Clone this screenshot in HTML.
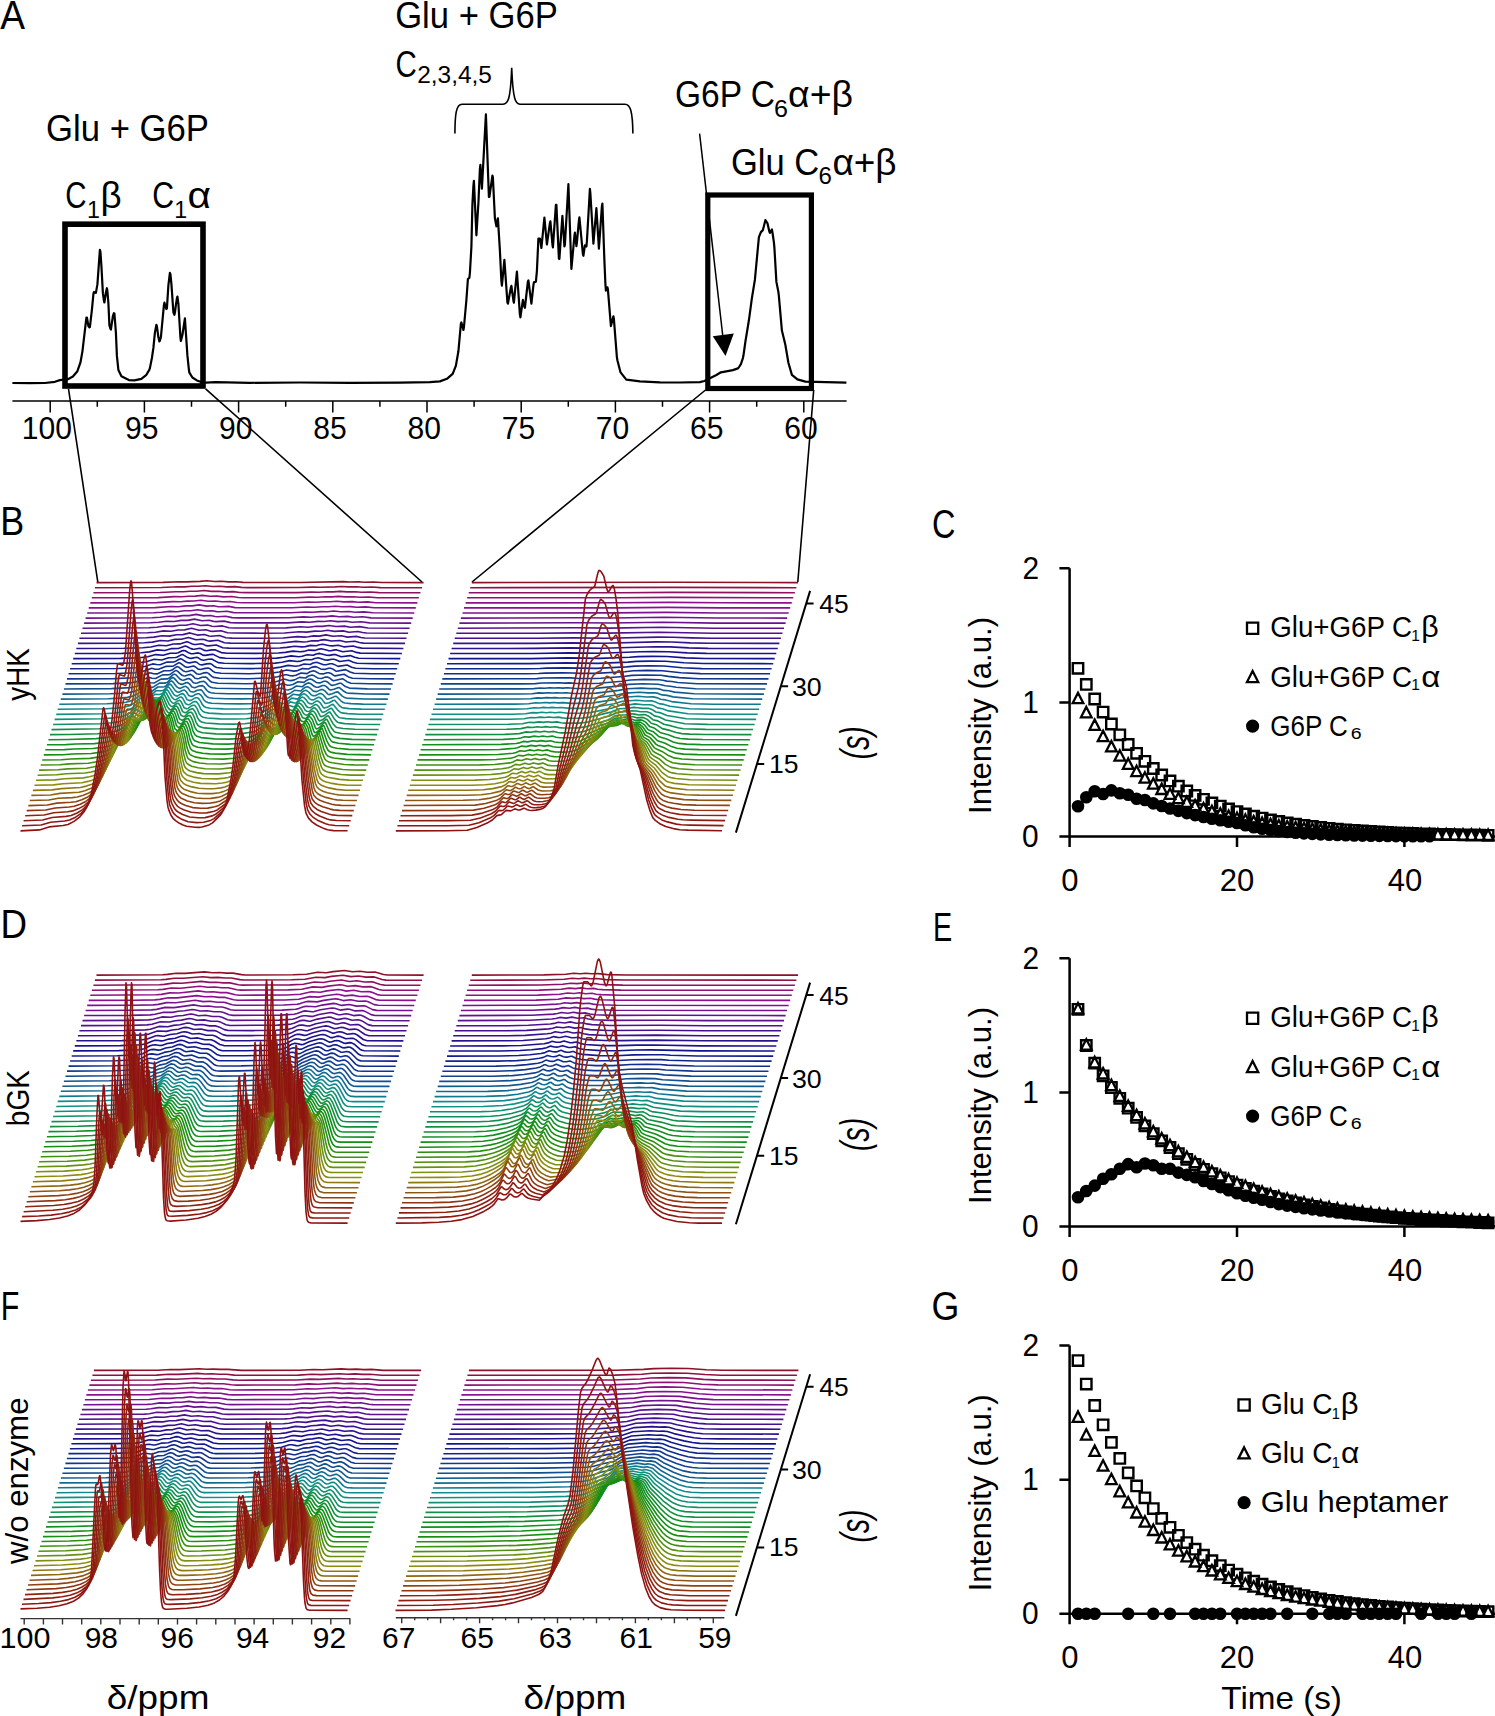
<!DOCTYPE html>
<html><head><meta charset="utf-8"><style>
html,body{margin:0;padding:0;background:#fff;overflow:hidden;}
svg{display:block;}
text{font-family:"Liberation Sans",sans-serif;fill:#000;}
</style></head><body>
<svg width="1495" height="1716" viewBox="0 0 1495 1716">
<rect width="1495" height="1716" fill="#fff"/>
<path d="M12.4 383l17.5 0.2l15-0.2l10-1.2l5-1.7l8-0.9l5-2.7l4.5-5.3l3-8.5l2-11.1l4-34l0.5-0.1l1.5 8.5l1 1.4l0.5-0.3l2-17.2l1.5-15.8l0.5-2l2 0.8l1.5-8.5l2.5-34.6l0.5 1.7l1 14.4l1.5 27.5l1 7l0.5 2.1l1.5-10l1-4.3l0.5 2.8l1 12.4l1 21.7l1 3.6l0.5 0.8l2-13.4l1-2.9l0.5 0.2l1.5 19.2l1 23.3l1.5 14.2l3 6.1l7.5 3.9l5.5 0.3l7-1.5l5-4.1l3-5.2l0.5-1.5l2-10.1l1.5-10.1l1.5-15.3l1.5-7.8l0.5 1.4l1.5 11.1l1 4.1l0.5-0.9l1-3.3l3-31.9l0.5-2.7l1 3.7l1 2.7l0.5-0.6l1.5-23.3l1.5-12.3l0.5 1.3l1 9.7l2 28.5l1 2.5l0.5-2l1-8l1-6.5l0.5-1.8l1 7.5l2 33.2l0.5 3.8l1.5-6l2.5-16.6l2.5 37l1.5 14.4l0.5 2.9l3 4.8l4.5 2.9l3 1.2l6 1l9.5-0.4l34.5 0.6l50-0.3l50 0.3l50-0.2l30-0.4l10-0.8l7-2.6l5.5-4.7l0.5-0.8l3-7.7l2.5-14.3l2.5-27.6l0.5-1.2l2 7.5l0.5-2.5l2.5-27.5l1.5-20.9l1.5-1.4l0.5-4.7l1.5-26.2l1-42.4l1-18.4l0.5-5.1l2.5 54.4l2-32.3l1.5-34.3l0.5-3.8l1.5 23.8l4-74.3l3 82.5l0.5 0l3-21.3l0.5 2l2 40.7l1.5 8l1.5-8l2 32.2l1.5 30.8l0.5 4.3l2.5-25.7l3 42.4l0.5 1.4l3-16.4l0.5-1.5l2 14.9l0.5 2l3-31.2l3 43.1l0.5 2.8l2.5-17.5l1.5 6.9l0.5 1l3-26.4l0.5-1l3 23.3l2-18.4l0.5-2.9l2-0.7l1-10.6l1.5-32.5l1.5 0l0.5 2.2l1 7.2l3-30.5l2.5 27l3-21.4l0.5-1.7l2 22.8l0.5 3.1l3-42.5l0.5 0.1l2.5 53.9l0.5 0l3-43l2 30.7l0.5-2.1l3.5-60.2l3 84.8l3-32.8l0.5-3.5l1.5 13.4l0.5-3.5l2-21.9l0.5-3.4l3.5 36.8l0.5 1.7l1.5-10.5l1.5 1.2l0.5-5.1l3-52.6l0.5 4.9l3 50l3-35.5l2.5 40.5l3-42.4l0.5-2.8l2 57.1l1 23.4l0.5 6.6l1.5-3.3l0.5 2l3 36.8l2.5-9.8l0.5 2.9l3 38.1l0.5 2.9l3 11.9l5.5 7.1l0.5 0.5l13.5 1.7l20 0.9l20 0.2l20-0.4l4.5-1.1l12-6l4.5-2.7l12-2.2l5-1.7l0.5-0.4l2.5-3.9l2-6l0.5-2.3l2-14.1l3.5-21.4l3-22.2l3-18.4l4-42.6l2-5l2-2l2.5-10l2 3l2 8.7l0.5 1.1l2-3.4l0.5 2.5l1.5 10.3l0.5 5.4l2 34.2l2 10.1l0.5 4.4l3 34.2l3.5 14.5l3 17.6l3.5 12.2l5.5 4.5l8 2.2l41 1" fill="none" stroke="#000" stroke-width="2.2" stroke-linejoin="round"/>
<path d="M12.4 401.1H846.6" stroke="#000" stroke-width="1.5" fill="none"/>
<path d="M50.2 401.1v11.3M97.3 401.1v5.7M144.4 401.1v11.3M191.5 401.1v5.7M238.6 401.1v11.3M285.7 401.1v5.7M332.8 401.1v11.3M379.9 401.1v5.7M427 401.1v11.3M474.1 401.1v5.7M521.2 401.1v11.3M568.3 401.1v5.7M615.4 401.1v11.3M662.5 401.1v5.7M709.6 401.1v11.3M756.7 401.1v5.7M803.8 401.1v11.3" stroke="#000" stroke-width="1.5" fill="none"/>
<text x="21.86" y="438.70" font-size="30.85" textLength="50.18" lengthAdjust="spacingAndGlyphs">100</text>
<text x="124.93" y="438.70" font-size="30.85" textLength="33.45" lengthAdjust="spacingAndGlyphs">95</text>
<text x="219.06" y="438.70" font-size="30.85" textLength="33.45" lengthAdjust="spacingAndGlyphs">90</text>
<text x="313.33" y="438.70" font-size="30.85" textLength="33.45" lengthAdjust="spacingAndGlyphs">85</text>
<text x="407.46" y="438.70" font-size="30.85" textLength="33.45" lengthAdjust="spacingAndGlyphs">80</text>
<text x="501.66" y="438.70" font-size="30.85" textLength="33.45" lengthAdjust="spacingAndGlyphs">75</text>
<text x="595.78" y="438.70" font-size="30.85" textLength="33.45" lengthAdjust="spacingAndGlyphs">70</text>
<text x="690.06" y="438.70" font-size="30.85" textLength="33.45" lengthAdjust="spacingAndGlyphs">65</text>
<text x="784.18" y="438.70" font-size="30.85" textLength="33.45" lengthAdjust="spacingAndGlyphs">60</text>
<rect x="65" y="224.2" width="138" height="161.8" fill="none" stroke="#000" stroke-width="5.6"/>
<rect x="707.8" y="195" width="103.6" height="193.5" fill="none" stroke="#000" stroke-width="5.2"/>
<path d="M454.9 133.4C455 115 456 104.2 462 104.2H503C508 104.2 510.5 100 511.7 67.8C513 100 515.5 104.2 520 104.2H625C630.5 104.2 632.6 112 632.9 133.4" fill="none" stroke="#000" stroke-width="1.6"/>
<path d="M699.6 133.6L722.9 337" stroke="#000" stroke-width="1.5" fill="none"/>
<path d="M712.8 336.2L733.8 333.4L725.5 356.1Z" fill="#000"/>
<path d="M68.5 388.8L97.8 582M205.6 388.8L422 582M705.5 390L472 582M813.7 390L797.8 582" stroke="#000" stroke-width="1.6" fill="none"/>
<text x="0.30" y="28.90" font-size="41.00" textLength="24.78" lengthAdjust="spacingAndGlyphs">A</text>
<text x="395.17" y="27.90" font-size="36.50" textLength="162.62" lengthAdjust="spacingAndGlyphs">Glu + G6P</text>
<text x="395.43" y="76.50" font-size="36.50" textLength="21.27" lengthAdjust="spacingAndGlyphs">C</text>
<text x="417.18" y="83.30" font-size="23.50" textLength="74.78" lengthAdjust="spacingAndGlyphs">2,3,4,5</text>
<text x="46.07" y="140.60" font-size="36.50" textLength="162.93" lengthAdjust="spacingAndGlyphs">Glu + G6P</text>
<text x="65.23" y="207.70" font-size="36.50" textLength="21.27" lengthAdjust="spacingAndGlyphs">C</text>
<text x="87.06" y="217.50" font-size="24.00" textLength="12.91" lengthAdjust="spacingAndGlyphs">1</text>
<text x="100.43" y="207.70" font-size="36.50" textLength="21.15" lengthAdjust="spacingAndGlyphs">β</text>
<text x="152.29" y="207.70" font-size="36.50" textLength="21.84" lengthAdjust="spacingAndGlyphs">C</text>
<text x="174.16" y="217.50" font-size="24.00" textLength="12.91" lengthAdjust="spacingAndGlyphs">1</text>
<text x="187.48" y="207.70" font-size="36.50" textLength="23.47" lengthAdjust="spacingAndGlyphs">α</text>
<text x="675.02" y="106.50" font-size="36.50" textLength="99.95" lengthAdjust="spacingAndGlyphs">G6P C</text>
<text x="774.14" y="116.60" font-size="24.00" textLength="13.99" lengthAdjust="spacingAndGlyphs">6</text>
<text x="788.10" y="106.50" font-size="36.50" textLength="64.98" lengthAdjust="spacingAndGlyphs">α+β</text>
<text x="730.97" y="174.80" font-size="36.50" textLength="88.28" lengthAdjust="spacingAndGlyphs">Glu C</text>
<text x="818.50" y="184.30" font-size="24.00" textLength="13.40" lengthAdjust="spacingAndGlyphs">6</text>
<text x="832.42" y="174.80" font-size="36.50" textLength="64.14" lengthAdjust="spacingAndGlyphs">α+β</text>
<g fill="none" stroke-width="1.6" stroke-linejoin="round">
<path d="M96.5 582.6l66.5-0.2l16-0.7l7.5 0.2l13.5-0.5l7-0.6l7.5 0.7l7-0.2l7 0.6l8-0.2l6.5 0.7l6 0.1l51 0l43-0.9l7 0.4l8.5-0.2l6 0.4l9-0.2l8.5 0.5l41.6 0.1" stroke="#8f1126"/>
<path d="M94.9 587.7l66.5-0.2l16-0.8l7.5 0.2l7-0.6l6.5 0l7-0.6l7.5 0.8l7-0.2l7 0.6l8-0.3l6.5 0.8l6 0.2l51-0.1l14.5-0.4l7.5 0.1l14.5-0.3l6.5-0.4l7 0.4l8.5-0.1l6 0.4l9-0.2l8.5 0.6l41.6 0.1" stroke="#8f1143"/>
<path d="M93.4 592.7l66.5-0.2l16-0.8l7.5 0.1l7-0.5l6.5-0.1l7-0.7l7.5 0.9l7-0.2l7 0.7l8-0.3l6.5 0.9l6 0.1l51 0l14.5-0.5l7.5 0.2l8.5-0.5l6 0.1l6.5-0.5l7 0.5l8.5-0.2l6 0.6l9-0.3l8.5 0.6l41.6 0.1" stroke="#8f1161"/>
<path d="M91.8 597.8l66.5-0.2l16-1l7.5 0.2l7-0.6l6.5-0.1l7-0.7l7.5 0.9l7-0.2l7 0.8l8-0.4l6.5 1l6 0.2l51 0l14.5-0.6l7.5 0.2l8.5-0.5l6 0.1l6.5-0.5l7 0.5l8.5-0.2l6 0.6l9-0.3l8.5 0.7l41.6 0.1" stroke="#8f1176"/>
<path d="M90.3 602.9l66.5-0.3l16-1l7.5 0.2l7-0.7l6.5-0.1l7-0.8l7.5 1l7-0.2l7 0.8l8-0.3l6.5 1l6 0.2l51 0l14.5-0.7l7.5 0.3l8.5-0.6l6 0.1l6.5-0.5l7 0.6l8.5-0.3l6 0.7l9-0.4l8.5 0.8l41.6 0.2" stroke="#8f118b"/>
<path d="M88.7 607.9l66.5-0.3l16-1.1l7.5 0.2l7-0.8l6.5 0l7-1l7.5 1.2l7-0.3l4.5 0.9l2.5 0.1l8-0.4l6.5 1.2l6 0.2l51-0.1l14.5-0.7l7.5 0.3l8.5-0.6l6 0.1l6.5-0.6l7 0.6l8.5-0.2l6 0.7l9-0.4l8.5 0.9l41.6 0.1" stroke="#89118f"/>
<path d="M87.2 613l66.5-0.3l8-0.4l8-0.9l7.5 0.3l7-0.9l6.5 0l7-1.1l7.5 1.3l7-0.3l4.5 0.9l2.5 0.1l8-0.4l6.5 1.3l6 0.2l51 0l14.5-0.8l7.5 0.3l8.5-0.7l6 0.1l6.5-0.7l7 0.8l8.5-0.3l6 0.8l9-0.4l8.5 0.9l41.6 0.2" stroke="#7e118f"/>
<path d="M85.6 618.1l66.5-0.4l8-0.4l8-1l7.5 0.3l7-1l6.5 0l7-1.2l7.5 1.5l7-0.4l4.5 1l2.5 0.2l8-0.5l6.5 1.4l6 0.3l51-0.1l14.5-0.9l7.5 0.4l8.5-0.8l6 0.1l6.5-0.7l7 0.8l8.5-0.3l6 0.9l9-0.5l8.5 1.1l41.6 0.2" stroke="#74118f"/>
<path d="M84.1 623.1l66.5-0.4l8-0.5l8-1l7.5 0.3l7-1.1l6.5 0l7-1.3l7.5 1.6l7-0.4l4.5 1.1l2.5 0.2l8-0.5l6.5 1.5l6 0.3l51 0l14.5-1l7.5 0.3l8.5-0.8l6 0.1l6.5-0.8l7 0.9l8.5-0.3l6 0.9l9-0.5l8.5 1.2l41.6 0.2" stroke="#68118f"/>
<path d="M82.5 628.2l66.5-0.4l8-0.6l8-1.2l7.5 0.4l7-1.2l6.5 0l7-1.5l7.5 1.8l7-0.4l4.5 1.2l2.5 0.2l8-0.6l6.5 1.8l6 0.3l51-0.1l14.5-1.1l7.5 0.4l8.5-1l6 0.2l6.5-0.9l7 1l8.5-0.4l6 1.1l9-0.6l8.5 1.4l41.6 0.2" stroke="#5c118f"/>
<path d="M81 633.3l66.5-0.5l8-0.6l8-1.3l7.5 0.4l7-1.3l6.5-0.1l7-1.6l7.5 2l7-0.5l4.5 1.4l2.5 0.2l8-0.7l6.5 2l6 0.3l27.5 0.2l23.5-0.2l14.5-1.3l7.5 0.4l8.5-1l6 0.2l6.5-1.1l7 1.2l8.5-0.5l6 1.3l9-0.7l4.5 1l4 0.5l41.6 0.3" stroke="#50118f"/>
<path d="M79.4 638.3l47.5-0.1l19-0.4l8-0.7l8-1.4l7.5 0.4l7-1.4l6.5-0.1l7-1.7l7.5 2.2l7-0.6l4.5 1.5l2.5 0.2l8-0.7l6.5 2.2l6 0.4l27.5 0.2l23.5-0.3l14.5-1.4l7.5 0.5l3.5-0.3l5-0.9l6 0.2l6.5-1.2l7 1.3l8.5-0.5l6 1.4l9-0.7l4.5 1.1l4 0.5l41.6 0.3" stroke="#43118f"/>
<path d="M77.9 643.4l47.5-0.1l19-0.5l8-0.7l8-1.6l7.5 0.5l7-1.6l6.5-0.1l7-1.9l7.5 2.4l7-0.6l2 0.5l2.5 1.1l2.5 0.3l8-0.8l6.5 2.4l6 0.4l27.5 0.2l23.5-0.3l14.5-1.6l7.5 0.6l3.5-0.3l5-1l6 0.2l3-0.8l3.5-0.5l7 1.4l8.5-0.5l6 1.5l9-0.8l4.5 1.3l4 0.6l41.6 0.3" stroke="#37118f"/>
<path d="M76.3 648.5l47.5-0.2l19-0.5l8-0.8l8-1.8l7.5 0.6l7-1.8l6.5-0.1l7-2.1l1.5 0.3l4 1.9l2 0.5l1.5 0l5.5-0.7l2 0.5l2.5 1.3l2.5 0.3l8-0.9l6.5 2.7l6 0.4l28 0.3l23-0.4l7-0.6l7.5-1.1l7.5 0.6l3.5-0.3l5-1.2l6 0.3l3-0.9l3.5-0.6l7 1.6l2.5 0.1l6-0.7l6 1.7l9-0.9l4.5 1.4l4 0.7l41.6 0.4" stroke="#2a118f"/>
<path d="M74.8 653.5l47.5-0.1l19-0.6l8-0.9l8-2l7.5 0.6l7-1.9l6.5-0.1l7-2.4l1.5 0.4l4 2.1l2 0.5l1.5 0.1l5.5-0.9l2 0.7l2.5 1.4l2.5 0.3l4.5-0.8l3.5-0.2l6.5 2.9l6 0.6l28 0.2l23-0.4l7-0.6l7.5-1.3l7.5 0.7l3.5-0.4l5-1.3l6 0.3l3-1l3.5-0.6l7 1.8l2.5 0.1l4-0.8l2 0l6 1.9l9-1l4.5 1.6l4 0.7l41.6 0.4" stroke="#1e118f"/>
<path d="M73.2 658.6l47.5-0.2l19-0.6l8-1l8-2.2l7.5 0.7l7-2.1l6.5-0.1l1.5-0.4l4-1.9l1.5-0.4l1.5 0.4l4 2.3l2 0.6l1.5 0.1l5.5-0.9l2 0.6l2.5 1.6l2.5 0.3l4.5-0.8l3.5-0.2l6.5 3.2l6 0.6l28 0.3l23-0.4l7-0.8l7.5-1.4l7.5 0.8l3.5-0.4l5-1.5l6 0.4l3-1.2l3.5-0.6l7 1.9l2.5 0.1l4-0.8l2 0l6 2.1l9-1.1l4.5 1.7l4 0.9l41.6 0.4" stroke="#13118f"/>
<path d="M71.7 663.7l47.5-0.3l19-0.6l8-1.1l8-2.4l7.5 0.7l7-2.3l6.5-0.2l1.5-0.3l4-2.1l1.5-0.5l1.5 0.5l4 2.5l2 0.6l1.5 0.2l5.5-1.1l2 0.8l2.5 1.7l2.5 0.4l4.5-0.9l3.5-0.3l6.5 3.6l6 0.6l28 0.4l23-0.5l7-0.9l7.5-1.6l7.5 0.9l3.5-0.4l5-1.6l6 0.3l3-1.3l3.5-0.7l7 2.2l2.5 0.1l4-0.9l2 0l2 0.5l4 1.8l9-1.2l4.5 1.9l4 1l18 0.4l23.6 0.1" stroke="#111c8f"/>
<path d="M70.1 668.7l47.5-0.2l19-0.7l8-1.3l8-2.6l4 0.6l3.5 0.2l7-2.6l6.5-0.1l1.5-0.4l4-2.4l1.5-0.5l1.5 0.6l4 2.7l2 0.7l1.5 0.2l5.5-1.2l2 0.8l2.5 2l2.5 0.4l4.5-1l3.5-0.3l1.5 0.6l3 2.4l2 0.9l6 0.7l28 0.4l23-0.5l7-1l7.5-1.7l7.5 0.9l3.5-0.5l5-1.8l6 0.5l3-1.5l3.5-0.8l7 2.5l2.5 0.1l4-1l2 0l2 0.6l4 2l9-1.4l4.5 2.2l4 1l18 0.5l23.6 0" stroke="#11258f"/>
<path d="M68.6 673.8l47.5-0.3l19-0.8l8-1.4l8-2.9l1.5 0.1l2.5 0.7l3.5 0.1l7-2.9l6.5-0.1l1.5-0.4l4-2.6l1.5-0.5l1.5 0.5l4 3.1l2 0.8l1.5 0.1l5.5-1.3l2 1l2.5 2.1l2.5 0.4l4.5-1.1l3.5-0.3l1.5 0.7l3 2.6l2 1.1l6 0.8l28 0.4l23-0.7l7-1l7.5-2l7.5 1.1l3.5-0.5l5-2l6 0.4l3-1.6l3.5-0.8l1.5 0.3l4 2l1.5 0.4l2.5 0.1l4-1.1l2 0l2 0.6l3 2l1 0.3l9-1.6l4.5 2.4l4 1.2l18 0.5l23.6 0.1" stroke="#112e8f"/>
<path d="M67 678.9l47.5-0.3l19-0.9l8-1.6l8-3.2l1.5 0.1l2.5 0.7l3.5 0.2l7-3.2l6.5-0.1l1.5-0.5l4-2.9l1.5-0.6l1.5 0.7l4 3.4l2 0.8l1.5 0.2l5.5-1.4l2 1l2.5 2.4l2.5 0.5l1.5-0.2l3-1.1l3.5-0.3l1.5 0.8l3 2.8l2 1.2l6 0.9l28 0.4l23-0.7l7-1.2l7.5-2.1l1.5 0l4 1.1l2 0.1l3.5-0.6l5-2.3l6 0.6l3-1.8l3.5-1l1.5 0.4l4 2.2l1.5 0.4l2.5 0.1l4-1.2l2 0l2 0.7l3 2.2l1 0.3l9-1.7l4.5 2.7l4 1.3l18 0.6l23.6 0.1" stroke="#11378f"/>
<path d="M65.5 683.9l47.5-0.3l19-1l8-1.7l8-3.5l1.5 0l2.5 0.9l3.5 0.2l7-3.6l6.5-0.1l1.5-0.6l4-3.1l1.5-0.7l1.5 0.7l4 3.8l2 0.9l1.5 0.2l3.5-1.2l2-0.4l2 1.2l2.5 2.6l2.5 0.5l1.5-0.2l3-1.2l3.5-0.3l1.5 0.9l3 3.1l2 1.3l6 1l28 0.5l23-0.8l7-1.3l7.5-2.4l1.5 0l4 1.2l2 0.1l3.5-0.7l5-2.5l6 0.6l3-2l3.5-1.1l1.5 0.5l4 2.5l1.5 0.4l2.5 0.2l4-1.4l2 0l2 0.8l3 2.4l1 0.4l9-2l4.5 3l4 1.5l18 0.6l23.6 0.1" stroke="#11438f"/>
<path d="M63.9 689l47.5-0.4l19-1l4.5-0.9l3.5-1l8-4l1.5 0.1l2.5 0.9l3.5 0.3l1.5-0.6l5.5-3.3l6.5-0.2l1.5-0.6l4-3.5l1.5-0.7l1.5 0.7l4 4.2l2 1l1.5 0.2l3.5-1.3l2-0.4l2 1.2l2.5 3l2.5 0.5l1.5-0.2l3-1.3l3.5-0.4l1.5 1l3 3.5l2 1.4l2 0.6l4 0.5l28 0.5l11-0.2l12-0.6l7-1.5l5-2l2.5-0.7l1.5 0l4 1.4l2 0.1l3.5-0.8l5-2.7l6 0.6l3-2.2l2-1l1.5-0.2l1.5 0.5l4 2.7l1.5 0.6l2.5 0.1l4-1.6l2 0l2 1l3 2.7l1 0.4l3.5-0.7l4-1.4l1.5-0.1l4.5 3.4l4 1.5l18 0.8l23.6 0.1" stroke="#114f8f"/>
<path d="M62.4 694.1l47.5-0.4l11.5-0.5l7.5-0.7l4.5-0.9l3.5-1.2l8-4.4l1.5 0.1l2.5 1l3.5 0.3l1.5-0.7l5.5-3.6l5 0l1.5-0.2l1.5-0.7l4-3.9l1.5-0.8l1.5 0.9l4 4.6l2 1.1l1.5 0.3l3.5-1.5l2-0.4l2 1.3l2.5 3.2l2.5 0.7l1.5-0.3l3-1.4l3.5-0.4l1.5 1l3 3.9l2 1.6l2 0.6l4 0.5l13 0.6l15 0l11-0.1l12-0.8l7-1.6l5-2.3l2.5-0.7l1.5 0l4 1.5l2 0.2l3.5-0.9l5-3.1l6 0.7l3-2.5l2-1l1.5-0.3l1.5 0.5l4 3.1l1.5 0.6l2.5 0.2l4-1.8l2 0l2 1.1l3 3l1 0.4l3.5-0.7l4-1.5l1.5-0.2l4.5 3.7l2.5 1.4l1.5 0.4l18 0.9l23.6 0.1" stroke="#115a8f"/>
<path d="M60.8 699.1l47.5-0.4l11.5-0.6l7.5-0.7l4.5-1l3.5-1.3l8-4.9l1.5 0.1l2.5 1.2l3.5 0.2l1.5-0.7l5.5-4l5 0l1.5-0.3l1.5-0.7l4-4.3l1.5-0.8l1.5 0.9l4 5.1l2 1.2l1.5 0.3l3.5-1.7l2-0.4l2 1.5l2.5 3.6l2.5 0.7l1.5-0.3l3-1.6l3.5-0.5l1.5 1.2l3 4.3l2 1.7l2 0.8l4 0.5l13 0.6l15 0.1l11-0.2l12-0.9l2.5-0.4l4.5-1.4l5-2.5l2.5-0.8l1.5 0l4 1.7l2 0.2l3.5-1l5-3.4l6 0.8l3-2.8l2-1.2l1.5-0.3l1.5 0.6l2 1.4l2 2.1l1.5 0.6l2.5 0.2l4-2l2 0l2 1.2l3 3.3l1 0.5l3.5-0.8l4-1.7l1.5-0.2l4.5 4.2l2.5 1.5l1.5 0.5l18 0.9l23.6 0.1" stroke="#116a8f"/>
<path d="M59.3 704.2l47.5-0.5l11.5-0.6l7.5-0.9l4.5-1.1l3.5-1.4l8-5.3l1.5 0.1l2.5 1.2l3.5 0.3l1.5-0.8l5.5-4.5l5 0.1l1.5-0.3l1.5-0.8l4-4.7l1.5-1l1.5 1l4 5.6l2 1.4l1.5 0.3l3.5-1.8l2-0.5l2 1.7l2.5 3.9l2.5 0.8l1.5-0.3l3-1.8l2-0.5l1.5 0l1.5 1.3l1.5 1.9l1.5 2.8l2 2l2 0.8l4 0.6l13 0.6l15 0.1l11-0.2l12-0.9l2.5-0.5l4.5-1.6l5-2.8l2.5-0.9l1.5 0l4 1.9l2 0.2l3.5-1.1l5-3.8l6 0.9l3-3.1l2-1.3l1.5-0.4l1.5 0.7l2 1.6l2 2.3l1.5 0.7l2.5 0.2l4-2.2l2 0l2 1.3l3 3.7l1 0.6l3.5-0.9l4-1.9l1.5-0.2l4.5 4.6l2.5 1.7l1.5 0.5l6 0.6l12 0.5l23.6 0.1" stroke="#11798f"/>
<path d="M57.7 709.3l47.5-0.6l11.5-0.6l7.5-1l4.5-1.2l3.5-1.6l2.5-1.6l5.5-4.3l1.5 0.1l2.5 1.4l3.5 0.3l1.5-0.8l5.5-5l5 0.1l1.5-0.4l1.5-0.9l4-5.2l1.5-1.1l1.5 1.2l4 6.2l2 1.5l1.5 0.3l3.5-2l2-0.5l1 0.6l1 1.2l2.5 4.4l2.5 0.8l1.5-0.3l3-2l2-0.5l1.5 0l1.5 1.4l1.5 2.2l1.5 3l2 2.2l2 0.9l4 0.7l13 0.7l15 0.1l11-0.3l12-1l2.5-0.6l4.5-1.7l5-3.1l2.5-1.1l1.5 0.1l4 2.1l2 0.2l3.5-1.2l5-4.3l6 1l3-3.4l2-1.5l1.5-0.4l1.5 0.8l2 1.7l2 2.6l1.5 0.8l2.5 0.2l4-2.4l1-0.3l1 0.3l2 1.4l3 4.1l1 0.6l3.5-0.9l4-2.2l1.5-0.2l4.5 5.2l2.5 1.9l1.5 0.5l6 0.7l12 0.5l23.6 0.2" stroke="#11898f"/>
<path d="M56.2 714.4l47.5-0.7l11.5-0.7l7.5-1.1l4.5-1.3l3.5-1.8l2.5-1.7l5.5-4.8l1.5 0.1l2.5 1.6l3.5 0.3l1.5-0.9l5.5-5.5l5 0.1l1.5-0.4l1.5-1l4-5.8l1.5-1.2l0.5 0.1l1 1.2l4 6.8l2 1.8l1.5 0.3l3.5-2.2l2-0.6l1 0.7l1 1.3l2.5 4.8l2.5 1l1.5-0.4l3-2.1l2-0.7l1.5 0l1.5 1.6l1.5 2.4l1.5 3.4l2 2.3l2 1l4 0.8l13 0.8l15 0.1l11-0.3l12-1.2l2.5-0.5l4.5-2l2-1.1l3-2.4l2.5-1.1l1.5 0l2 1.5l2 0.9l2 0.2l3.5-1.3l5-4.8l4.5 1.1l1.5 0l3-3.8l2-1.6l1.5-0.5l1.5 0.8l2 2l2 2.8l1.5 0.9l2.5 0.3l4-2.7l1-0.3l1 0.3l2 1.6l3 4.6l1 0.7l3.5-1.1l4-2.4l1.5-0.2l4.5 5.7l2.5 2.1l1.5 0.7l6 0.7l12 0.6l23.6 0.1" stroke="#118f84"/>
<path d="M54.6 719.4l47.5-0.7l11.5-0.8l7.5-1.1l4.5-1.6l3.5-1.9l2.5-1.9l5.5-5.3l1.5 0.1l2.5 1.7l3.5 0.4l1.5-1l5.5-6.1l5 0.1l1.5-0.4l1.5-1.1l4-6.4l1.5-1.3l0.5 0.1l1 1.3l4 7.5l2 2l1.5 0.3l3.5-2.4l2-0.7l1 0.8l1 1.5l2.5 5.3l2.5 1l1.5-0.4l3-2.4l2-0.7l1.5 0l1.5 1.8l1.5 2.6l1.5 3.8l2 2.6l2 1.1l4 0.8l13 0.9l15 0.1l11-0.3l12-1.3l2.5-0.6l4.5-2.2l2-1.3l3-2.6l2.5-1.3l1.5 0.1l2 1.6l2 1l2 0.3l3.5-1.6l5-5.2l1 0l3.5 1.2l1.5 0l3-4.3l2-1.8l1.5-0.5l1.5 0.9l2 2.2l2 3.2l1.5 1l2.5 0.2l4-2.9l1-0.3l1 0.2l2 1.8l3 5.2l1 0.7l3.5-1.2l4-2.6l1.5-0.3l4.5 6.4l2.5 2.4l1.5 0.7l6 0.8l12 0.6l23.6 0.2" stroke="#118f72"/>
<path d="M53.1 724.5l47.5-0.8l11.5-0.9l7.5-1.3l4.5-1.6l3.5-2.2l2.5-2.1l5.5-5.8l1.5 0.1l2.5 1.9l3.5 0.4l1.5-1.1l4.5-5.9l1-0.9l5 0.2l1.5-0.5l1.5-1.2l4-7.1l1.5-1.5l0.5 0.2l1 1.4l4 8.4l2 2.1l1.5 0.4l3.5-2.7l2-0.8l1 0.9l1 1.6l2.5 5.9l2.5 1.2l1.5-0.5l3-2.6l2-0.8l1.5 0l1.5 2l1.5 2.9l1.5 4.1l2 2.9l2 1.2l4 1l13 0.9l15 0.2l11-0.4l12-1.5l2.5-0.7l4.5-2.4l2-1.4l3-2.9l2.5-1.4l1.5 0l2 1.8l2 1.2l2 0.2l2.5-0.9l1-0.8l5-5.8l1 0l3.5 1.3l1.5 0l3-4.7l2-2l1.5-0.6l1.5 1l2 2.5l2 3.5l1.5 1.1l2.5 0.3l4-3.3l1-0.4l1 0.3l2 2l3 5.7l1 0.9l3.5-1.3l4-3l1.5-0.3l4.5 7.2l2.5 2.6l1.5 0.7l6 1l12 0.6l23.6 0.3" stroke="#118f61"/>
<path d="M51.5 729.6l47.5-0.9l11.5-1l7.5-1.4l4.5-1.8l3.5-2.4l2.5-2.4l5.5-6.4l0.5-0.2l1 0.3l2.5 2.1l3.5 0.5l1.5-1.3l4.5-6.5l1-0.9l5 0.1l1.5-0.5l1.5-1.3l4-7.9l1.5-1.6l0.5 0.2l1 1.5l4 9.3l2 2.3l1.5 0.5l3.5-3.1l2-0.8l1 1l1 1.8l2.5 6.5l2.5 1.3l1.5-0.5l3-2.9l2-0.9l1.5 0l1.5 2.2l1.5 3.2l1.5 4.6l2 3.2l2 1.3l4 1.1l13.5 1l15 0.2l11-0.5l11.5-1.6l2.5-0.7l4.5-2.7l2-1.6l3-3.3l2.5-1.5l1.5 0l2 2.1l2 1.2l2 0.3l2.5-1.1l1-0.8l5-6.5l1 0l3.5 1.5l1.5 0l3-5.3l2-2.2l1.5-0.7l1.5 1.2l2 2.7l2 3.9l1.5 1.2l1.5 0.4l1-0.1l4-3.6l1-0.4l1 0.3l2 2.3l3 6.3l1 1l3.5-1.5l4-3.3l1.5-0.3l4.5 7.9l2.5 2.9l1.5 0.9l6 1l12 0.8l23.6 0.2" stroke="#118f4f"/>
<path d="M50 734.6l19-0.1l28.5-0.8l11.5-1.1l7.5-1.6l4.5-2l3.5-2.6l2.5-2.6l5.5-7.2l0.5-0.2l1 0.4l2.5 2.3l3.5 0.5l1.5-1.4l4.5-7.2l1-1l5 0.1l1.5-0.6l1.5-1.4l4-8.7l1.5-1.8l0.5 0.2l1 1.7l4 10.3l2 2.6l1 0.5l0.5 0l3.5-3.4l2-0.9l1 1l1 2.1l2.5 7.2l2.5 1.4l1.5-0.5l3-3.3l2-0.9l1.5 0l1.5 2.4l1.5 3.5l1.5 5.1l2 3.5l2 1.5l4 1.2l13.5 1.1l15 0.2l11-0.5l11.5-1.8l2.5-0.9l4.5-2.9l2-1.8l3-3.6l2.5-1.8l1.5 0.1l2 2.2l2 1.5l2 0.3l2.5-1.2l1-0.9l5-7.3l1 0l3.5 1.6l1.5 0.1l3-5.9l2-2.5l1.5-0.7l1.5 1.3l2 3l2 4.3l0.5 0.8l1 0.6l1.5 0.5l1-0.2l4-4l1-0.5l1 0.4l2 2.5l3 7.1l1 1l1.5-0.4l2-1.2l4-3.7l1.5-0.3l4.5 8.8l2.5 3.2l1.5 1l6 1.2l12 0.8l23.6 0.3" stroke="#118f3c"/>
<path d="M48.4 739.7l19-0.2l28.5-0.9l11.5-1.2l7.5-1.7l4.5-2.2l3.5-3l2.5-2.8l5.5-7.9l0.5-0.2l1 0.4l2.5 2.5l2 0.6l1.5 0l1.5-1.6l4.5-7.9l1-1.2l5 0.2l1.5-0.7l1.5-1.5l4-9.7l1.5-1.9l0.5 0.2l1 1.9l4 11.3l2 2.9l1 0.6l0.5-0.1l3.5-3.7l1-0.7l1-0.3l1 1.2l1 2.2l2.5 8l2.5 1.6l1-0.2l0.5-0.4l3-3.6l2-1.1l1.5 0l1.5 2.7l1.5 3.9l1.5 5.6l2 3.9l2 1.6l4 1.3l13.5 1.3l15 0.2l11-0.6l11.5-1.9l2.5-1l4.5-3.3l2-2l3-4l2.5-2l1-0.2l0.5 0.3l2 2.5l2 1.6l1 0.4l1-0.1l2.5-1.3l1-1l5-8.1l1 0l3.5 1.8l1.5 0.1l3-6.6l2-2.8l1.5-0.8l1.5 1.4l2 3.4l2 4.9l0.5 0.8l1 0.7l1.5 0.5l1-0.1l4-4.6l1-0.5l1 0.5l2 2.7l3 7.9l1 1.2l1.5-0.5l2-1.3l4-4.1l1.5-0.4l4.5 9.9l2.5 3.5l1.5 1.1l6 1.3l12 1l23.6 0.3" stroke="#118f2a"/>
<path d="M46.9 744.8l19-0.2l9.5-0.6l19-0.4l11.5-1.3l7.5-1.9l4.5-2.5l3.5-3.3l2.5-3.1l5.5-8.8l0.5-0.2l1 0.5l2.5 2.8l2 0.6l1.5 0l1.5-1.7l4.5-8.8l1-1.3l5 0.2l1.5-0.7l1.5-1.8l4-10.6l1.5-2.2l0.5 0.2l1 2.1l4 12.6l2 3.1l1 0.7l0.5 0l3.5-4.2l1-0.8l1-0.2l1 1.2l1 2.5l2.5 8.8l1.5 1.4l1 0.4l1-0.2l0.5-0.5l3-4l2-1.1l1.5 0l1.5 2.9l1.5 4.3l1.5 6.2l2 4.4l1 1.2l1 0.6l4 1.4l13.5 1.4l15 0.2l11-0.6l7.5-1.2l4-1l2.5-1.1l4.5-3.7l2-2.2l3-4.5l2.5-2.2l1-0.2l0.5 0.3l2 2.8l2 1.8l1 0.4l1-0.1l2.5-1.4l1-1.1l5-9.1l1 0l3.5 2l1.5 0.1l3-7.3l2-3.1l1.5-0.9l1.5 1.6l2 3.8l2 5.4l0.5 0.9l1 0.8l1.5 0.5l1-0.1l4-5.1l1-0.5l1 0.5l2 3l3 8.8l1 1.3l1.5-0.5l2-1.5l4-4.6l1-0.5l0.5 0.1l4.5 11l2.5 4l1.5 1.2l6 1.4l12 1.1l23.6 0.3" stroke="#118f20"/>
<path d="M45.3 749.8l19-0.2l9.5-0.6l19-0.5l11.5-1.4l7.5-2.1l4.5-2.8l3.5-3.6l2.5-3.5l5.5-9.6l0.5-0.3l1 0.5l2.5 3.1l2 0.7l1.5 0.1l1.5-2l4.5-9.7l1-1.4l5 0.2l1.5-0.8l1.5-1.9l4-11.8l1-2l0.5-0.4l0.5 0.2l1 2.4l4 13.8l2 3.5l1 0.8l0.5-0.1l3.5-4.5l1-0.9l1-0.3l1 1.4l1 2.7l2.5 9.8l1.5 1.4l1 0.5l1-0.2l0.5-0.6l2-3.3l1-1l2-1.3l1-0.3l0.5 0.3l1.5 3.2l1.5 4.8l1.5 6.8l2 4.8l1 1.4l1 0.6l4 1.6l13.5 1.6l15 0.2l11-0.7l7.5-1.3l4-1.1l2.5-1.3l4.5-4.1l2-2.4l3-5l2.5-2.4l1-0.3l0.5 0.3l2 3.2l2 1.9l1 0.5l1-0.1l2.5-1.6l1-1.3l5-10l1 0l3.5 2.2l1 0.3l0.5-0.2l3-8.2l2-3.4l1-0.9l0.5-0.1l1.5 1.8l2 4.2l2 6l0.5 1l1 0.9l1.5 0.6l1-0.1l4-5.7l1-0.6l1 0.6l2 3.4l3 9.8l1 1.4l1.5-0.6l2-1.6l4-5.1l1-0.6l0.5 0.1l4.5 12.2l2.5 4.5l1.5 1.4l2.5 0.8l3.5 0.7l12 1.2l23.6 0.4" stroke="#118f17"/>
<path d="M43.8 754.9l19-0.2l9.5-0.7l19-0.5l11.5-1.6l7.5-2.4l4.5-3l3.5-4l2.5-3.8l5.5-10.7l0.5-0.3l1 0.5l2.5 3.5l2 0.8l1.5 0l1.5-2.1l2.5-5.4l2-5.4l1-1.6l5 0.3l1.5-0.9l1.5-2.2l4-13l1-2.2l0.5-0.4l0.5 0.2l1 2.6l4 15.3l2 3.9l1 0.9l0.5-0.1l3.5-5.1l1-1l1-0.3l1 1.5l1 3.1l2.5 10.8l1.5 1.6l1 0.5l1-0.2l0.5-0.6l2-3.7l1-1.2l2-1.4l1-0.3l0.5 0.3l1.5 3.6l1.5 5.3l1.5 7.5l2 5.4l1 1.4l1 0.8l4 1.7l6.5 1.1l7 0.7l15 0.2l11-0.8l7.5-1.5l4-1.2l2.5-1.4l4.5-4.6l2-2.6l3-5.7l2.5-2.7l1-0.2l0.5 0.3l2 3.5l2 2.2l1 0.6l1-0.2l2.5-1.7l1-1.5l5-11.2l1 0.1l3.5 2.4l1 0.4l0.5-0.3l3-9.1l2-3.8l1-1l0.5-0.1l1.5 2l2 4.7l2 6.6l0.5 1.2l1 1l1.5 0.7l1-0.2l4-6.3l1-0.7l1 0.6l2 3.8l3 11l1 1.6l1.5-0.7l2-1.8l4-5.7l1-0.7l0.5 0.1l4.5 13.7l2.5 5l1.5 1.5l2.5 1l3.5 0.7l12 1.3l23.6 0.5" stroke="#158f11"/>
<path d="M42.2 760l19-0.3l9.5-0.7l19-0.6l11.5-1.8l4.5-1.3l3-1.3l4.5-3.4l3.5-4.3l2.5-4.3l5.5-11.8l0.5-0.4l1 0.7l2.5 3.8l2 0.9l1.5 0l1.5-2.4l2.5-5.9l2-5.9l1-1.8l5 0.3l1.5-1l1.5-2.4l4-14.4l1-2.4l0.5-0.5l0.5 0.3l1 2.8l4 17l2 4.3l1 0.9l0.5-0.1l3.5-5.6l1-1.1l1-0.3l1 1.7l1 3.3l2.5 12l1.5 1.7l1 0.6l1-0.3l0.5-0.6l2-4.1l1-1.2l2-1.6l1-0.3l0.5 0.3l1.5 3.9l1.5 5.9l1.5 8.3l2 5.9l1 1.7l1 0.8l4 1.9l6.5 1.2l7 0.7l15 0.3l11-0.9l7.5-1.7l4-1.3l2.5-1.5l4.5-5.2l2-2.9l3-6.3l2.5-3l1-0.3l0.5 0.4l2 3.9l2 2.4l1 0.6l1-0.1l2.5-2l1-1.6l5-12.5l1 0.1l3.5 2.7l1 0.4l0.5-0.3l3-10.1l2-4.3l1-1.1l0.5-0.1l1.5 2.2l2 5.2l2 7.5l0.5 1.3l1 1l1.5 0.8l1-0.2l4-7l1-0.8l1 0.7l2 4.3l3 12.2l1 1.7l1.5-0.7l2-2l4-6.4l1-0.7l0.5 0.1l4.5 15.2l2.5 5.5l1.5 1.7l2.5 1.1l3.5 0.9l12 1.4l9.5 0.5l14.1 0" stroke="#2a8f11"/>
<path d="M40.7 765l19-0.2l9.5-0.9l19-0.6l11.5-2l4.5-1.4l3-1.5l4.5-3.7l3.5-4.8l2.5-4.7l5.5-13.1l0.5-0.4l1 0.7l2.5 4.2l2 1l1.5 0l1.5-2.6l2.5-6.6l2-6.5l1-1.9l5 0.3l1.5-1.2l1.5-2.6l4-15.9l1-2.7l0.5-0.5l0.5 0.3l1 3.1l4 18.8l2 4.7l1 1.1l0.5-0.1l3.5-6.2l1-1.2l1-0.4l1 1.9l1 3.7l2.5 13.2l1.5 2l1 0.6l1-0.3l0.5-0.8l2-4.4l1-1.4l2-1.8l1-0.3l0.5 0.3l1.5 4.4l1.5 6.4l1.5 9.3l2 6.5l1 1.8l1 0.9l4 2.1l6.5 1.4l7 0.8l15 0.2l11-1l7.5-1.8l4-1.5l2.5-1.7l4.5-5.7l2-3.3l3-7l2.5-3.3l1-0.4l0.5 0.5l2 4.3l2 2.7l1 0.7l1-0.1l2.5-2.3l1-1.7l5-14l1 0.1l3.5 3.1l1 0.4l0.5-0.3l3-11.3l2-4.7l1-1.3l0.5-0.1l1.5 2.4l2 5.8l2 8.3l0.5 1.5l1 1.2l1.5 0.8l1-0.2l4-7.8l1-0.8l1 0.7l2 4.7l3 13.6l1 2l1.5-0.8l2-2.3l4-7.1l1-0.8l0.5 0.2l4.5 16.9l2.5 6.2l1.5 1.8l2.5 1.3l3.5 0.9l12 1.7l9.5 0.4l14.1 0.1" stroke="#3f8f11"/>
<path d="M39.1 770.1l19-0.3l9.5-0.9l19-0.7l11.5-2.2l4.5-1.6l3-1.6l4.5-4.1l3.5-5.3l2.5-5.3l5.5-14.4l0.5-0.4l1 0.7l2.5 4.7l2 1.1l1.5 0l1.5-2.9l2.5-7.3l2-7.2l1-2.1l1-0.2l4 0.5l1.5-1.2l1.5-2.9l4-17.6l1-3l0.5-0.6l0.5 0.3l1 3.5l4 20.7l2 5.3l1 1.2l0.5-0.2l3.5-6.8l1-1.3l1-0.5l1 2.1l1 4.1l2.5 14.6l1.5 2.2l1 0.7l1-0.3l0.5-0.9l2-4.9l1-1.6l2-1.9l1-0.4l0.5 0.4l1.5 4.8l1.5 7.2l1.5 10.2l2 7.2l1 2l1 1l4 2.3l6.5 1.5l7 0.9l15 0.3l11-1.1l7.5-2.1l4-1.7l2.5-1.8l4.5-6.4l2-3.7l3-7.8l2.5-3.7l1-0.4l0.5 0.5l2 4.8l2 3l1 0.8l1-0.1l2.5-2.5l1-1.9l5-15.6l0.5-0.2l0.5 0.3l3.5 3.4l1 0.5l0.5-0.3l3-12.7l2-5.2l1-1.4l0.5-0.1l1.5 2.7l2 6.5l2 9.2l0.5 1.6l1 1.3l1.5 1l1-0.2l4-8.8l1-0.9l1 0.9l2 5.2l3 15.2l1 2.2l1.5-1l2-2.5l4-7.9l1-0.8l0.5 0.1l4.5 18.9l2.5 6.8l1.5 2.1l2.5 1.4l3.5 1l12 1.9l9.5 0.5l14.1 0.1" stroke="#548f11"/>
<path d="M37.6 775.2l19-0.4l9.5-1l19-0.8l6-1l5.5-1.4l4.5-1.7l3-1.8l4.5-4.6l3.5-5.8l2.5-5.8l5.5-16l0.5-0.5l1 0.9l2.5 5.1l2 1.2l1.5 0.1l1.5-3.2l2.5-8.1l2-8l1-2.3l1-0.2l4 0.5l0.5-0.1l1-1.2l1.5-3.2l4-19.5l1-3.3l0.5-0.7l0.5 0.4l1 3.9l4 22.9l2 5.8l1 1.3l0.5-0.2l3.5-7.5l1-1.5l1-0.5l1 2.3l1 4.6l2.5 16.1l1.5 2.4l1 0.8l0.5 0l0.5-0.4l0.5-0.9l2-5.4l1-1.8l2-2.1l1-0.4l0.5 0.4l1.5 5.3l1.5 7.9l1.5 11.3l2 8l1 2.2l1 1.1l2 1.6l2 1l6.5 1.6l7 1l15 0.3l11-1.2l7.5-2.3l4-1.9l2.5-2.1l4.5-7l2-4.2l3-8.6l2.5-4.2l1-0.4l0.5 0.6l2 5.3l2 3.4l1 0.8l1-0.1l2.5-2.8l1-2.2l5-17.2l0.5-0.3l0.5 0.3l2 2.5l1.5 1.4l1 0.5l0.5-0.4l3-14.1l2-5.8l1-1.6l0.5-0.1l0.5 0.5l1 2.5l2 7.2l2 10.3l0.5 1.8l1 1.5l1.5 1.1l0.5 0.1l0.5-0.4l4-9.7l1-1l1 0.9l2 5.9l3 16.8l0.5 1.9l0.5 0.6l1.5-1.1l2-2.8l4-8.7l1-1l0.5 0.1l4.5 21.1l2.5 7.6l1.5 2.3l2.5 1.5l3.5 1.2l12 2.1l9.5 0.6l14.1 0" stroke="#698f11"/>
<path d="M36 780.2l19-0.3l9.5-1.1l19-0.9l6-1.2l5.5-1.5l4.5-1.9l3-2l4.5-5l3.5-6.5l2.5-6.4l5.5-17.7l0.5-0.5l1 0.9l2.5 5.7l2 1.3l1.5 0.1l1.5-3.5l2.5-8.9l2-8.9l1-2.6l1-0.2l4 0.6l0.5-0.2l1-1.3l1.5-3.6l4-21.5l1-3.6l0.5-0.7l0.5 0.4l1 4.2l4 25.4l2 6.4l1 1.4l0.5-0.1l3.5-8.4l1-1.6l1-0.6l1 2.6l1 5l2.5 17.8l1.5 2.7l1 0.9l0.5 0l0.5-0.4l0.5-1l2-6.1l1-1.9l2-2.4l1-0.4l0.5 0.4l1.5 5.9l1.5 8.8l1.5 12.5l2 8.8l1 2.5l1 1.1l2 1.8l2 1.1l6.5 1.8l7 1.1l15 0.4l7.5-0.8l3.5-0.6l7.5-2.6l4-2l2.5-2.4l4.5-7.9l2-4.6l3-9.6l2.5-4.6l1-0.5l0.5 0.6l2 6l2 3.7l1 1l1-0.2l2.5-3.1l1-2.4l5-19.3l0.5-0.2l0.5 0.3l2 2.8l1.5 1.5l1 0.5l0.5-0.4l3-15.6l2-6.5l1-1.8l0.5-0.1l0.5 0.6l1 2.7l2 8.1l2 11.5l0.5 2l1 1.6l1.5 1.2l0.5 0.1l0.5-0.4l4-10.8l1-1.2l1 1.1l2 6.5l3 18.8l0.5 2l0.5 0.7l1.5-1.1l2-3.2l4-9.7l1-1.1l0.5 0.2l4.5 23.4l2.5 8.5l1.5 2.6l2.5 1.7l3.5 1.3l12 2.2l9.5 0.7l14.1 0.1" stroke="#7e8f11"/>
<path d="M34.5 785.3l19-0.4l9.5-1.2l19-1l6-1.3l5.5-1.7l4.5-2.1l3-2.2l4.5-5.5l3.5-7.2l2.5-7.1l5.5-19.6l0.5-0.5l1 1l2.5 6.3l2 1.5l1 0.2l0.5-0.2l1.5-3.9l2.5-9.8l2-9.8l1-2.9l1-0.2l4 0.6l0.5-0.1l1-1.5l1.5-3.9l4-23.8l1-4.1l0.5-0.8l0.5 0.5l1 4.7l4 28l2 7.1l1 1.6l0.5-0.2l3.5-9.2l1-1.8l1-0.6l1 2.8l1 5.6l2.5 19.7l1.5 3l1 0.9l0.5 0.1l0.5-0.5l0.5-1.1l2-6.7l1-2.2l2-2.6l1-0.5l0.5 0.5l1.5 6.6l1.5 9.6l1.5 13.9l2 9.7l1 2.7l1 1.3l2 2l2 1.2l6.5 2l7 1.2l15 0.4l7-0.8l4-0.8l7.5-2.8l4-2.3l2.5-2.6l4.5-8.8l2-5.1l3-10.8l2.5-5.1l1-0.5l0.5 0.7l2 6.6l2 4.1l1 1.1l1-0.2l2.5-3.4l1-2.7l5-21.5l0.5-0.2l0.5 0.3l2 3.2l1.5 1.6l1 0.6l0.5-0.4l3-17.5l2-7.2l1-2l0.5-0.2l0.5 0.7l1 3.1l2 8.9l2 12.8l0.5 2.3l1 1.8l1.5 1.3l0.5 0.1l0.5-0.4l4-12.1l1-1.2l1 1.2l2 7.2l3 20.9l0.5 2.3l0.5 0.8l1.5-1.3l2-3.5l4-10.9l1-1.2l0.5 0.2l4.5 26.1l2.5 9.5l1.5 2.8l2.5 1.9l3.5 1.5l4.5 1.2l7.5 1.3l9.5 0.8l14.1 0.1" stroke="#8f8b11"/>
<path d="M32.9 790.4l19-0.5l9.5-1.3l19-1.1l6-1.4l5.5-1.9l4.5-2.4l3-2.3l4.5-6.2l3.5-7.9l2.5-7.9l5.5-21.6l0.5-0.6l1 1.1l2.5 7l2 1.6l1 0.3l0.5-0.2l1.5-4.3l2.5-10.9l2-10.8l1-3.2l1-0.3l4 0.7l0.5-0.2l1-1.6l1.5-4.3l4-26.3l1-4.5l0.5-0.9l0.5 0.5l1 5.2l4 31l2 7.9l1 1.7l0.5-0.2l3.5-10.2l1-2l1-0.7l1 3.1l1 6.2l2.5 21.8l1.5 3.3l1 1l0.5 0.1l0.5-0.6l0.5-1.2l2-7.4l1-2.3l2-2.9l1-0.6l0.5 0.6l1.5 7.2l1.5 10.7l1.5 15.3l2 10.8l1 3l1 1.4l2 2.1l2 1.4l6.5 2.2l7 1.4l8 0.4l7 0l7-0.8l4-0.9l7.5-3.2l4-2.6l2.5-2.9l4.5-9.8l2-5.7l3-11.9l2.5-5.8l1-0.6l0.5 0.8l2 7.4l2 4.6l1 1.2l1-0.2l2.5-3.8l1-3l5-23.9l0.5-0.3l0.5 0.4l2 3.5l1.5 1.8l1 0.7l0.5-0.5l3-19.5l2-8l1-2.2l0.5-0.2l0.5 0.7l1 3.5l2 9.9l2 14.3l0.5 2.5l1 2l1.5 1.5l0.5 0.1l0.5-0.5l4-13.4l1-1.4l1 1.3l2 8.1l3 23.3l0.5 2.5l0.5 0.9l1.5-1.5l2-3.8l4-12.2l1-1.3l0.5 0.2l4.5 29.1l2.5 10.5l1.5 3.2l2.5 2.2l3.5 1.6l4.5 1.3l7.5 1.5l9.5 0.8l14.1 0.1" stroke="#8f7811"/>
<path d="M31.4 795.4l19-0.4l9.5-1.6l19-1.2l6-1.5l5.5-2.1l4.5-2.6l3-2.6l4.5-6.8l3.5-8.8l2.5-8.7l5.5-23.9l0.5-0.7l0.5 0.3l0.5 1l2.5 7.7l2 1.8l1 0.3l0.5-0.3l1.5-4.7l2.5-12.1l2-11.9l1-3.6l1-0.2l4 0.8l0.5-0.3l1-1.8l1.5-4.8l4-29l1-5l0.5-1l0.5 0.6l1 5.8l4 34.2l2 8.7l1 1.9l0.5-0.2l3.5-11.2l1-2.3l1-0.7l1 3.4l1 6.9l2.5 24l1.5 3.7l1 1.1l0.5 0.1l0.5-0.6l0.5-1.4l2-8.1l1-2.6l2-3.3l1-0.6l0.5 0.6l1.5 8l1.5 11.9l1.5 16.9l2 11.9l1 3.3l1 1.6l2 2.4l2 1.5l6.5 2.4l7 1.6l8 0.4l7 0l7-0.9l4-1.1l7.5-3.5l4-2.9l2.5-3.2l4.5-10.9l2-6.3l3-13.4l2.5-6.4l1-0.6l0.5 0.8l2 8.3l2 5.1l1 1.4l1-0.3l2.5-4.2l1-3.4l5-26.6l0.5-0.3l0.5 0.4l2 3.9l1.5 2l1 0.8l0.5-0.6l3-21.6l2-9l1-2.5l0.5-0.2l0.5 0.8l1 3.9l2 11.1l2 15.9l0.5 2.7l1 2.3l1.5 1.7l0.5 0.1l0.5-0.6l4-14.9l1-1.6l1 1.5l2 9l3 25.9l0.5 2.9l0.5 1l1.5-1.7l2-4.3l4-13.5l1-1.5l0.5 0.2l4.5 32.4l2.5 11.8l1.5 3.5l2.5 2.4l3.5 1.8l4.5 1.5l7.5 1.6l3.5 0.6l6 0.4l14.1 0.1" stroke="#8f6611"/>
<path d="M29.8 800.5l19-0.5l9.5-1.7l14-0.7l5-0.6l6-1.7l5.5-2.3l4.5-2.9l3-2.9l2-2.9l2.5-4.7l3.5-9.7l2.5-9.5l5.5-26.5l0.5-0.7l0.5 0.3l0.5 1.1l2.5 8.5l2 1.9l1 0.4l0.5-0.3l1.5-5.3l2.5-13.3l2-13.2l1-3.9l1-0.3l4 0.9l0.5-0.3l1-2l1.5-5.3l4-32.1l1-5.5l0.5-1.1l0.5 0.7l1 6.3l4 37.9l2 9.6l1 2.1l0.5-0.2l3.5-12.5l1-2.4l0.5-0.7l0.5-0.2l1 3.9l1 7.5l2.5 26.6l1.5 4.1l1 1.2l0.5 0.1l0.5-0.7l0.5-1.5l2-9l1-2.9l2-3.5l1-0.7l0.5 0.6l1.5 8.9l1.5 13.1l1.5 18.7l2 13.2l1 3.6l1 1.8l2 2.6l2 1.7l6.5 2.7l7 1.7l8 0.5l7-0.1l7-1l4-1.1l7.5-3.9l4-3.3l2.5-3.5l4.5-12.2l2-7.1l3-14.8l2.5-7.2l0.5-0.6l0.5-0.1l0.5 1l2 9.2l2 5.7l1 1.5l1-0.3l2.5-4.7l1-3.7l5-29.7l0.5-0.4l0.5 0.5l2 4.3l1.5 2.3l1 0.8l0.5-0.6l3-24.1l2-10l1-2.8l0.5-0.2l0.5 0.9l1 4.3l2 12.4l2 17.7l0.5 3.1l1 2.5l1.5 1.8l0.5 0.2l0.5-0.6l4-16.7l1-1.8l1 1.7l2 10l3 28.9l0.5 3.2l0.5 1.1l0.5-0.3l1-1.5l2-4.8l4-15.1l1-1.7l0.5 0.3l1 6.2l3.5 29.9l2.5 13.1l1.5 4l2.5 2.6l3.5 2l4.5 1.6l7.5 1.9l3.5 0.6l6 0.4l14.1 0.2" stroke="#8f5411"/>
<path d="M28.3 805.6l19-0.6l9.5-1.9l14-0.8l5-0.6l6-1.9l5.5-2.5l4.5-3.3l3-3.2l2-3.2l2.5-5.1l3.5-10.7l2.5-10.6l5.5-29.3l0.5-0.8l0.5 0.3l0.5 1.2l2.5 9.5l2 2.1l1 0.4l0.5-0.3l1.5-5.8l2.5-14.7l2-14.6l1-4.4l1-0.3l4 0.9l0.5-0.2l1-2.2l1.5-5.9l4-35.5l1-6.1l0.5-1.2l0.5 0.7l1 7l4 41.9l2 10.7l1 2.3l0.5-0.2l3.5-13.8l1-2.8l0.5-0.7l0.5-0.2l1 4.2l1 8.4l2.5 29.5l1.5 4.4l1 1.4l0.5 0.1l0.5-0.8l0.5-1.6l2-10l1-3.2l2-3.9l1-0.8l0.5 0.8l1.5 9.8l1.5 14.4l1.5 20.7l2 14.6l1 4l1 2l2 2.9l2 1.8l6.5 3l7 1.9l8 0.6l7-0.1l7-1.2l4-1.2l7.5-4.4l4-3.6l1.5-2l1-2l4.5-13.6l2-7.8l3-16.6l2.5-7.9l0.5-0.7l0.5-0.1l0.5 1.1l2 10.2l2 6.4l1 1.7l1-0.3l1-1.6l1.5-3.7l1-4.2l5-33l0.5-0.5l0.5 0.6l2 4.8l1.5 2.5l1 1l0.5-0.7l3-26.9l2-11.2l1-3l0.5-0.2l0.5 1l1 4.8l2 13.7l2 19.7l0.5 3.5l1 2.8l1.5 2.1l0.5 0.1l0.5-0.7l4-18.6l1-1.9l0.5 0.5l0.5 1.4l2 11.1l3 32.2l0.5 3.5l0.5 1.3l0.5-0.3l1-1.8l2-5.3l4-16.8l1-1.9l0.5 0.3l1 7l3.5 33.2l2.5 14.6l1.5 4.5l2.5 2.9l3.5 2.2l4.5 1.8l7.5 2.1l3.5 0.7l6 0.5l14.1 0.1" stroke="#8f4311"/>
<path d="M26.7 810.6l19-0.6l9.5-2l14-1l5-0.7l6-2.1l5.5-2.7l4.5-3.6l3-3.5l2-3.6l2.5-5.7l3.5-11.8l2.5-11.8l5.5-32.3l0.5-0.9l0.5 0.4l0.5 1.3l2.5 10.4l2 2.4l1 0.5l0.5-0.4l1.5-6.4l2.5-16.3l2-16.2l1-4.8l0.5-0.4l0.5 0.1l4 1l0.5-0.3l1-2.4l1.5-6.5l4-39.3l1-6.8l0.5-1.2l0.5 0.8l1 7.7l4 46.3l2 11.8l1 2.6l0.5-0.3l3.5-15.2l1-3l0.5-0.9l0.5-0.1l1 4.6l1 9.3l2.5 32.5l1.5 4.9l1 1.6l0.5 0.1l0.5-0.9l0.5-1.8l2-11l1-3.6l2-4.3l1-0.8l0.5 0.8l1.5 10.8l1.5 16l1.5 22.9l2 16.1l1 4.5l1 2.2l2 3.1l2 2.1l2.5 1.5l4 1.8l7 2.1l8 0.6l7-0.1l7-1.3l4-1.4l7.5-4.9l4-4l1.5-2.2l1-2.2l4.5-15.1l2-8.8l3-18.4l2.5-8.9l0.5-0.7l0.5-0.1l0.5 1.1l2 11.4l2 7.1l1 1.9l1-0.3l1-1.8l1.5-4.1l1-4.6l5-36.9l0.5-0.4l0.5 0.6l2 5.3l1.5 2.8l1 1.1l0.5-0.8l3-29.9l2-12.4l1-3.4l0.5-0.3l0.5 1.1l1 5.4l2 15.3l2 22l0.5 3.8l1 3.1l1.5 2.3l0.5 0.2l0.5-0.8l4-20.7l1-2.1l0.5 0.5l0.5 1.5l2 12.4l3 35.9l0.5 4l0.5 1.3l0.5-0.3l1-2l2-5.9l4-18.7l1-2.1l0.5 0.4l1 7.7l3.5 37l2.5 16.3l1.5 4.9l2.5 3.3l3.5 2.5l4.5 2l7.5 2.3l3.5 0.8l6 0.5l14.1 0.2" stroke="#8f3311"/>
<path d="M25.2 815.7l19-0.7l9.5-2.3l14-1l5-0.8l6-2.3l5.5-3l4.5-4l3-3.9l2-3.9l2.5-6.3l3.5-13.1l2.5-13l5.5-35.8l0.5-1l0.5 0.4l0.5 1.5l2.5 11.6l2 2.6l1 0.5l0.5-0.4l1.5-7.1l2.5-18l2-17.9l1-5.3l0.5-0.5l0.5 0.1l4 1.2l0.5-0.4l1-2.7l1.5-7.1l4-43.5l1-7.5l0.5-1.4l0.5 0.9l1 8.6l4 51.2l2 13l1 2.9l0.5-0.3l3.5-16.9l1-3.3l0.5-1l0.5-0.1l1 5.1l1 10.3l2.5 36l1.5 5.4l1 1.7l0.5 0.1l0.5-0.9l0.5-2l2-12.2l1-3.9l2-4.8l1-0.9l0.5 0.8l1.5 12l1.5 17.7l1.5 25.3l2 17.8l1 5l1 2.4l2 3.5l2 2.3l2.5 1.7l4 1.9l7 2.3l8.5 0.7l7-0.1l7.5-1.7l3-1.3l7.5-5.4l4-4.5l1.5-2.5l1-2.5l4.5-16.8l2-9.7l3-20.6l2.5-9.8l0.5-0.9l0.5-0.1l0.5 1.3l2 12.7l2 7.9l1 2.1l0.5 0.1l0.5-0.5l1-2l1.5-4.5l1-5.2l5-41l0.5-0.5l0.5 0.6l2 6l1.5 3.1l1 1.2l0.5-0.9l3-33.3l2-13.9l1-3.7l0.5-0.3l0.5 1.2l1 6l2 17.1l2 24.4l0.5 4.3l1 3.5l1.5 2.5l0.5 0.3l0.5-0.9l4-23.1l1-2.4l0.5 0.6l0.5 1.7l2 13.8l3 40l0.5 4.4l0.5 1.5l0.5-0.3l1-2.2l2-6.6l4-20.9l1-2.3l0.5 0.4l1 8.6l3.5 41.2l2.5 18.2l1.5 5.5l2.5 3.6l3.5 2.8l4.5 2.3l7.5 2.5l3.5 0.9l6 0.6l14.1 0.1" stroke="#8f2211"/>
<path d="M23.6 820.8l19-0.8l9.5-2.5l14-1.1l5-0.9l6-2.5l5.5-3.4l4.5-4.4l3-4.3l2-4.4l2.5-6.9l3.5-14.5l2.5-14.4l5.5-39.6l0.5-1l0.5 0.4l0.5 1.7l2.5 12.7l2 2.9l1 0.6l0.5-0.5l1.5-7.8l2.5-20l2-19.7l1-5.9l0.5-0.5l0.5 0.1l4 1.3l0.5-0.4l1-3l1.5-7.9l4-48.1l1-8.2l0.5-1.6l0.5 1l1 9.5l4 56.6l2 14.4l1 3.2l0.5-0.4l3.5-18.6l1-3.7l0.5-1.1l0.5-0.1l1 5.7l1 11.3l2.5 39.8l1.5 6l1 1.9l0.5 0.1l0.5-1l0.5-2.2l2-13.5l1-4.3l2-5.3l1-1l0.5 0.9l1.5 13.3l1.5 19.5l1.5 28l2 19.7l1 5.5l1 2.6l2 3.9l2 2.6l2.5 1.8l4 2.2l7 2.5l8.5 0.8l7-0.2l7-1.7l3.5-1.6l7.5-6.1l4-4.9l1.5-2.8l1-2.8l4.5-18.7l2-10.9l3-22.9l2.5-10.9l0.5-1l0.5-0.1l0.5 1.5l2 14.1l2 8.8l1 2.3l0.5 0.1l0.5-0.5l1-2.2l1.5-5.1l1-5.7l5-45.8l0.5-0.5l0.5 0.7l2 6.7l1.5 3.5l1 1.3l0.5-1l3-37.1l2-15.5l1-4.2l0.5-0.3l0.5 1.4l1 6.6l2 19.1l2 27.2l0.5 4.8l1 3.8l1.5 2.9l0.5 0.3l0.5-1.1l4-25.6l1-2.7l0.5 0.6l0.5 1.9l2 15.5l3 44.5l0.5 4.9l0.5 1.7l0.5-0.4l1-2.5l2-7.3l4-23.3l1-2.5l0.5 0.4l1 9.6l3.5 45.9l2.5 20.3l1.5 6.1l2.5 4l3.5 3.1l4.5 2.5l7.5 2.9l3.5 1l6 0.6l14.1 0.2" stroke="#8f1c11"/>
<path d="M22.1 825.8l19-0.8l9.5-2.8l14-1.2l5-1l6-2.8l5.5-3.8l4.5-4.8l3-4.8l2-4.8l2.5-7.7l3.5-16l2.5-15.9l5.5-43.7l0.5-1.2l0.5 0.5l0.5 1.8l2.5 14.1l2 3.2l1 0.6l0.5-0.5l1.5-8.7l2.5-22l2-21.8l1-6.5l0.5-0.6l0.5 0.1l4 1.4l0.5-0.4l1-3.3l1.5-8.7l4-53.2l1-9.1l0.5-1.8l0.5 1.1l1 10.5l4 62.6l2 15.9l1 3.6l0.5-0.4l3.5-20.6l1-4.1l0.5-1.2l0.5-0.2l1 6.3l1 12.5l2.5 44.1l1.5 6.6l1 2.1l0.5 0.1l0.5-1.1l0.5-2.5l2-14.9l1-4.8l2-5.8l1-1.1l0.5 1l1.5 14.7l1.5 21.6l1.5 31l2 21.8l1 6l1 2.9l2 4.4l2 2.7l2.5 2.1l4 2.4l7 2.8l8.5 0.9l7-0.3l7-1.9l3.5-1.8l7.5-6.7l4-5.5l1.5-3.1l1-3.1l4.5-20.9l2-12.1l3-25.5l2.5-12.2l0.5-1.1l0.5-0.1l0.5 1.6l2 15.7l2 9.9l1 2.6l0.5 0l0.5-0.5l1-2.5l1.5-5.6l1-6.4l5-51l0.5-0.6l0.5 0.9l2 7.4l1.5 3.8l1 1.5l0.5-1.1l3-41.3l2-17.3l1-4.6l0.5-0.4l0.5 1.5l1 7.4l2 21.2l2 30.4l0.5 5.3l1 4.3l1.5 3.2l0.5 0.3l0.5-1.2l4-28.6l1-2.9l0.5 0.7l0.5 2.1l2 17.2l3 49.6l0.5 5.4l0.5 1.9l0.5-0.4l1-2.7l2-8.2l4-25.9l1-2.9l0.5 0.5l1 10.7l3.5 51.2l2.5 22.5l1.5 6.8l2.5 4.5l3.5 3.4l4.5 2.9l7.5 3.2l3.5 1l6 0.7l14.1 0.3" stroke="#8f1711"/>
<path d="M20.5 830.9l19-1l9.5-3l14-1.4l5-1l6-3.1l5.5-4.2l4.5-5.4l3-5.2l2-5.4l2.5-8.4l3.5-17.8l2.5-17.5l5.5-48.4l0.5-1.3l0.5 0.5l0.5 2l2.5 15.6l2 3.6l1 0.6l0.5-0.5l1.5-9.6l2.5-24.4l2-24.1l1-7.2l0.5-0.6l0.5 0l4 1.6l0.5-0.4l1-3.7l1.5-9.6l4-58.8l1-10.1l0.5-1.9l0.5 1.2l1 11.6l4 69.2l2 17.6l1 3.9l0.5-0.4l3.5-22.8l1-4.5l0.5-1.3l0.5-0.2l1 6.9l1 13.9l2.5 48.7l1.5 7.3l1 2.3l0.5 0.2l0.5-1.3l0.5-2.7l2-16.5l1-5.3l2-6.5l1-1.2l0.5 1.2l1.5 16.2l1.5 23.9l1.5 34.2l2 24.1l1 6.7l1 3.2l2 4.8l2 3.1l2.5 2.3l4 2.7l3.5 1.7l3.5 1.3l8.5 1l4 0.1l3-0.4l7-2.1l3.5-2l7.5-7.5l2-2.7l2-3.5l1.5-3.4l1-3.5l4.5-23.2l2-13.5l3-28.4l2.5-13.6l0.5-1.2l0.5-0.2l0.5 1.8l2 17.6l2 10.9l1 2.9l0.5 0.1l0.5-0.6l1-2.8l1.5-6.3l1-7.1l5-56.8l0.5-0.7l0.5 1l2 8.3l1.5 4.3l1 1.6l0.5-1.2l3-46.1l2-19.2l1-5.2l0.5-0.4l0.5 1.7l1 8.3l2 23.6l2 33.8l0.5 5.9l1 4.8l1.5 3.6l0.5 0.3l0.5-1.3l4-31.9l1-3.3l0.5 0.8l0.5 2.4l2 19.1l3 55.3l0.5 6.1l0.5 2.1l0.5-0.5l1-3l2-9.2l4-28.8l1-3.2l0.5 0.5l1 12l3.5 57l2.5 25l1.5 7.7l2.5 5l3.5 3.8l4.5 3.1l7.5 3.6l3.5 1.2l6 0.8l14.1 0.2" stroke="#8f1111"/>
</g>
<g fill="none" stroke-width="1.6" stroke-linejoin="round">
<path d="M471.8 582.6l203.5-0.3l122.7 0.3" stroke="#8f1126"/>
<path d="M470.2 587.7l203.5-0.3l122.7 0.3" stroke="#8f1143"/>
<path d="M468.7 592.7l152 0l51.5-0.3l122.7 0.3" stroke="#8f1161"/>
<path d="M467.1 597.8l152 0l51.5-0.4l122.7 0.4" stroke="#8f1176"/>
<path d="M465.6 602.9l151.5-0.1l52-0.4l53 0.4l69.7 0.1" stroke="#8f118b"/>
<path d="M464 607.9l151.5 0l52-0.5l53 0.5l69.7 0" stroke="#89118f"/>
<path d="M462.5 613l151.5-0.1l52-0.5l53 0.6l69.7 0" stroke="#7e118f"/>
<path d="M460.9 618.1l119-0.3l32.5 0.2l52-0.7l53 0.7l69.7 0.1" stroke="#74118f"/>
<path d="M459.4 623.1l119-0.3l32.5 0.2l52-0.7l53 0.8l69.7 0" stroke="#68118f"/>
<path d="M457.8 628.2l119-0.4l32.5 0.3l52-0.9l53 1l69.7 0" stroke="#5c118f"/>
<path d="M456.3 633.3l83.5-0.1l35.5-0.3l32.5 0.2l52-0.9l53 1l69.7 0.1" stroke="#50118f"/>
<path d="M454.7 638.3l83.5 0l35.5-0.4l32 0.3l52.5-1.1l15 0.1l18.5 0.7l19.5 0.4l69.7 0" stroke="#43118f"/>
<path d="M453.2 643.4l83 0l36-0.5l32 0.3l52.5-1.3l15 0.1l18.5 0.9l19.5 0.4l69.7 0.1" stroke="#37118f"/>
<path d="M451.6 648.5l83-0.1l36-0.5l32 0.4l52.5-1.5l15 0.1l18.5 1l19.5 0.5l69.7 0.1" stroke="#2a118f"/>
<path d="M450.1 653.5l83 0l36-0.6l32 0.4l38.5-1.5l14-0.2l15 0.1l18.5 1.2l19.5 0.5l69.7 0.1" stroke="#1e118f"/>
<path d="M448.5 658.6l82.5 0l36.5-0.7l32 0.5l30-1.2l8.5-0.6l14-0.2l15 0.1l18.5 1.4l19.5 0.6l69.7 0.1" stroke="#13118f"/>
<path d="M447 663.7l82.5-0.1l36.5-0.7l32 0.5l30-1.3l8.5-0.7l14-0.3l15 0.2l18.5 1.5l19.5 0.7l69.7 0.2" stroke="#111c8f"/>
<path d="M445.4 668.7l82 0l12.5-0.2l6.5-0.4l18-0.2l32 0.5l30-1.5l8.5-0.8l14-0.3l15 0.2l18.5 1.8l19.5 0.8l69.7 0.1" stroke="#11258f"/>
<path d="M443.9 673.8l82-0.1l12.5-0.2l6.5-0.4l18-0.2l9.5 0.1l8 0.4l14.5 0l30-1.7l8.5-0.9l14-0.4l15 0.3l18.5 2l19.5 0.9l69.7 0.2" stroke="#112e8f"/>
<path d="M442.3 678.9l82-0.1l12.5-0.2l6.5-0.6l18-0.1l9.5 0l8 0.6l14.5 0l7.5-0.3l22.5-1.7l8.5-1.1l14-0.4l15 0.2l7.5 1.2l11 1.2l19.5 1.1l69.7 0.2" stroke="#11378f"/>
<path d="M440.8 683.9l81.5 0l13-0.3l6.5-0.6l18-0.2l4.5 0.3l5-0.2l8 0.6l14.5 0l7.5-0.3l22.5-2l8.5-1.2l14-0.6l15 0.4l3.5 0.4l4 0.9l5 0.4l6 1l19.5 1.2l69.7 0.2" stroke="#11438f"/>
<path d="M439.2 689l81.5-0.1l13-0.3l6.5-0.6l4.5 0.2l5-0.4l4.5 0.2l4-0.2l4.5 0.3l5-0.3l8 0.7l14.5 0l7.5-0.4l22.5-2.2l8.5-1.5l14-0.6l15 0.4l3.5 0.5l4 1.1l5 0.4l6 1.1l19.5 1.4l69.7 0.3" stroke="#114f8f"/>
<path d="M437.7 694.1l81-0.1l13.5-0.3l6.5-0.8l4.5 0.2l5-0.4l4.5 0.3l4-0.3l4.5 0.3l5-0.2l8 0.7l14.5-0.1l7.5-0.3l22.5-2.7l8.5-1.6l14-0.7l8.5 0.5l6.5-0.1l3.5 0.6l4 1.3l5 0.4l6 1.3l19.5 1.7l69.7 0.3" stroke="#115a8f"/>
<path d="M436.1 699.1l81-0.1l13.5-0.3l6.5-0.8l4.5 0.2l5-0.5l4.5 0.3l4-0.3l4.5 0.4l5-0.3l8 0.7l14.5 0l7.5-0.4l22.5-3l8.5-1.9l14-0.8l8.5 0.6l6.5-0.1l3.5 0.6l4 1.5l5 0.5l6 1.5l19.5 1.9l69.7 0.3" stroke="#116a8f"/>
<path d="M434.6 704.2l80.5-0.1l13.5-0.4l7-0.9l4.5 0.2l5-0.5l4.5 0.4l4-0.4l4.5 0.4l5-0.3l8 0.8l14.5 0l7.5-0.5l22.5-3.5l8.5-2.2l14-0.9l8.5 0.7l6.5-0.1l3.5 0.7l4 1.7l5 0.6l6 1.7l19.5 2.2l22.5 0.4l47.2 0" stroke="#11798f"/>
<path d="M433 709.3l80.5-0.2l13.5-0.4l7-1l4.5 0.3l5-0.6l4.5 0.4l4-0.4l4.5 0.4l5-0.3l8 0.9l14 0l8-0.6l22.5-4.1l8.5-2.5l14-1l8.5 0.8l6.5-0.1l3.5 0.8l4 1.9l5 0.8l6 1.9l19.5 2.5l22.5 0.4l47.2 0.1" stroke="#11898f"/>
<path d="M431.5 714.3l80.5-0.1l13.5-0.5l7-1.1l4.5 0.3l5-0.6l4.5 0.4l4-0.5l4.5 0.5l5-0.4l8 1l14 0l8-0.7l22.5-4.6l8.5-2.9l9.5-0.5l4.5-0.7l8.5 0.9l6.5-0.1l3.5 0.9l4 2.3l5 0.8l6 2.2l19.5 2.9l22.5 0.5l47.2 0" stroke="#118f84"/>
<path d="M429.9 719.4l80-0.2l14-0.5l7-1.2l4.5 0.3l5-0.7l4.5 0.4l4-0.5l4.5 0.5l5-0.4l4 0.8l4 0.3l14 0l8-0.8l22.5-5.3l8.5-3.3l9.5-0.6l4.5-0.8l4.5 0.3l4 0.7l6.5-0.1l3.5 1.1l4 2.6l5 0.9l6 2.6l19.5 3.3l22.5 0.5l47.2 0.1" stroke="#118f72"/>
<path d="M428.4 724.5l80-0.2l14-0.6l7-1.4l4.5 0.3l5-0.7l4.5 0.5l4-0.6l4.5 0.6l5-0.5l4 0.9l4 0.3l14 0l8-0.9l22.5-6.1l8.5-3.9l9.5-0.7l4.5-0.8l4.5 0.3l4 0.8l6.5-0.1l3.5 1.3l4 2.9l5 1.1l6 3l19.5 3.7l22.5 0.7l47.2 0.1" stroke="#118f61"/>
<path d="M426.8 729.5l79.5-0.2l14.5-0.7l7-1.5l4.5 0.4l5-0.8l4.5 0.5l4-0.6l4.5 0.6l5-0.5l4 0.9l4 0.4l14-0.1l8-1l22.5-7l2.5-1.1l6-3.3l9.5-0.8l4.5-1l4.5 0.4l4 0.9l5-0.4l1.5 0.2l3.5 1.5l4 3.4l5 1.2l6 3.4l7.5 1.6l6.5 1.8l5.5 1l22.5 0.7l47.2 0.1" stroke="#118f4f"/>
<path d="M425.3 734.6l79.5-0.2l14.5-0.8l7-1.7l4.5 0.4l5-0.9l4.5 0.6l4-0.7l4.5 0.7l5-0.6l4 1.1l4 0.4l14-0.1l8-1.3l17.5-6.5l5-1.5l2.5-1.2l6-3.9l9.5-0.9l4.5-1.1l4.5 0.4l4 1.1l5-0.5l1.5 0.3l3.5 1.7l4 3.9l5 1.4l6 3.9l7.5 1.8l6.5 2.1l5.5 1.1l8 0.5l14.5 0.4l47.2 0.1" stroke="#118f3c"/>
<path d="M423.7 739.7l79.5-0.3l14.5-0.9l3-0.5l4-1.3l4.5 0.4l5-1l4.5 0.6l4-0.7l4.5 0.7l5-0.6l4 1.2l4 0.4l14-0.1l8-1.4l17.5-7.5l5-1.8l2.5-1.4l6-4.4l3.5-0.7l6-0.4l4.5-1.3l4.5 0.5l4 1.2l5-0.5l1.5 0.3l3.5 1.9l4 4.5l5 1.7l6 4.5l7.5 2l6.5 2.4l5.5 1.3l8 0.6l14.5 0.4l47.2 0.2" stroke="#118f2a"/>
<path d="M422.2 744.7l79-0.3l15-0.9l3-0.6l4-1.5l4.5 0.5l5-1.1l4.5 0.6l4-0.8l4.5 0.8l5-0.6l4 1.2l4 0.5l8 0.1l6-0.3l4.5-0.7l3.5-0.9l11-5.2l6.5-3.4l5-2.1l2.5-1.6l6-5.1l3.5-0.7l6-0.5l4.5-1.5l4.5 0.6l4 1.4l5-0.6l1.5 0.3l3.5 2.3l4 5.1l5 2l6 5.1l7.5 2.3l6.5 2.8l5.5 1.5l8 0.7l14.5 0.5l47.2 0.1" stroke="#118f20"/>
<path d="M420.6 749.8l63.5 0l15.5-0.3l15-1.2l3-0.6l4-1.6l4.5 0.5l5-1.2l4.5 0.7l4-0.9l4.5 0.9l5-0.7l4 1.3l4 0.6l8 0.1l6-0.4l4.5-0.8l3.5-1l4-2.5l7-3.5l6.5-4l5-2.3l2.5-1.9l6-5.8l3.5-0.9l6-0.6l3-1.3l1.5-0.3l4.5 0.6l4 1.6l5-0.6l1.5 0.3l3.5 2.6l4 5.9l5 2.3l6 5.9l7.5 2.6l6.5 3.3l5.5 1.7l8 0.8l14.5 0.5l47.2 0.2" stroke="#118f17"/>
<path d="M419.1 754.9l63.5-0.1l15.5-0.3l15-1.3l3-0.7l4-1.7l4.5 0.5l5-1.4l4.5 0.8l4-1l4.5 1l5-0.8l4 1.5l4 0.6l8 0.1l6-0.4l4.5-0.9l3.5-1.3l4-2.8l7-4l6.5-4.6l5-2.7l2.5-2.1l6-6.8l3.5-0.9l6-0.7l3-1.6l1.5-0.3l4.5 0.7l4 1.9l5-0.8l1.5 0.4l3.5 3l4 6.8l5 2.6l6 6.8l2 1.1l5.5 1.9l6.5 3.7l5.5 2l8 1l14.5 0.5l47.2 0.3" stroke="#158f11"/>
<path d="M417.5 759.9l63.5 0l15-0.4l15.5-1.4l3-0.8l4-1.9l4.5 0.5l5-1.5l4.5 0.9l4-1.1l4.5 1l5-0.8l4 1.6l4 0.6l8.5 0.1l5.5-0.4l4.5-1.1l3.5-1.4l4-3.2l7-4.7l6.5-5.2l5-3.2l2.5-2.4l6-7.7l3.5-1.2l6-0.7l3-1.8l1.5-0.5l4.5 0.9l4 2.1l5-0.8l1.5 0.4l3.5 3.4l4 7.9l5 2.9l6 7.9l2 1.2l5.5 2.3l6.5 4.2l5.5 2.3l8 1.1l14.5 0.7l47.2 0.2" stroke="#2a8f11"/>
<path d="M416 765l63.5-0.1l15-0.4l15.5-1.6l3-0.9l4-2.1l4.5 0.6l5-1.7l4.5 1l4-1.2l4.5 1.1l5-0.9l4.5 1.9l4 0.5l8 0.1l5.5-0.5l4.5-1.2l3.5-1.7l4-3.7l7-5.3l6.5-6.1l5-3.6l2.5-2.8l6-8.9l3.5-1.3l6-0.9l3-2l1.5-0.5l4.5 0.9l4 2.5l5-1l1.5 0.6l3.5 3.9l4 9l5 3.4l6 9l2 1.4l5.5 2.7l6.5 4.9l5.5 2.6l8 1.2l14.5 0.8l47.2 0.3" stroke="#3f8f11"/>
<path d="M414.4 770.1l63.5-0.1l15-0.5l9-0.8l6.5-1l3-1l4-2.3l4.5 0.6l5-1.8l3 0.9l1.5 0.1l4-1.3l4.5 1.2l5-1l4.5 2l4 0.7l8.5 0l5-0.6l4.5-1.3l3.5-2l4-4.2l7-6.1l6.5-7l5-4.2l2.5-3.2l6-10.2l3.5-1.6l6-1l3-2.3l1.5-0.6l4.5 1.1l4 2.9l5-1.2l1.5 0.6l3.5 4.5l4 10.5l5 3.8l6 10.4l2 1.6l5.5 3l6.5 5.7l5.5 3l8 1.4l14.5 0.9l47.2 0.3" stroke="#548f11"/>
<path d="M412.9 775.1l63.5-0.1l14.5-0.5l9.5-0.9l6.5-1.1l3-1.1l4-2.6l4.5 0.6l5-2l3 1l1.5 0.1l4-1.4l4.5 1.4l5-1.2l4.5 2.3l4 0.6l8.5 0.1l5-0.7l4.5-1.6l3.5-2.2l4-4.9l7-7.1l6.5-8l5-4.8l2.5-3.6l6-11.9l3.5-1.7l6-1.2l3-2.7l1.5-0.6l4.5 1.2l4 3.3l1.5-0.1l3.5-1.2l1.5 0.7l3.5 5.2l4 12l5 4.4l6 12l2 1.8l5.5 3.5l6.5 6.5l5.5 3.5l3 0.8l5 0.8l14.5 1l47.2 0.4" stroke="#698f11"/>
<path d="M411.3 780.2l63.5-0.1l14.5-0.6l9-1l7-1.3l3-1.2l4-2.8l4.5 0.6l5-2.2l3 1.1l1.5 0.1l4-1.6l4.5 1.5l1.5-0.2l2.5-1.1l1 0l4.5 2.5l4 0.7l8.5 0l5-0.8l4.5-1.8l3.5-2.5l4-5.7l7-8.1l6.5-9.2l5-5.5l2.5-4.3l6-13.5l3.5-2l6-1.4l3-3.1l1.5-0.7l2 0.4l2.5 1l4 3.8l1.5-0.2l3.5-1.3l1.5 0.8l3.5 5.9l4 13.8l1 1.4l4 3.7l6 13.8l2 2.1l5.5 4l6.5 7.5l5.5 4l3 0.9l5 0.9l14.5 1.2l47.2 0.5" stroke="#7e8f11"/>
<path d="M409.8 785.3l62-0.1l13.5-0.5l9.5-1l8.5-1.7l3.5-1.5l4-3l4.5 0.6l1.5-0.5l3-1.9l1 0l3.5 1.3l1.5-0.3l3-1.5l4.5 1.6l1.5-0.2l2.5-1.1l1-0.1l4.5 2.7l4 0.8l8.5-0.1l5-0.9l4.5-2.1l3.5-2.9l4-6.5l7-9.3l6.5-10.6l5-6.4l2.5-4.8l6-15.6l1.5-1.3l2-1l6-1.6l3-3.6l1.5-0.8l2 0.4l2.5 1.2l4 4.4l1.5-0.2l3.5-1.5l1.5 0.9l3.5 6.8l4 15.9l1 1.5l3 2.9l1 1.4l6 15.9l2 2.4l5.5 4.6l6.5 8.6l5.5 4.6l3 1.1l5 1.1l14.5 1.3l47.2 0.5" stroke="#8f8b11"/>
<path d="M408.2 790.3l61-0.1l14-0.4l9.5-1.2l9-2l3.5-1.6l4-3.3l1-0.1l2 0.7l1.5 0.1l1.5-0.6l3-2.1l1 0l3.5 1.3l1.5-0.3l3-1.6l4.5 1.8l1.5-0.3l2.5-1.2l1 0l4.5 2.8l4 0.8l8.5 0l2.5-0.3l2.5-0.8l4.5-2.4l3.5-3.4l4-7.4l7-10.8l6.5-12.2l5-7.3l2.5-5.6l6-17.9l1.5-1.5l2-1.2l6-1.8l3-4.1l1.5-1l2 0.6l2.5 1.3l3 4.1l1 0.9l1.5-0.2l3.5-1.7l1.5 1l1.5 2.8l2 5.1l4 18.2l1 1.8l3 3.4l1 1.6l6 18.2l2 2.8l5.5 5.3l6.5 9.9l5.5 5.3l3 1.2l5 1.2l14.5 1.6l47.2 0.6" stroke="#8f7811"/>
<path d="M406.7 795.4l59.5-0.1l15-0.5l9.5-1.3l9-2.1l3.5-1.6l4-3.7l1-0.4l3 0.8l1 0l1.5-0.7l3-2.2l1 0l3.5 1.4l1.5-0.4l3-1.7l1 0.2l2 1.2l1.5 0.5l1.5-0.3l2.5-1.3l1-0.1l4.5 3.1l4 0.9l8.5-0.2l2.5-0.3l2.5-0.9l4.5-2.8l2-1.8l1.5-2l4-8.6l7-12.4l6.5-14l5-8.4l2.5-6.4l6-20.7l1.5-1.7l2-1.4l6-2l3-4.8l1-1l0.5-0.1l2 0.6l2.5 1.6l3 4.7l1 1.1l1.5-0.3l2.5-1.7l1-0.3l0.5 0.1l1 1.1l1.5 3.3l2 5.8l4 20.9l1 2.1l3 3.8l1 1.9l6 21l2 3.2l5.5 6.1l6.5 11.4l3 3.6l2.5 2.4l3 1.5l5 1.4l14.5 1.8l13.5 0.4l33.7 0.2" stroke="#8f6611"/>
<path d="M405.1 800.5l58-0.2l16-0.5l9.5-1.4l9.5-2.5l3.5-1.7l4-3.9l1-0.5l2.5 0.7l1.5 0.1l1.5-0.8l3-2.4l1 0l2 1.1l1.5 0.3l1.5-0.3l3-1.9l1 0.2l2 1.3l1.5 0.5l1.5-0.3l2.5-1.4l1-0.1l4.5 3.2l4 1l8.5-0.2l2.5-0.4l2.5-1.1l4.5-3.2l2-2.1l1.5-2.3l4-9.9l7-14.2l6.5-16.2l5-9.6l2.5-7.4l6-23.8l1.5-1.9l2-1.6l6-2.3l3-5.6l1-1.1l0.5-0.1l2 0.7l2.5 1.8l3 5.5l1 1.1l1.5-0.3l2.5-1.9l1-0.4l0.5 0.1l1 1.3l1.5 3.7l2 6.7l4 24.2l1 2.3l3 4.4l1 2.2l6 24.1l2 3.7l5.5 7l6.5 13.1l3 4.2l2.5 2.8l3 1.7l5 1.6l14.5 2l13.5 0.5l33.7 0.3" stroke="#8f5411"/>
<path d="M403.6 805.5l71.5-0.4l10.5-1.6l10.5-2.9l4-2.1l4.5-4.5l1-0.2l2 0.7l1.5 0l1.5-0.8l2.5-2.3l1-0.4l4 1.6l1.5-0.4l2.5-1.8l1-0.1l3 1.7l1.5 0.3l3.5-1.9l1 0l4.5 3.4l2 0.6l3 0.4l8.5-0.5l2-0.5l2-1.1l4.5-3.6l2-2.5l1.5-2.6l4-11.4l7-16.4l6.5-18.6l5-11.1l2.5-8.5l6-27.3l1.5-2.2l2-1.9l6-2.7l3-6.3l1-1.3l0.5-0.1l2 0.8l2.5 2.1l3 6.2l1 1.4l1.5-0.4l2.5-2.2l1-0.4l0.5 0.1l1 1.5l1.5 4.3l2 7.7l4 27.7l1 2.7l3 5.1l1 2.5l6 27.7l2 4.3l5.5 8.1l6.5 15l3 4.8l2.5 3.2l3 2l5 1.8l5.5 1.1l9 1.3l13.5 0.5l33.7 0.3" stroke="#8f4311"/>
<path d="M402 810.6l50-0.1l21.5-0.4l10.5-1.8l10.5-3.2l4-2.3l4.5-4.8l1-0.2l2 0.7l1.5 0l1.5-0.9l2.5-2.5l1-0.5l4 1.6l1.5-0.4l2.5-1.8l1-0.2l3 1.8l1.5 0.2l3.5-1.9l1 0l4.5 3.4l2 0.7l3 0.3l4.5-0.1l4-0.5l2-0.6l2-1.2l3-2.6l2-2.2l3-5.3l4-13.1l7-18.8l6.5-21.4l5-12.8l2.5-9.8l6-31.4l1.5-2.6l2-2.1l1.5-1l4.5-2.1l3-7.3l1-1.5l0.5-0.1l2 0.9l2.5 2.4l3 7.2l1 1.6l0.5 0.1l1-0.5l2.5-2.6l1-0.5l0.5 0.2l1 1.6l1.5 5l2 8.9l4 31.9l1 3.1l3 5.8l1 2.9l6 31.9l2 4.9l5.5 9.3l6.5 17.3l3 5.5l2.5 3.7l3 2.2l5 2.1l5.5 1.4l9 1.4l13.5 0.7l33.7 0.3" stroke="#8f3311"/>
<path d="M400.5 815.7l50-0.1l21.5-0.5l10.5-2l10.5-3.6l4-2.4l4.5-5l1-0.3l2 0.7l1.5-0.1l1.5-1l2.5-2.7l1-0.4l4 1.5l1.5-0.4l2.5-1.9l1-0.2l3 1.8l1.5 0.3l3.5-2l1-0.1l4.5 3.4l2.5 0.8l3 0.2l4-0.2l4-0.7l2-0.6l2-1.4l3-3l2-2.6l3-6l4-15.1l7-21.6l6.5-24.7l5-14.7l2.5-11.2l6-36.2l1.5-2.9l2-2.4l1.5-1.2l3.5-1.6l1-0.8l3-8.4l1-1.8l0.5-0.1l2 1.1l2.5 2.7l3 8.3l1 1.8l0.5 0.1l1-0.6l2.5-2.9l1-0.6l0.5 0.2l1 1.9l1.5 5.7l2 10.2l4 36.7l1 3.6l3 6.7l1 3.3l6 36.7l2 5.7l5.5 10.6l6.5 19.9l3 6.4l2.5 4.2l1 1.2l2 1.4l5 2.4l5.5 1.6l9 1.6l13.5 0.8l33.7 0.3" stroke="#8f2211"/>
<path d="M398.9 820.7l50-0.1l21.5-0.4l10-2.2l11-4.2l4-2.5l4.5-5.1l1-0.2l2 0.5l1.5-0.2l1.5-1l2.5-2.8l1-0.5l4 1.4l1.5-0.5l2.5-1.8l1-0.2l3 1.7l1.5 0.2l4-2.1l1 0.3l2.5 2.1l2 1.1l2 0.5l3 0.1l4.5-0.3l3.5-0.8l2-0.7l2-1.6l3-3.5l2-3l3-6.9l4-17.3l7-25l6.5-28.3l5-16.9l2.5-12.9l6-41.7l1.5-3.4l2-2.7l1.5-1.4l3.5-1.8l1-0.9l3-9.7l1-2l0.5-0.1l2 1.2l2.5 3.1l3 9.6l1 2l0.5 0.2l1-0.7l2.5-3.4l1-0.6l0.5 0.2l1 2.2l1.5 6.5l2 11.7l4 42.3l1 4.1l3 7.7l1 3.8l6 42.2l2 6.6l5.5 12.2l6.5 22.9l3 7.3l2.5 4.9l1 1.3l2 1.7l5 2.7l5.5 1.8l9 1.9l5 0.5l8.5 0.3l33.7 0.5" stroke="#8f1c11"/>
<path d="M397.4 825.8l50-0.1l21.5-0.5l10-2.5l11-4.6l4-2.5l4.5-4.9l1-0.3l2 0.2l1.5-0.3l1.5-1.1l2.5-2.7l1-0.5l4 1.1l1.5-0.5l2.5-1.7l1-0.2l3 1.5l1.5 0.1l4-2l1 0.3l2.5 1.8l2 0.9l2.5 0.4l3-0.1l4.5-0.5l3.5-0.9l1.5-0.7l2-1.9l3-4l2-3.4l3-8l4-20l7-28.6l6.5-32.7l5-19.4l2.5-14.9l6-47.9l1.5-3.9l2-3.1l1.5-1.6l3.5-2.1l1-1.1l3-11.1l1-2.3l0.5-0.1l2 1.4l2.5 3.6l3 10.9l1 2.4l0.5 0.2l1-0.8l2.5-3.9l1-0.7l0.5 0.2l1 2.5l1.5 7.6l2 13.4l4 48.6l1 4.7l3 9l1 4.3l6 48.6l2 7.5l5.5 14.1l6.5 26.3l3 8.4l2.5 5.6l1 1.5l2 1.9l5 3.2l5.5 2l9 2.2l5 0.7l8.5 0.3l33.7 0.5" stroke="#8f1711"/>
<path d="M395.8 830.9l50.5-0.1l21-0.6l9.5-2.6l11.5-5.2l4-2.4l4.5-4.4l4.5-1l4-3.6l1-0.6l4.5 0.5l3.5-1.8l1-0.2l3 1.1l1.5 0l4-1.7l1 0.1l2.5 1.3l2 0.6l2.5 0.2l4-0.4l4-0.7l3.5-1.2l1.5-1.1l1.5-1.7l3-4.6l2-4l2-5.4l1-3.8l4-22.9l7-33l6.5-37.5l5-22.4l2.5-17.1l6-55.1l1.5-4.5l2-3.6l1.5-1.8l3.5-2.5l1-1.2l3-12.8l1-2.6l0.5-0.2l1 0.5l1 1.1l2.5 4.2l3 12.6l1 2.7l0.5 0.2l1-0.9l2.5-4.5l1-0.8l0.5 0.3l1 2.9l1.5 8.6l2 15.5l4 55.9l1 5.4l3 10.3l1 5l6 55.8l2 8.7l5.5 16.2l6.5 30.2l3 9.8l2.5 6.4l1 1.8l2 2.1l5 3.7l5.5 2.3l9 2.5l5 0.8l8.5 0.4l33.7 0.6" stroke="#8f1111"/>
</g>
<g fill="none" stroke-width="1.6" stroke-linejoin="round">
<path d="M96.5 975.1l66-0.4l5-0.3l8.5-1.1l9 0.1l19.5-1.5l8 0.8l7-0.2l7 0.6l6.5 0l8.5 1.5l4 0.4l47.5-0.2l13.5-0.5l11-2l9 0.4l6.5-1.1l11.5-1.1l8 1.3l7.5-0.6l7.5 1l7.5-0.1l8.5 2.4l4 0.5l36.1 0.1" stroke="#8f1126"/>
<path d="M94.9 980.1l66-0.3l5-0.4l8.5-1.2l9 0.1l19.5-1.6l8 0.9l7-0.2l7 0.6l6.5 0l8.5 1.6l4 0.4l47.5-0.2l13.5-0.5l11-2.1l9 0.4l6.5-1.2l11.5-1.1l8 1.3l7.5-0.6l7.5 1.1l7.5-0.2l2.5 0.6l6 2l4 0.6l36.1 0.1" stroke="#8f1143"/>
<path d="M93.4 985.2l66-0.4l5-0.4l8.5-1.3l9 0.2l19.5-1.9l8 1l7-0.2l7 0.7l6.5 0l8.5 1.8l4 0.4l47.5-0.2l13.5-0.6l11-2.3l9 0.5l6.5-1.2l11.5-1.3l8 1.5l7.5-0.7l7.5 1.2l7.5-0.2l2.5 0.6l6 2.1l4 0.6l36.1 0.1" stroke="#8f1161"/>
<path d="M91.8 990.2l66-0.4l5-0.4l8.5-1.4l9 0.2l19.5-2l8 1l7-0.2l7 0.7l6.5 0l8.5 2l4 0.4l47.5-0.2l13.5-0.6l11-2.4l9 0.5l6.5-1.3l11.5-1.3l2.5 0.2l5.5 1.3l7.5-0.7l7.5 1.3l7.5-0.3l2.5 0.6l6 2.3l4 0.7l36.1 0.1" stroke="#8f1176"/>
<path d="M90.3 995.3l66-0.5l5-0.4l8.5-1.5l9 0.1l19.5-2.1l8 1.1l7-0.2l7 0.8l6.5 0l8.5 2.1l4 0.5l47.5-0.2l13.5-0.7l11-2.6l9 0.5l6.5-1.3l11.5-1.4l2.5 0.3l5.5 1.3l7.5-0.8l7.5 1.4l7.5-0.2l2.5 0.6l6 2.5l4 0.6l36.1 0.1" stroke="#8f118b"/>
<path d="M88.7 1000.4l45.5-0.2l20.5-0.3l5-0.5l8.5-1.7l9 0.2l19.5-2.3l8 1.2l7-0.3l7 0.9l6.5 0l8.5 2.3l4 0.5l47.5-0.2l13.5-0.7l11-2.7l9 0.5l6.5-1.4l11.5-1.5l2.5 0.3l5.5 1.4l7.5-0.8l7.5 1.4l7.5-0.2l2.5 0.7l6 2.6l4 0.7l36.1 0.1" stroke="#89118f"/>
<path d="M87.2 1005.4l45.5-0.1l20.5-0.4l5-0.5l8.5-1.8l9 0.2l19.5-2.6l8 1.4l7-0.3l7 0.9l6.5 0l3 0.7l5.5 1.8l4 0.6l47.5-0.3l13.5-0.7l3-0.7l5.5-1.8l2.5-0.4l9 0.5l6.5-1.5l11.5-1.6l2.5 0.3l5.5 1.5l7.5-0.8l7.5 1.5l7.5-0.2l2.5 0.7l6 2.8l4 0.7l36.1 0.2" stroke="#7e118f"/>
<path d="M85.6 1010.5l45.5-0.2l20.5-0.4l5-0.5l8.5-2l9 0.2l19.5-2.7l8 1.4l7-0.3l7 1l6.5 0l3 0.7l5.5 2l4 0.6l47.5-0.2l13.5-0.9l3-0.6l5.5-2l2.5-0.4l9 0.6l6.5-1.7l11.5-1.7l2.5 0.4l5.5 1.6l7.5-0.9l7.5 1.6l7.5-0.3l2.5 0.8l6 3l4 0.8l36.1 0.1" stroke="#74118f"/>
<path d="M84.1 1015.5l45.5-0.1l20.5-0.5l5-0.6l8.5-2.1l9 0.2l5.5-1.1l6.5-0.5l7.5-1.3l2.5 0.2l5.5 1.3l7-0.3l7 1.1l6.5 0l3 0.7l5.5 2.2l4 0.7l47.5-0.3l13.5-0.9l3-0.7l5.5-2.1l2.5-0.5l7 0.8l2-0.1l6.5-1.8l11.5-1.8l2.5 0.3l5.5 1.8l7.5-1l2 0.2l5.5 1.6l7.5-0.3l2.5 0.8l6 3.2l4 0.9l36.1 0.1" stroke="#68118f"/>
<path d="M82.5 1020.6l45.5-0.2l20.5-0.5l5-0.6l8.5-2.4l9 0.3l5.5-1.2l6.5-0.5l7.5-1.5l2.5 0.3l5.5 1.4l7-0.4l7 1.2l6.5 0l3 0.8l5.5 2.4l4 0.7l47.5-0.3l13.5-0.9l3-0.8l5.5-2.2l2.5-0.5l2.5 0l4.5 0.7l2 0l6.5-1.9l11.5-2l2.5 0.4l5.5 1.9l2-0.1l5.5-1l2 0.3l5.5 1.6l5.5-0.5l2 0.2l2.5 0.9l6 3.4l4 0.9l36.1 0.2" stroke="#5c118f"/>
<path d="M81 1025.6l45.5-0.1l20.5-0.6l5-0.7l8.5-2.5l9 0.3l5.5-1.3l6.5-0.6l7.5-1.6l2.5 0.3l5.5 1.5l7-0.4l7 1.3l6.5 0.1l3 0.8l5.5 2.6l4 0.8l47.5-0.4l13.5-1l3-0.8l5.5-2.4l2.5-0.5l2.5 0l4.5 0.8l2-0.1l6.5-2l11.5-2.1l2.5 0.4l5.5 2l2 0l5.5-1.1l2 0.3l5.5 1.7l5.5-0.5l2 0.2l2.5 0.9l6 3.7l4 1l36.1 0.1" stroke="#50118f"/>
<path d="M79.4 1030.7l45.5-0.2l20.5-0.6l5-0.7l8.5-2.8l9 0.3l5.5-1.3l6.5-0.7l7.5-1.7l2.5 0.3l5.5 1.6l7-0.4l7 1.4l6.5 0l3 1l5.5 2.7l4 0.9l24 0.1l23.5-0.4l13.5-1.1l3-0.9l5.5-2.6l2.5-0.6l2.5 0.1l4.5 0.9l2-0.1l6.5-2.2l11.5-2.2l2.5 0.4l5.5 2.1l2 0l5.5-1.2l2 0.3l5.5 1.9l5.5-0.5l2 0.1l2.5 1l6 3.9l4 1.1l36.1 0.2" stroke="#43118f"/>
<path d="M77.9 1035.8l45.5-0.3l20.5-0.6l5-0.8l8.5-3l2.5-0.1l6.5 0.4l5.5-1.4l6.5-0.8l5.5-1.6l2-0.2l2.5 0.3l5.5 1.8l7-0.5l7 1.6l6.5 0l3 1l5.5 3l4 1l24 0l23.5-0.4l8.5-0.5l5-0.7l3-0.9l5.5-2.8l2.5-0.6l2.5 0.1l4.5 0.9l2-0.1l6.5-2.4l9-2l2.5-0.3l2.5 0.4l5.5 2.3l2-0.1l5.5-1.2l2 0.3l5.5 2l5.5-0.5l2 0.1l2.5 1.1l6 4.2l4 1.2l36.1 0.1" stroke="#37118f"/>
<path d="M76.3 1040.8l45.5-0.2l20.5-0.8l5-0.8l8.5-3.2l2.5-0.2l4.5 0.6l2-0.1l5.5-1.6l6.5-0.8l5.5-1.7l2-0.3l2.5 0.4l5.5 1.9l7-0.5l7 1.7l6.5 0l3 1.1l5.5 3.3l4 1l24 0.1l23.5-0.5l8.5-0.5l5-0.7l3-1.1l5.5-2.9l2.5-0.7l2.5 0.1l4.5 1l2-0.2l6.5-2.4l9-2.3l2.5-0.3l2.5 0.5l5.5 2.4l2 0l3.5-1.1l2-0.3l2 0.4l5.5 2.1l5.5-0.6l2 0.2l2.5 1.2l6 4.5l4 1.2l36.1 0.2" stroke="#2a118f"/>
<path d="M74.8 1045.9l45.5-0.3l20.5-0.8l5-0.9l6-2.7l2.5-0.8l2.5-0.2l4.5 0.7l2-0.1l5.5-1.7l6.5-0.9l5.5-1.9l2-0.3l2.5 0.4l5.5 2.1l7-0.6l7 1.9l6.5 0l3 1.2l5.5 3.5l4 1.1l24 0.1l23.5-0.5l8.5-0.6l5-0.7l3-1.1l5.5-3.2l2.5-0.7l2.5 0.1l4.5 1l2-0.1l6.5-2.7l9-2.4l2.5-0.3l2.5 0.5l5.5 2.6l2 0l3.5-1.2l2-0.3l2 0.4l5.5 2.3l5.5-0.6l2 0.2l2.5 1.2l6 4.8l2 0.9l2 0.4l36.1 0.3" stroke="#1e118f"/>
<path d="M73.2 1050.9l45.5-0.3l20.5-0.8l5-1l6-3l2.5-0.8l2.5-0.2l4.5 0.7l2-0.1l5.5-1.9l6.5-0.9l5.5-2l2-0.4l2.5 0.5l5.5 2.3l7-0.7l7 2l6.5 0.1l3 1.3l5.5 3.7l4 1.3l24 0.1l23.5-0.6l8.5-0.6l5-0.8l3-1.2l5.5-3.4l2.5-0.8l2.5 0.1l4.5 1.1l2-0.1l6.5-2.9l9-2.6l2.5-0.3l2.5 0.5l5.5 2.9l2-0.1l3.5-1.3l2-0.2l2 0.3l5.5 2.5l1.5 0.1l4-0.8l2 0.3l2.5 1.3l6 5.2l2 0.9l2 0.5l36.1 0.2" stroke="#13118f"/>
<path d="M71.7 1056l45.5-0.3l20.5-1l5-1l6-3.2l2.5-0.9l2.5-0.2l4.5 0.7l2-0.1l5.5-2l6.5-1l5.5-2.2l2-0.4l2.5 0.5l3.5 1.8l2 0.7l7-0.7l7 2.1l6.5 0.1l3 1.4l5.5 4.1l4 1.3l24 0.1l23.5-0.6l8.5-0.6l5-0.9l3-1.3l5.5-3.6l2.5-0.9l2.5 0.1l4.5 1.2l2-0.1l6.5-3.1l9-2.8l2.5-0.4l2.5 0.6l5.5 3l2 0l3.5-1.4l2-0.3l2 0.4l5.5 2.7l1.5 0.1l4-0.8l2 0.2l2.5 1.4l6 5.6l2 1l2 0.5l36.1 0.3" stroke="#111c8f"/>
<path d="M70.1 1061l45.5-0.3l20.5-1l5-1.2l6-3.4l2.5-1l2.5-0.2l4.5 0.7l2-0.1l5.5-2.1l6.5-1.1l5.5-2.4l2-0.4l2.5 0.5l3.5 2l2 0.7l7-0.8l7 2.4l6.5 0l3 1.5l5.5 4.5l2 1l2 0.4l24 0.1l23.5-0.6l8.5-0.7l5-0.9l3-1.4l5.5-3.9l2.5-1l2.5 0.1l4.5 1.3l2-0.1l6.5-3.3l9-3l2.5-0.4l2.5 0.6l4 2.7l1.5 0.6l2-0.1l3.5-1.4l2-0.4l2 0.5l5.5 2.8l1.5 0.1l4-0.8l2 0.2l2.5 1.5l6 6l2 1.2l2 0.5l36.1 0.2" stroke="#11258f"/>
<path d="M68.6 1066.1l45.5-0.4l12-0.4l8.5-0.7l5-1.2l6-3.8l2.5-1.1l2.5-0.2l4.5 0.9l2-0.1l5.5-2.4l6.5-1.2l5.5-2.6l2-0.4l2.5 0.5l3.5 2.2l2 0.8l7-0.9l7 2.6l4.5-0.2l2 0.2l3 1.7l5.5 4.8l2 1.1l2 0.5l4.5 0.2l19-0.1l24-0.7l8.5-0.8l5-1l3-1.5l5.5-4.2l2.5-1l2.5 0.1l4.5 1.4l2-0.1l6.5-3.6l9-3.2l2.5-0.4l2.5 0.6l4 2.9l1.5 0.7l2-0.1l3.5-1.6l2-0.3l2 0.4l4 2.5l1.5 0.6l1.5 0.1l4-0.9l2 0.2l2.5 1.7l6 6.4l2 1.3l2 0.5l4.5 0.3l31.6 0" stroke="#112e8f"/>
<path d="M67 1071.1l45.5-0.4l12-0.4l8.5-0.7l5-1.4l6-4.1l2.5-1.2l2.5-0.2l4.5 0.9l2-0.1l5.5-2.5l6.5-1.4l5.5-2.8l2-0.4l2.5 0.6l3.5 2.3l2 0.9l7-0.9l7 2.7l4.5-0.2l2 0.3l3 1.8l5.5 5.2l2 1.1l2 0.6l4.5 0.3l19-0.2l24-0.7l8.5-0.8l5-1.1l3-1.6l5.5-4.6l2.5-1l2.5 0.1l4.5 1.5l2-0.2l6.5-3.8l9-3.5l2.5-0.5l2.5 0.8l4 3l1.5 0.8l2-0.1l3.5-1.7l2-0.4l2 0.5l4 2.7l1.5 0.7l1.5 0l4-1l2 0.3l2.5 1.8l6 7l2 1.2l2 0.7l4.5 0.3l31.6 0" stroke="#11378f"/>
<path d="M65.5 1076.2l45.5-0.5l12-0.4l8.5-0.8l3-0.7l2-0.8l6-4.4l2.5-1.3l2.5-0.3l4.5 1l2-0.1l5.5-2.8l6.5-1.4l5.5-3l2-0.5l2.5 0.7l3.5 2.5l2 0.9l1.5 0l3.5-0.9l2-0.1l1.5 0.4l5.5 2.6l4.5-0.2l2 0.3l3 1.9l5.5 5.7l2 1.2l2 0.6l4.5 0.3l19-0.1l24-0.8l8.5-0.9l5-1.2l3-1.7l5.5-4.9l2.5-1.2l2.5 0.2l4.5 1.6l2-0.2l6.5-4.1l4.5-1.7l4.5-2.1l2.5-0.5l2.5 0.8l4 3.3l1.5 0.8l2-0.1l3.5-1.8l2-0.4l2 0.5l4 2.9l1.5 0.7l1.5 0.1l4-1.1l2 0.3l2.5 2l6 7.4l2 1.4l2 0.7l4.5 0.3l31.6 0" stroke="#11438f"/>
<path d="M63.9 1081.2l45.5-0.4l12-0.6l8.5-0.8l3-0.7l2-0.9l6-4.8l2.5-1.4l2.5-0.3l4.5 1.1l2-0.1l5.5-3l6.5-1.6l5.5-3.3l2-0.5l2.5 0.7l3.5 2.7l2 1l1.5 0.1l3.5-1l2-0.1l1.5 0.4l5.5 2.8l4.5-0.2l2 0.3l3 2.1l5.5 6.1l2 1.4l2 0.6l4.5 0.4l19-0.2l24-0.9l8.5-0.9l5-1.3l3-1.8l5.5-5.3l2.5-1.3l2.5 0.2l4.5 1.7l2-0.2l6.5-4.4l4.5-1.8l4.5-2.3l2.5-0.5l2.5 0.8l4 3.6l1.5 0.8l2-0.1l3.5-1.9l2-0.4l2 0.6l4 3.1l1.5 0.7l1.5 0.1l4-1.2l2 0.4l2.5 2.1l6 8l2 1.5l2 0.7l4.5 0.4l31.6 0" stroke="#114f8f"/>
<path d="M62.4 1086.3l45.5-0.5l12-0.6l8.5-0.9l3-0.8l2-1l6-5.2l2.5-1.4l2.5-0.4l4.5 1.2l2-0.1l5.5-3.3l6.5-1.7l5.5-3.5l2-0.6l2.5 0.8l3.5 2.9l2 1.1l1.5 0l3.5-1l2-0.1l1.5 0.4l4 2.5l1.5 0.6l4.5-0.3l2 0.3l3 2.3l5.5 6.7l2 1.4l2 0.8l4.5 0.3l19-0.2l24-0.9l8.5-1l5-1.4l3-2l5.5-5.7l2.5-1.3l2.5 0.1l4.5 1.9l2-0.2l6.5-4.8l4.5-1.9l4.5-2.5l2.5-0.6l2.5 1l4 3.8l1.5 0.9l2-0.1l3.5-2.1l2-0.5l2 0.7l4 3.4l1.5 0.7l1.5 0.1l4-1.2l2 0.4l2.5 2.2l6 8.7l2 1.6l2 0.8l4.5 0.3l31.6 0" stroke="#115a8f"/>
<path d="M60.8 1091.3l45.5-0.5l12-0.6l8.5-1l3-0.9l2-1.1l6-5.6l2.5-1.6l2.5-0.3l4.5 1.3l2-0.2l5.5-3.5l6.5-1.8l5.5-3.9l2-0.7l2.5 0.9l3.5 3.2l2 1.2l1.5 0l3.5-1.1l2-0.1l1.5 0.5l4 2.7l1.5 0.6l4.5-0.4l2 0.4l1.5 1l1.5 1.5l5.5 7.2l2 1.6l2 0.8l4.5 0.3l19-0.2l24-1l8.5-1.1l5-1.4l3-2.2l5.5-6.1l2.5-1.5l2.5 0.2l4.5 2l2-0.2l6.5-5.2l4.5-2l4.5-2.7l2.5-0.6l2.5 1l4 4.1l1.5 1l2-0.1l3.5-2.3l2-0.5l2 0.7l4 3.6l1.5 0.9l1.5 0.1l4-1.4l2 0.4l2.5 2.4l6 9.4l2 1.8l2 0.8l4.5 0.4l31.6 0" stroke="#116a8f"/>
<path d="M59.3 1096.4l45.5-0.6l12-0.7l8.5-1.1l3-0.9l2-1.1l6-6.1l2.5-1.8l2.5-0.3l4.5 1.3l2-0.1l5.5-3.9l6.5-1.9l5.5-4.2l2-0.7l1 0.1l1.5 0.8l3.5 3.5l2 1.2l1.5 0.1l3.5-1.3l2-0.1l1.5 0.6l4 2.9l1.5 0.7l4.5-0.4l2 0.4l1.5 1l1.5 1.7l5.5 7.8l2 1.7l2 0.9l4.5 0.4l19-0.2l24-1.1l8.5-1.2l5-1.6l3-2.3l5.5-6.6l2.5-1.6l2.5 0.2l4.5 2.2l2-0.3l6.5-5.6l4.5-2.2l4.5-2.8l2.5-0.7l2.5 1l4 4.5l1.5 1.1l2-0.2l3.5-2.4l2-0.6l2 0.8l4 3.9l1.5 0.9l1.5 0.1l4-1.4l2 0.4l2.5 2.6l6 10.1l2 1.9l2 0.9l4.5 0.5l31.6 0" stroke="#11798f"/>
<path d="M57.7 1101.4l45.5-0.6l12-0.8l8.5-1.1l3-1l2-1.3l6-6.6l2.5-1.9l2.5-0.4l4.5 1.5l2-0.1l5.5-4.2l2-0.9l4.5-1.2l5.5-4.6l2-0.7l1 0.1l1.5 0.9l3.5 3.7l2 1.4l1.5 0l3.5-1.3l2-0.1l1.5 0.6l4 3.1l1.5 0.8l1.5 0.1l3-0.5l2 0.4l1.5 1.1l1.5 1.8l5.5 8.5l2 1.9l2 0.9l4.5 0.4l19-0.2l14-0.5l10-0.7l8.5-1.3l5-1.7l3-2.5l5.5-7.1l2.5-1.7l2.5 0.2l4.5 2.3l2-0.2l6.5-6.1l4.5-2.3l4.5-3.1l2.5-0.8l1.5 0.5l1 0.7l4 4.8l1.5 1.1l1 0.2l1-0.3l3.5-2.6l2-0.6l2 0.8l4 4.2l1.5 1l1.5 0.1l4-1.5l2 0.4l2.5 2.8l6 11l2 2l2 1l4.5 0.4l31.6 0" stroke="#11898f"/>
<path d="M56.2 1106.5l45.5-0.7l12-0.8l8.5-1.3l3-1.1l2-1.3l6-7.2l2.5-2l2.5-0.5l4.5 1.7l2-0.2l5.5-4.5l2-1l4.5-1.3l5.5-5l2-0.8l1 0.2l1.5 0.9l3.5 4.1l2 1.4l1.5 0.1l3.5-1.5l2-0.1l1.5 0.7l4 3.4l1.5 0.8l1.5 0.1l3-0.6l2 0.5l1.5 1.2l1.5 2l5.5 9.2l2 2l2 1l4.5 0.5l19-0.3l14-0.5l10-0.8l8.5-1.3l5-1.9l3-2.7l5.5-7.7l2.5-1.8l1-0.2l1.5 0.3l4.5 2.6l2-0.3l6.5-6.5l4.5-2.6l4.5-3.3l2.5-0.8l1.5 0.5l1 0.8l4 5.2l1.5 1.2l1 0.2l1-0.4l3.5-2.8l2-0.6l2 0.8l4 4.6l1.5 1.1l1.5 0.1l4-1.7l2 0.5l2.5 3l6 11.8l2 2.2l2 1.1l4.5 0.5l31.6 0" stroke="#118f84"/>
<path d="M54.6 1111.5l45.5-0.8l12-0.8l8.5-1.4l3-1.2l2-1.4l6-7.8l2.5-2.2l2.5-0.5l4.5 1.8l2-0.2l5.5-4.9l2-1.1l4.5-1.4l5.5-5.3l2-0.9l1 0.1l1.5 1.1l3.5 4.4l2 1.6l1.5 0l3.5-1.6l2-0.1l1.5 0.7l4 3.7l1.5 0.9l1.5 0.1l3-0.6l2 0.5l1.5 1.3l1.5 2.1l5.5 10l2 2.2l2 1.1l4.5 0.5l19-0.3l14-0.5l10-0.8l8.5-1.5l3-1l2-1l3-3l5.5-8.3l2.5-2l1-0.1l1.5 0.3l4.5 2.8l1 0.1l1-0.4l6.5-7l4.5-2.8l4.5-3.6l2.5-0.9l1.5 0.5l1 0.9l4 5.6l1.5 1.3l1 0.2l1-0.4l3.5-3l2-0.7l2 0.9l4 5l1.5 1.1l1.5 0.2l4-1.9l2 0.6l2.5 3.2l6 12.8l2 2.4l2 1.1l4.5 0.5l31.6 0.1" stroke="#118f72"/>
<path d="M53.1 1116.5l45.5-0.8l12-0.9l8.5-1.5l3-1.3l2-1.6l6-8.4l2.5-2.4l1-0.4l1.5-0.1l4.5 1.9l2-0.2l1.5-1.1l4-4.2l2-1.1l4.5-1.6l1.5-1.3l4-4.5l2-1l1 0.2l1.5 1.1l3.5 4.8l2 1.7l1.5 0.1l3.5-1.7l2-0.2l1.5 0.8l4 4l1.5 0.9l1.5 0.2l3-0.6l2 0.5l1.5 1.4l1.5 2.3l5.5 10.8l2 2.4l2 1.2l4.5 0.5l19-0.3l14-0.5l10-0.9l8.5-1.7l3-1l2-1.1l3-3.2l5.5-9l2.5-2.1l1-0.2l1.5 0.4l4.5 3l1 0.1l1-0.4l6.5-7.6l4.5-3l4.5-3.9l1.5-0.8l1-0.2l1.5 0.6l1 0.9l4 6.1l1.5 1.4l1 0.2l1-0.4l3.5-3.3l2-0.7l2 1l4 5.3l1.5 1.3l1.5 0.1l4-2l1 0.1l1 0.5l2.5 3.6l6 13.7l2 2.6l2 1.2l4.5 0.6l31.6 0" stroke="#118f61"/>
<path d="M51.5 1121.6l28-0.3l17.5-0.6l12-1l8.5-1.6l3-1.4l2-1.7l6-9.1l2.5-2.7l1-0.4l1.5-0.1l4.5 2.1l2-0.3l1.5-1.2l4-4.5l2-1.3l4.5-1.7l1.5-1.3l4-4.9l2-1.1l1 0.2l1.5 1.2l3.5 5.2l2 1.9l1.5 0l3.5-1.8l2-0.2l1.5 0.8l4 4.4l1.5 1l1.5 0.1l3-0.6l2 0.6l1.5 1.5l1.5 2.5l5.5 11.7l2 2.6l2 1.2l4.5 0.6l18.5-0.3l14.5-0.6l10-1l8.5-1.7l3-1.1l2-1.2l3-3.4l5.5-9.8l1.5-1.7l1-0.6l1-0.2l1.5 0.5l4.5 3.2l1 0.1l1-0.5l6.5-8.2l4.5-3.2l4.5-4.2l1.5-0.9l1-0.1l1.5 0.6l1 0.9l4 6.6l1.5 1.6l1 0.2l1-0.5l3.5-3.5l2-0.8l2 1.1l4 5.7l1.5 1.4l1.5 0.1l4-2.1l1 0.1l1 0.5l2.5 3.9l6 14.8l2 2.8l2 1.3l4.5 0.6l31.6 0.1" stroke="#118f4f"/>
<path d="M50 1126.6l28-0.3l17.5-0.7l12-1l8.5-1.8l3-1.5l2-1.9l2-2.8l4-7l2.5-2.9l1-0.5l1.5 0l4.5 2.2l2-0.3l1.5-1.3l4-4.9l2-1.3l4.5-1.9l1.5-1.5l4-5.3l2-1.1l1 0.2l1.5 1.3l3.5 5.6l2 2l1.5 0.1l3.5-2l2-0.2l1.5 0.9l4 4.7l1.5 1.1l1.5 0.2l3-0.7l2 0.6l1.5 1.7l1.5 2.7l5.5 12.7l2 2.8l2 1.3l4.5 0.7l18.5-0.3l14.5-0.7l10-1.1l8.5-1.9l3-1.2l2-1.3l3-3.7l5.5-10.5l1.5-1.8l1-0.7l1-0.2l1.5 0.5l4.5 3.5l1 0.1l1-0.5l6.5-8.9l4.5-3.5l4.5-4.6l1.5-0.9l1-0.1l1.5 0.6l1 1.1l4 7l1.5 1.7l1 0.3l1-0.5l3.5-3.8l1-0.7l1-0.2l1 0.3l1 0.9l4 6.2l1.5 1.5l1.5 0.1l4-2.3l1 0.1l1 0.6l1 1.2l1.5 2.9l6 16.1l2 3l2 1.4l4.5 0.7l31.6 0" stroke="#118f3c"/>
<path d="M48.4 1131.6l28-0.3l17.5-0.7l12-1.2l8.5-1.9l3-1.6l2-2l2-3.1l4-7.6l2.5-3.1l1-0.5l1.5-0.1l4.5 2.4l1 0.1l1-0.4l1.5-1.4l4-5.4l2-1.4l3-1.1l1.5-0.9l1.5-1.6l4-5.8l1-0.9l1-0.3l1 0.2l1.5 1.4l3.5 6.1l2 2.2l1.5 0.1l3.5-2.2l2-0.2l1.5 1l4 5.1l1.5 1.2l1.5 0.2l3-0.8l2 0.7l1.5 1.8l1.5 2.9l5.5 13.8l2 3l2 1.5l2 0.5l2.5 0.2l18.5-0.4l14.5-0.7l10-1.1l8.5-2.1l3-1.3l2-1.4l3-4l5.5-11.4l1.5-1.9l1-0.7l1-0.3l1.5 0.5l4.5 3.8l1 0.1l1-0.5l6.5-9.6l4.5-3.8l4.5-4.9l1.5-1l1-0.2l1.5 0.7l1 1.1l4 7.7l1.5 1.8l1 0.3l1-0.5l3.5-4.2l1-0.7l1-0.2l1 0.3l1 1l4 6.7l1.5 1.6l1.5 0.2l4-2.5l1 0l1 0.7l1 1.3l1.5 3.2l6 17.4l2 3.2l2 1.5l2 0.6l2.5 0.2l31.6 0" stroke="#118f2a"/>
<path d="M46.9 1136.7l28-0.4l17.5-0.8l12-1.2l8.5-2.1l3-1.7l2-2.2l2-3.4l4-8.3l2.5-3.3l1-0.6l1.5-0.1l4.5 2.7l1 0.1l1-0.5l1.5-1.5l4-5.8l2-1.5l3-1.2l1.5-1l1.5-1.7l4-6.3l1-1l1-0.3l1 0.2l1.5 1.5l3.5 6.7l2 2.3l1.5 0.1l3.5-2.4l2-0.2l1.5 1.1l4 5.6l1.5 1.2l1.5 0.2l3-0.8l1 0.1l1 0.6l1.5 2l1.5 3.1l5.5 15l2 3.2l2 1.7l2 0.5l2.5 0.2l18.5-0.4l14.5-0.7l10-1.3l8.5-2.2l3-1.4l2-1.5l3-4.4l5.5-12.3l1.5-2.1l1-0.7l1-0.3l1.5 0.5l4.5 4.1l1 0.1l1-0.5l6.5-10.4l4.5-4.1l4.5-5.3l1.5-1.1l1-0.2l1.5 0.8l1 1.2l4 8.3l1.5 2l1 0.2l1-0.5l3.5-4.5l1-0.8l1-0.3l1 0.4l1 1.1l4 7.2l1.5 1.8l1.5 0.1l4-2.6l1 0l1 0.8l1 1.4l1.5 3.4l6 18.8l2 3.5l2 1.6l2 0.6l2.5 0.2l31.6 0.1" stroke="#118f20"/>
<path d="M45.3 1141.7l28-0.4l17.5-0.8l12-1.4l5-1.1l3.5-1.1l3-1.9l2-2.4l2-3.7l4-8.9l2.5-3.6l1-0.6l1.5-0.2l4.5 2.9l1 0.1l1-0.5l1.5-1.6l4-6.3l2-1.7l3-1.2l1.5-1.1l1.5-1.9l4-6.8l1-1l1-0.5l1 0.3l1.5 1.7l3.5 7.2l2 2.5l1.5 0.1l3.5-2.5l1-0.4l1 0.1l1.5 1.2l4 6l1.5 1.4l1.5 0.2l3-1l1 0.2l1 0.7l1.5 2.1l1.5 3.4l5.5 16.2l2 3.6l2 1.7l2 0.7l2.5 0.1l18.5-0.4l14.5-0.8l10-1.4l8.5-2.3l3-1.6l2-1.6l3-4.7l5.5-13.3l1.5-2.3l1-0.8l1-0.3l1.5 0.6l4.5 4.4l1 0.1l1-0.6l6.5-11.2l4.5-4.5l4.5-5.7l1.5-1.2l1-0.2l1.5 0.8l1 1.4l4 8.9l1.5 2.2l1 0.3l1-0.6l3.5-4.9l1-0.9l1-0.2l1 0.4l1 1.1l4 7.9l1.5 1.8l1.5 0.2l4-2.9l1 0.1l1 0.8l1 1.5l1.5 3.7l6 20.3l2 3.8l2 1.8l2 0.7l2.5 0.2l31.6 0" stroke="#118f17"/>
<path d="M43.8 1146.7l28-0.4l17.5-0.9l12-1.5l5-1.2l3.5-1.2l3-2.1l2-2.6l2-3.9l4-9.7l2.5-3.9l1-0.7l1.5-0.1l4.5 3.1l1 0.1l1-0.5l1.5-1.8l4-6.8l2-1.9l3-1.3l1.5-1.2l1.5-2l4-7.4l1-1.1l1-0.5l1 0.3l1.5 1.8l3.5 7.8l2 2.8l1.5 0.1l3.5-2.8l1-0.4l1 0.2l1.5 1.2l4 6.5l1.5 1.5l1.5 0.3l3-1.1l1 0.2l1 0.7l1.5 2.4l1.5 3.7l5.5 17.5l2 3.9l2 1.8l2 0.7l2.5 0.2l18.5-0.4l14.5-0.9l10-1.5l4.5-1.1l4-1.4l3-1.7l2-1.8l3-5l5.5-14.4l1.5-2.5l1-0.9l1-0.3l1.5 0.6l4.5 4.8l1 0.1l1-0.6l1.5-2.4l3-6.5l2-3.3l4.5-4.8l4.5-6.2l1.5-1.3l1-0.2l1.5 0.9l1 1.4l4 9.7l1.5 2.3l1 0.4l1-0.7l3.5-5.2l1-1l1-0.2l1 0.4l1 1.2l4 8.5l1.5 2l1.5 0.2l4-3.1l1 0.1l1 0.8l1 1.7l1.5 4l6 22l2 4.1l2 1.9l2 0.7l2.5 0.2l31.6 0.1" stroke="#158f11"/>
<path d="M42.2 1151.8l28-0.6l17.5-0.9l12-1.6l5-1.3l3.5-1.3l3-2.3l2-2.8l2-4.3l4-10.5l2.5-4.2l1-0.7l1.5-0.2l4.5 3.4l1 0.1l1-0.5l1.5-2l4-7.4l2-2l3-1.4l1.5-1.3l1.5-2.2l4-8l1-1.2l1-0.5l1 0.3l1.5 2l3.5 8.4l2 3l1.5 0.2l3.5-3.1l1-0.4l1 0.2l1.5 1.3l4 7.1l1.5 1.6l1.5 0.2l3-1.1l1 0.2l1 0.8l1.5 2.5l1.5 4l5.5 19.1l2 4.1l2 2.1l2 0.7l2.5 0.3l18.5-0.5l14.5-1l10-1.6l4.5-1.2l4-1.6l3-1.8l2-1.9l1.5-2.3l1.5-3.2l5.5-15.5l1.5-2.7l1-1l1-0.3l1.5 0.7l3.5 4.3l1 0.9l1 0.1l1-0.8l1.5-2.5l3-7l2-3.6l4.5-5.2l4.5-6.7l1.5-1.4l1-0.2l1.5 0.9l1 1.6l4 10.5l1.5 2.5l1 0.3l1-0.6l3.5-5.7l1-1.1l1-0.3l1 0.5l1 1.3l4 9.3l1.5 2.1l1.5 0.2l4-3.3l1 0l1 1l1 1.8l1.5 4.3l6 23.8l2 4.4l2 2.1l2 0.8l2.5 0.2l31.6 0" stroke="#2a8f11"/>
<path d="M40.7 1156.8l28-0.6l17.5-1l12-1.7l5-1.4l3.5-1.5l3-2.3l2.5-3.8l2-4.9l3.5-11.3l1.5-2.9l2.5-1.8l1.5-0.4l1 0.5l3 4.2l1 0.4l1-0.6l1.5-2.4l2.5-6.9l1-1.9l2.5-1.6l2.5-2.3l2-0.5l1-0.8l1.5-3.4l2-6.9l0.5-1.2l1-1.1l3.5 0.8l1 1.1l3.5 12.2l1.5 2.4l1-0.4l3-4.6l1-0.3l3 0.5l1.5 1.6l2.5 7l1.5 2.8l0.5 0.4l1 0l3-3.1l1 0.2l1 1.1l2 3.2l1.5 3.6l3.5 15.3l2 6.9l2 4.2l2 2l2 0.8l2.5 0.2l20-0.6l13.5-1.1l10-1.7l4.5-1.4l4-1.8l3-2.1l2-2.3l3-6.2l4.5-15.6l1-2.4l1-1.3l2.5-0.9l1 0l1 0.9l2.5 5l1 1.3l1 0.3l1-0.8l1.5-3.1l2.5-8.3l1-2.1l2.5-2.6l2.5-4l2.5-2.1l3-7.2l1-1.1l4 2.5l1 1.5l3 11.8l1.5 3.5l0.5 0.3l1-0.7l3-7.7l1-1.3l1-0.2l2.5 0.3l1 1l1 2.5l2.5 8.9l1.5 2.8l0.5 0.2l1-0.4l2.5-4.7l1-1l1 0.3l1 1.2l2 3.3l1 2.7l4 20l1.5 6l2 5.1l2 2.6l2 1l3 0.4l31.6 0" stroke="#3f8f11"/>
<path d="M39.1 1161.8l28-0.6l17.5-1.1l12-1.9l5-1.5l3.5-1.5l2-1.5l1.5-1.6l2.5-4.4l2-5.7l2.5-10.1l1.5-4.2l0.5-0.5l2-0.8l1.5-1.4l1-0.3l1 1.2l2.5 5.3l1 0.7l1-0.5l1.5-3.1l2.5-9.2l1-1.9l2.5-0.3l2.5-3.7l1 0l1.5 0.9l1-0.9l1-3.4l2-9.9l1-2.2l0.5 0.1l2 2.3l2-1.4l0.5 0.4l1 3.3l2 11.2l1.5 4.5l0.5 0.4l1-1.1l2-5.8l0.5-1l0.5-0.5l0.5 0.1l2 1.7l2-1l1 1l3 11.3l1.5 2.5l0.5 0l1-1.2l2-4.3l0.5-0.4l1 0.5l2 3.9l1.5 2.1l1 2.3l3.5 18.4l2 7.4l2 4.2l2 2l2 0.8l2.5 0.2l20.5-0.7l13.5-1.2l9.5-1.8l5-1.7l4-2l3-2.4l2-2.7l3-7.1l4-16.9l1.5-3.2l2-0.2l1.5-1.1l1-0.1l1 1.6l2 5.9l1 1.9l1 0.5l1-0.8l1.5-3.9l3-12.3l1-1.1l1 0l1-0.7l2.5-5.5l0.5-0.5l1.5 0.2l0.5-0.3l1-2.3l2-8l0.5-1l0.5-0.1l2 3.5l0.5 0.4l1.5-0.9l0.5 0.1l0.5 0.7l1 4l2 11.8l1.5 4.5l0.5 0.3l1-1.2l2.5-9.9l0.5-1.5l0.5-0.8l0.5-0.1l2 1.6l2-1.2l0.5 0.3l1 2.8l2.5 12.3l1.5 3.4l0.5 0.2l1-0.9l2.5-7.3l0.5-1l0.5-0.3l0.5 0.3l2 3.8l1.5 1.8l1 2.3l5 28.3l2 6l1 1.9l1.5 1.7l2 1l3 0.3l31.6 0.1" stroke="#548f11"/>
<path d="M37.6 1166.8l28.5-0.7l17.5-1.2l6.5-0.9l5.5-1.2l5-1.6l3.5-1.9l2-1.6l1.5-1.9l2.5-5.1l2-6.9l2.5-12.3l1-2.5l0.5-0.4l1.5 0.3l0.5-0.2l2-2.9l0.5-0.2l1 1.5l2.5 7.3l0.5 0.7l1 0.3l1-1.2l1-2.9l3-13.3l0.5-0.7l0.5 0.1l1.5 1.4l0.5-0.2l2-4.4l0.5-0.8l0.5-0.1l2 3l0.5 0.2l0.5-0.7l1-4.3l2-13.4l0.5-1.8l0.5-0.6l2 4.6l0.5 0.4l2-3.8l0.5 0.1l0.5 1.3l2.5 17.5l1.5 5.7l0.5 0.3l1-1.9l2-8.5l1-1.8l2.5 3.7l0.5-0.3l1.5-2.4l0.5-0.1l0.5 0.8l3 14.8l0.5 1.6l1 1.4l0.5-0.1l1-1.9l2-6.4l0.5-0.7l0.5 0.1l2.5 6.2l1.5 1.4l1 2l4.5 26.5l2 5.7l1 1.8l1.5 1.6l2 1l2.5 0.3l20.5-0.7l14-1.3l10-2.2l4.5-1.6l4-2.2l3-2.5l2-2.8l2-4.4l1.5-4.7l3.5-18.2l1-2.9l0.5-0.3l2 0.9l2-2.5l0.5-0.1l1 1.8l2 7.9l1 2.5l1 0.8l1-0.9l1.5-4.7l2-11.5l1-3.9l0.5-0.7l0.5 0.1l1 1l0.5 0.2l0.5-0.5l2.5-7.3l0.5-0.4l1.5 1.5l0.5 0l0.5-0.8l2-10.6l1-3.6l0.5 0.1l1.5 4.8l0.5 1.2l0.5 0.4l2-3.3l0.5 0.4l1 4.8l2 15.7l1.5 5.8l0.5 0.2l1-1.8l2.5-13.8l1-2.6l0.5 0.2l1.5 3.2l0.5 0.4l0.5-0.3l1.5-2.8l0.5-0.1l0.5 1l3 18.2l0.5 2.1l1 2.1l0.5 0.2l0.5-0.5l0.5-1l3-11.7l0.5-0.3l0.5 0.6l2 5.5l2 1.6l0.5 1.2l1 5.2l2 16.2l1.5 9.4l2 7.1l1 2.2l1.5 2l2 1.3l3 0.5l32.1 0" stroke="#698f11"/>
<path d="M36 1171.8l28.5-0.7l17.5-1.3l6.5-1l5.5-1.3l5-1.8l3.5-1.9l2-1.8l1.5-1.9l2.5-5.2l2-7.7l2.5-14.6l1-2.7l0.5-0.2l1.5 1.2l0.5-0.2l2-4.1l0.5-0.4l1 1.7l2.5 9.7l0.5 0.9l1 0.5l1-1.4l1-3.5l2-12.3l1-4.2l0.5-0.6l0.5 0.4l1.5 2.8l0.5 0l2-6.1l0.5-1l0.5 0l2 5.3l0.5 0.5l0.5-0.6l1-5.2l2-17.5l0.5-2.2l0.5-0.4l2 7.4l0.5 0.5l0.5-0.8l1.5-5.7l0.5-0.3l0.5 1.4l2.5 22.3l1 5.9l0.5 1.3l0.5 0.1l0.5-0.9l2.5-13.6l0.5-1.7l0.5-0.5l2 5.4l0.5 0.6l0.5-0.5l1.5-4.1l0.5-0.5l0.5 0.8l3 18.9l0.5 2l1 1.6l1-1.4l2.5-10.6l0.5-0.9l0.5 0.3l2.5 8.2l0.5 0.5l1.5 0.5l0.5 1.2l1 5.5l2.5 20.1l1 5.2l2 5.9l1 1.7l1.5 1.6l2 0.9l3 0.3l20.5-0.8l13.5-1.4l10-2.3l5-2l4-2.5l3-2.9l2-3.2l1.5-3.5l1.5-5l3.5-21.5l1-3.2l0.5-0.1l1.5 2.1l0.5 0.1l2-3.7l0.5-0.4l0.5 0.5l3 13.5l1 2.2l0.5 0.3l0.5-0.2l0.5-0.7l1.5-5.7l2-14.5l1-4.5l0.5-0.5l2 3.2l0.5-0.4l0.5-1.5l2-7.8l0.5-0.2l1.5 3l0.5 0.4l0.5-0.9l2-13.9l1-4.5l0.5 0.3l1.5 7.1l0.5 1.8l0.5 0.5l2-6.3l0.5 0.1l1 5.6l2 20.2l0.5 3.5l1 3.7l0.5 0.2l0.5-0.8l0.5-1.8l2.5-18.1l0.5-2.3l0.5-0.8l0.5 0.7l1.5 5.2l0.5 0.6l0.5-0.6l1.5-4.8l0.5-0.5l0.5 1l3 23l0.5 2.5l1 2.5l0.5 0.1l0.5-0.7l0.5-1.4l2.5-14l0.5-1.6l0.5-0.2l2.5 8.4l0.5 0.5l1.5-0.2l0.5 1l1 5.7l2 19.5l1.5 10.7l2 7.2l1 2.2l1.5 2l2 1.2l3 0.4l32.1 0.1" stroke="#7e8f11"/>
<path d="M34.5 1176.8l28.5-0.8l18-1.4l6.5-1.1l5.5-1.5l5-2l3.5-2.3l2-2l1.5-2.2l2.5-6l1.5-6.9l2.5-17.4l1-2.9l0.5 0.2l1.5 2.2l0.5-0.1l2-5.7l0.5-0.6l0.5 0.4l3 13.9l0.5 1.3l0.5 0.6l0.5 0.1l1-1.6l1-4.1l2-15.3l1-5l0.5-0.5l2 5.3l0.5 0l2-7.8l0.5-1.2l0.5 0l2 7.9l0.5 0.9l0.5-0.5l1-6.3l2-22.1l0.5-2.6l0.5-0.3l2 10.8l0.5 0.6l0.5-1.2l1.5-8.4l0.5-0.8l0.5 1.4l2.5 28l1 7.2l0.5 1.5l0.5 0l0.5-1.3l2.5-18l0.5-2.1l0.5-0.5l2 7.8l0.5 0.8l0.5-0.7l1.5-6.1l0.5-0.9l0.5 0.7l3 23.6l1 3.8l0.5 0.5l1-2l2.5-14.1l0.5-1.1l0.5 0.3l2.5 10.5l0.5 0.5l1-0.7l0.5 0l0.5 1.1l1 6.1l3 27l2 7.5l1 2l1.5 1.8l2 1.2l3 0.4l20.5-0.9l14.5-1.6l5.5-1.1l4.5-1.4l5-2.3l4-2.8l3-3.4l2-3.6l1.5-4l1.5-6.2l3-22.8l1-3.5l0.5 0.2l1.5 3.5l0.5 0.2l0.5-0.6l1.5-4.7l0.5-0.7l0.5 0.5l3 16.9l1 2.8l0.5 0.3l0.5-0.1l0.5-0.8l1.5-6.7l2-17.8l1-5.4l0.5-0.3l2 5.6l0.5-0.3l0.5-1.8l2-9.9l0.5 0l1.5 4.9l0.5 0.7l0.5-0.9l2.5-21.4l0.5-1.8l0.5 0.6l2 12.2l0.5 0.5l2-9.6l0.5-0.4l0.5 2.1l2.5 29.7l0.5 4.4l1 4.4l0.5 0.2l0.5-1l0.5-2.4l2.5-23.2l0.5-2.7l0.5-0.7l0.5 1.1l1.5 7.5l0.5 0.8l0.5-0.7l1.5-7.2l0.5-1l0.5 0.9l3 28.4l0.5 3.1l1 2.9l0.5 0.1l0.5-1l0.5-1.9l2.5-18.1l0.5-1.9l0.5-0.2l2.5 11.1l0.5 0.5l1.5-1.8l0.5 0.8l0.5 2.3l2.5 27.2l1.5 12.1l1.5 6.1l1 2.5l1.5 2.3l2 1.5l3 0.6l32.6 0" stroke="#8f8b11"/>
<path d="M32.9 1181.8l29-0.9l18-1.6l7-1.4l5.5-1.7l4.5-2.1l3.5-2.5l3-3.9l2.5-6.1l1.5-7.7l2.5-20.5l0.5-2.3l0.5-0.8l0.5 0.4l1.5 3.5l0.5-0.1l2-7.4l0.5-0.9l0.5 0.5l3 17.3l0.5 1.6l0.5 0.8l0.5 0.1l1-1.7l1-4.9l2-18.6l1-6l0.5-0.3l2 7.6l0.5 0.2l2-9.8l0.5-1.6l0.5 0.1l2 10.9l0.5 1.5l0.5-0.4l1-7.5l2-27.4l0.5-3.1l0.5-0.1l2 14.5l0.5 0.9l0.5-1.7l1.5-11.6l0.5-1.4l0.5 1.5l2.5 34.3l1 8.9l0.5 1.6l0.5-0.1l0.5-1.8l2.5-23l0.5-2.6l0.5-0.4l2 10.6l0.5 0.9l0.5-0.8l1.5-8.4l0.5-1.5l0.5 0.7l3 28.9l1 4.6l0.5 0.4l1-2.6l2.5-18l0.5-1.4l0.5 0.4l2.5 13.1l0.5 0.4l1.5-2l0.5 0.9l1 6.9l2 23.3l1 8.2l1.5 6.5l1 2.3l1.5 2.2l2 1.3l3 0.5l20.5-0.8l15-1.8l5.5-1.2l5-1.8l5-2.6l4-3.1l2.5-3l2.5-4.9l1.5-4.6l1-5l3-26.7l1-3.8l0.5 0.5l1.5 5l0.5 0.5l0.5-0.9l1.5-6.3l0.5-1l0.5 0.5l3 20.7l1 3.4l0.5 0.5l0.5-0.1l0.5-0.9l1.5-7.9l2-21.6l1-6.3l0.5 0l2 8.3l0.5-0.3l0.5-2l2-12.2l0.5 0.1l1.5 7l0.5 1.3l0.5-0.9l2.5-26.7l0.5-2.1l0.5 0.9l2 16l0.5 0.5l2-13.5l0.5-0.8l0.5 2.3l2.5 36.3l0.5 5.4l1 5.3l0.5 0.2l0.5-1.4l0.5-3l2.5-29l0.5-3.2l0.5-0.7l2 11.8l0.5 1.1l0.5-1l1.5-9.8l0.5-1.6l0.5 0.9l3 34.5l0.5 3.7l1 3.4l0.5 0l0.5-1.3l0.5-2.4l2-18.7l1-6.4l0.5-0.1l0.5 1.9l2 12.2l0.5 0.4l1.5-3.5l0.5 0.4l1 7.1l3 37.6l1.5 8.1l1 2.9l1.5 2.7l2 1.7l3.5 0.8l32.6 0.1" stroke="#8f7811"/>
<path d="M31.4 1186.8l29-0.9l10-0.8l8-1l6.5-1.3l5.5-1.8l5-2.5l3.5-2.7l2-2.4l1.5-2.5l1.5-3.6l1-3.8l1-6.4l2.5-24.1l0.5-2.5l0.5-0.8l2 5.8l0.5-0.1l2-9.4l0.5-1.2l0.5 0.6l3 21.1l0.5 1.9l0.5 1.1l0.5 0.2l1-1.9l1-5.9l2-22.3l1-7l0.5-0.1l2 10.3l0.5 0.3l0.5-1.6l1.5-10.5l0.5-1.9l0.5 0.2l2 14.3l0.5 2.1l0.5-0.2l1-9l1.5-26.4l1-10.7l0.5 0.2l2 18.9l0.5 1l0.5-2.1l1.5-15.3l0.5-2.1l0.5 1.6l2.5 41.6l0.5 6.4l1 6.1l0.5-0.3l1-6.6l1.5-19.1l1-8.4l0.5-0.4l0.5 2.2l1.5 11.4l0.5 1.3l0.5-1.2l1.5-11l0.5-2l0.5 0.6l3 34.9l1 5.5l0.5 0.4l1-3.4l2.5-22.5l0.5-1.7l0.5 0.6l2.5 16.1l0.5 0.1l1.5-3.5l0.5 0.7l1 7.7l2 27.4l1 9.3l1.5 6.8l2 3.7l2 1.6l3 0.6l20-0.8l8.5-0.8l7-1.1l6-1.5l5-1.8l5-2.8l4-3.4l3-4l2.5-5.4l2-8.8l3-31.2l0.5-3.2l0.5-1l0.5 0.9l1.5 6.9l0.5 0.6l0.5-1l1.5-8.2l0.5-1.4l0.5 0.4l3 25.1l1 4.1l0.5 0.7l0.5-0.1l0.5-0.9l1.5-9.3l2-26l1-7.2l0.5 0.3l2 11.5l0.5-0.2l0.5-2.5l1.5-12.7l0.5-2l0.5 0.3l2 11.2l0.5-0.9l2.5-32.6l0.5-2.5l0.5 1.3l2 20.3l0.5 0.5l2-17.9l0.5-1.4l0.5 2.6l2.5 43.9l0.5 6.4l1 6.3l0.5 0.1l0.5-1.7l0.5-3.7l2.5-35.6l0.5-3.9l0.5-0.6l2 15.6l0.5 1.4l0.5-1.3l1.5-12.9l0.5-2.3l0.5 0.8l3 41.5l0.5 4.4l1 4l0.5-0.2l0.5-1.6l0.5-3l2-23l1-7.8l0.5-0.1l0.5 2.5l2 15.1l0.5 0.2l1.5-5.4l0.5 0.1l1 7.7l3 43.8l1.5 8.7l2 4.6l1 1.2l1.5 1.1l3 0.7l33.1 0.1" stroke="#8f6611"/>
<path d="M29.8 1191.8l29.5-1.1l10-0.8l8-1.1l6.5-1.5l5.5-2l5-2.8l3.5-3l2-2.7l1.5-2.8l2-6.7l1-7.1l2-23.4l1-7.6l0.5-0.6l2 7.9l0.5 0l2-11.7l0.5-1.6l0.5 0.6l3 25.5l0.5 2.3l0.5 1.3l0.5 0.4l1-2.1l1-6.9l2-26.6l1-8.2l0.5 0.1l1.5 10.6l0.5 2.8l0.5 0.5l0.5-1.9l1.5-12.8l0.5-2.3l0.5 0.3l2 18.2l0.5 2.9l0.5-0.1l1-10.6l1.5-31.8l1-12.7l0.5 0.4l1.5 18.9l0.5 5l0.5 1.3l0.5-2.8l1.5-19.4l0.5-2.9l0.5 1.7l2.5 49.7l0.5 7.7l1 7.1l0.5-0.4l1-8.2l1.5-23.4l1-10.3l0.5-0.3l0.5 2.9l1.5 14.4l0.5 1.5l0.5-1.5l1.5-14l0.5-2.7l0.5 0.5l1 10.8l2 31l1 6.4l0.5 0.5l1-4.4l2.5-27.6l0.5-2.1l0.5 0.8l2 17.3l0.5 2.2l0.5 0l1.5-5.4l0.5 0.4l0.5 3.1l2.5 37.5l1 10.5l1 5.6l1 2.8l1 1.7l2 1.7l3 0.8l21-1l8.5-0.9l7-1.2l6-1.6l5-2.1l5-3.1l4-3.8l3-4.5l2.5-6.1l1-4.4l1-7.8l2.5-31.9l0.5-3.6l0.5-0.9l0.5 1.3l1.5 9l0.5 0.8l0.5-1.2l1.5-10.3l0.5-1.9l0.5 0.3l1 7.8l2 22.2l1 5.1l0.5 0.8l0.5-0.1l0.5-1l1.5-10.8l2-30.8l1-8.3l0.5 0.6l2 15l0.5 0l0.5-2.9l1.5-15.3l0.5-2.4l0.5 0.6l2 14.6l0.5-0.9l2.5-39.4l0.5-2.9l0.5 1.7l2 25.2l0.5 0.7l2-23l0.5-2.1l0.5 2.8l2.5 52.5l0.5 7.6l1 7.4l0.5 0.1l0.5-2.1l0.5-4.6l2-35.2l1-12.3l0.5-0.5l0.5 3.2l1.5 16.5l0.5 1.8l0.5-1.7l2-19.4l0.5 0.6l0.5 4.7l2.5 44.8l0.5 5.2l1 4.6l0.5-0.3l0.5-2l0.5-3.7l2-28l1-9.4l0.5 0l0.5 3.1l2 18.5l0.5 0l1.5-7.7l0.5-0.4l1 8.7l3 50.6l1 7.2l1 3.6l1 2.1l1 1.3l1.5 1.2l3 0.8l33.6 0.1" stroke="#8f5411"/>
<path d="M28.3 1196.8l30-1.2l10-0.9l8-1.3l6.5-1.7l5.5-2.2l5-3.1l3.5-3.5l2-2.9l1.5-3.1l1.5-5.8l1-8l2-27.1l1-8.6l0.5-0.6l2 10.3l0.5 0.1l2-14.3l0.5-2l0.5 0.6l3 30.5l0.5 2.8l0.5 1.6l0.5 0.5l0.5-0.6l0.5-1.8l1-8l2-31.4l1-9.5l0.5 0.3l1.5 13.5l0.5 3.5l0.5 0.7l0.5-2.3l1.5-15.5l0.5-2.7l0.5 0.5l2 22.7l0.5 3.7l0.5 0.1l1-12.4l1.5-38l1-14.9l0.5 0.7l1.5 23.3l0.5 6.2l0.5 1.6l0.5-3.5l1.5-24.1l0.5-3.8l0.5 1.7l2.5 59.1l0.5 9.1l1 8.2l0.5-0.6l0.5-3.7l3-47l0.5-0.2l0.5 3.6l1.5 17.7l0.5 1.9l0.5-1.8l1.5-17.5l0.5-3.4l0.5 0.4l1 12.7l2 36.8l1 7.5l0.5 0.5l1-5.4l2-28l1-8l0.5 1l0.5 4l1.5 16.9l0.5 2.4l0.5-0.2l1.5-7.5l0.5 0.2l1 9.7l2.5 43.8l1 8.6l1 4.1l1 2l1 1.1l1.5 0.9l3 0.6l20.5-1l9-1l7-1.3l6-1.7l5-2.3l5-3.4l4-4l3.5-5.5l2-5.2l1-4.7l1-8.6l2.5-37.1l0.5-4l0.5-0.9l2 13.2l0.5 1.1l0.5-1.5l1.5-12.7l0.5-2.5l0.5 0.3l1 9.1l2 26.5l1 6l0.5 1.1l0.5 0l0.5-1.2l1.5-12.5l2-36.3l1-9.6l0.5 1.1l2 19.1l0.5 0l0.5-3.4l1.5-18.2l0.5-2.7l0.5 0.8l2 18.5l0.5-0.9l2.5-46.9l0.5-3.5l0.5 2.2l1.5 25.3l0.5 5.6l0.5 0.7l2-28.9l0.5-2.7l0.5 3l2.5 62.2l0.5 9l1 8.7l0.5 0l0.5-2.6l0.5-5.5l2-42.2l1-14.6l0.5-0.4l0.5 4.1l1.5 20.5l0.5 2.2l0.5-2.1l2-24.4l0.5 0.6l0.5 5.4l2.5 53l0.5 6.1l1 5.2l0.5-0.4l0.5-2.4l0.5-4.5l2-33.7l1-11.2l0.5 0.1l0.5 3.9l1.5 19.2l0.5 3l0.5-0.1l1.5-10.3l0.5-0.9l1 9.6l2 43.4l1 15l1 7.7l1.5 4.7l1 1.4l1.5 1.3l3 0.8l34.1 0.2" stroke="#8f4311"/>
<path d="M26.7 1201.8l28.5-1.2l10-0.9l8-1.3l6.5-1.6l5.5-2.2l4.5-2.6l4-3.3l2.5-3.1l2-3.4l1-2.6l1-4.7l1-9l2-31.2l1-9.9l0.5-0.4l1.5 10.3l0.5 2.7l0.5 0.2l2.5-19.7l0.5 0.6l0.5 3.7l2.5 32.4l1 5.3l0.5 0.6l0.5-0.6l1-5.7l0.5-5.6l2-36.9l1-10.9l0.5 0.5l1.5 16.7l0.5 4.3l0.5 1l0.5-2.7l1.5-18.4l0.5-3.3l0.5 0.7l2 27.8l0.5 4.6l0.5 0.4l1-14.5l1.5-44.9l1-17.5l0.5 1.1l1.5 28.5l0.5 7.4l0.5 1.9l0.5-4.2l1.5-29.6l0.5-4.8l0.5 1.8l2.5 69.6l0.5 10.7l1 9.5l0.5-0.9l0.5-4.5l2-41.6l1-14.5l0.5-0.1l0.5 4.4l1.5 21.6l0.5 2.2l0.5-2.2l1.5-21.4l0.5-4.3l0.5 0.3l1 14.8l2 43.4l1 8.8l0.5 0.4l1-6.5l2.5-40.1l0.5-3l0.5 1.2l2 25l0.5 2.7l0.5-0.4l1.5-9.9l0.5-0.2l0.5 3.5l3 57.7l1 9.6l1.5 5.2l2 2l3.5 0.8l10.5-0.3l12-0.9l8.5-1.2l7-1.5l5.5-1.8l5-2.5l4.5-3.4l4-4.3l3.5-5.6l2-5.1l1-4.9l1-9.7l2.5-42.8l0.5-4.5l0.5-0.9l2 16.6l0.5 1.3l0.5-1.7l1.5-15.5l0.5-3.1l0.5 0.2l1 10.6l2 31.3l1 7.1l0.5 1.3l0.5 0l0.5-1.2l1-7.5l0.5-6.9l2-42.6l1-10.9l0.5 1.5l2 23.7l0.5 0.3l0.5-4l1.5-21.5l0.5-3.2l0.5 1.2l2 22.9l0.5-0.9l2.5-55.5l0.5-4.1l0.5 2.8l1.5 30.5l0.5 6.8l0.5 0.7l2-35.4l0.5-3.7l0.5 3.3l2.5 73.1l0.5 10.6l1 10.1l0.5 0l0.5-3.2l0.5-6.5l2-50.1l1-17.1l0.5-0.3l0.5 5.1l1.5 25l0.5 2.6l0.5-2.6l2-29.9l0.5 0.4l0.5 6.3l2.5 62.2l0.5 7.2l1 6l0.5-0.6l0.5-2.9l0.5-5.4l2-40.1l1-13.2l0.5 0.2l0.5 4.7l1.5 23l0.5 3.5l0.5-0.4l1.5-13.3l0.5-1.4l0.5 2.9l3 67.5l1 12.3l1.5 6.8l1 1.7l1.5 1.2l3.5 0.9l34.1 0.2" stroke="#8f3311"/>
<path d="M25.2 1206.7l28.5-1.2l10-1l8-1.4l6.5-1.7l5.5-2.4l5-3.2l4-3.7l4-5.9l1-2.6l1-4.9l1-10.1l2-36l1-11.2l0.5-0.3l1.5 12.9l0.5 3.3l0.5 0.3l2.5-23.5l0.5 0.6l0.5 4.3l2.5 38.1l1 6.3l0.5 0.8l0.5-0.7l1-6.5l0.5-6.5l2-43l1-12.6l0.5 0.8l1.5 20.4l0.5 5.3l0.5 1.3l0.5-3.1l1.5-21.9l0.5-3.8l0.5 0.8l2 33.7l0.5 5.7l0.5 0.6l1-16.8l1.5-52.8l1-20.4l0.5 1.5l1.5 34.4l0.5 8.9l0.5 2.3l0.5-5.1l1.5-35.8l0.5-6l0.5 1.9l2.5 81.4l0.5 12.5l1 11.1l0.5-1.3l0.5-5.3l2-49.5l1-17l0.5-0.1l0.5 5.4l1.5 25.9l0.5 2.7l0.5-2.7l1.5-25.8l0.5-5.3l0.5 0.1l1 17.2l2 50.9l1 10.2l0.5 0.4l1-7.9l2.5-47.6l0.5-3.5l0.5 1.5l2 29.5l0.5 3.1l0.5-0.7l1.5-12.7l0.5-0.6l0.5 3.9l3 66.1l1 10.6l0.5 2.6l1 2.6l2 1.4l4 0.5l13.5-0.6l11.5-1.2l7.5-1.2l6-1.5l5-1.9l4.5-2.5l5-4.1l4-4.9l4-7l1.5-5.1l1.5-13.8l2.5-49.3l0.5-5.1l0.5-0.8l2 20.4l0.5 1.6l0.5-2l1.5-18.6l0.5-3.8l0.5 0.1l1 12.3l2 36.7l1 8.4l0.5 1.5l0.5 0.1l0.5-1.4l1-8.5l0.5-8.1l2-49.6l1-12.4l0.5 2l2 29.1l0.5 0.4l0.5-4.6l1.5-25.2l0.5-3.7l0.5 1.5l2 28l0.5-0.8l2.5-65.3l0.5-4.7l0.5 3.5l1.5 36.4l0.5 8l0.5 0.9l2-43l0.5-4.7l0.5 3.7l2.5 85.4l0.5 12.4l1 11.7l0.5-0.1l0.5-3.8l0.5-7.7l2-59.1l1-19.9l0.5-0.2l0.5 6.3l1.5 30.1l0.5 3.1l0.5-3.1l1.5-30l0.5-6.2l0.5 0.2l1 20l2 59.8l1 13.3l0.5 1.9l0.5-0.8l1-9.9l2.5-57.4l0.5-5.4l0.5 0.3l2 33l0.5 4l0.5-0.6l1.5-16.7l0.5-2.1l0.5 3.1l3 77.3l1 13.6l0.5 3.5l1 3.5l1 1.3l1 0.6l3.5 0.8l34.6 0.1" stroke="#8f2211"/>
<path d="M23.6 1211.7l29-1.4l10-1.1l8-1.5l6.5-2l5.5-2.6l5-3.6l4-4.2l2.5-3.4l1.5-2.8l1.5-6.7l1-11.3l2-41.2l1-12.8l0.5 0l1.5 15.8l0.5 3.9l0.5 0.4l2.5-27.9l0.5 0.6l0.5 5l2.5 44.6l1 7.5l0.5 0.9l0.5-0.7l1-7.4l0.5-7.5l2-49.9l1-14.4l0.5 1.1l1.5 24.6l0.5 6.4l0.5 1.6l0.5-3.7l1.5-25.7l0.5-4.4l0.5 1l2 40.3l0.5 6.9l0.5 0.9l1-19.3l1.5-61.7l1-23.7l0.5 2l1.5 41l0.5 10.6l0.5 2.7l0.5-6.1l1.5-42.8l0.5-7.3l0.5 1.9l2.5 94.8l0.5 14.6l1 12.7l0.5-1.6l0.5-6.4l2-58.3l1-19.9l0.5 0.1l0.5 6.5l1.5 30.8l0.5 3.2l0.5-3.2l1.5-30.9l0.5-6.5l0.5 0l1 19.9l2 59.3l1 11.7l0.5 0.4l1-9.4l2-47l1-13.1l0.5 1.7l2 34.7l0.5 3.5l0.5-1.1l1.5-15.8l0.5-1l0.5 4.1l3 75.6l1 11.7l1 4.3l0.5 0.8l1 0.7l3.5 0.2l15.5-0.8l12-1.3l7-1.3l6-1.7l5-2.1l4.5-2.8l4.5-4l4-5.1l4-6.9l1.5-5l1.5-15.2l2.5-56l0.5-5.7l0.5-0.7l2 24.5l0.5 2l0.5-2.4l1.5-21.9l0.5-4.6l0.5 0l1 14.1l2 42.4l1 9.7l0.5 1.8l0.5 0.1l0.5-1.5l1-9.6l0.5-9.2l2-57l1-14l0.5 2.6l2 34.9l0.5 0.6l0.5-5.3l1.5-29.2l0.5-4.1l0.5 1.9l2 33.4l0.5-0.8l2.5-75.6l0.5-5.3l0.5 4.1l1.5 42.9l0.5 9.3l0.5 0.9l2-51.1l0.5-5.7l0.5 4l2.5 98.4l0.5 14.3l1 13.3l0.5-0.1l0.5-4.6l0.5-8.9l2-68.5l1-22.9l0.5 0l0.5 7.5l1.5 35.5l0.5 3.7l0.5-3.7l1.5-35.5l0.5-7.5l0.5 0l1 22.9l2 68.9l1 15.1l0.5 2.2l0.5-1l1-11.6l2.5-66.7l0.5-6.2l0.5 0.5l2 38.5l0.5 4.6l0.5-0.9l1.5-20.4l0.5-2.9l0.5 3.2l3 87.6l1 15l1 5.7l0.5 1.2l1 1l2.5 0.5l36.6 0.1" stroke="#8f1c11"/>
<path d="M22.1 1216.6l16.5-0.6l12.5-0.9l10-1.3l8-1.7l6.5-2.1l5.5-2.9l5-4l4-4.6l2.5-3.8l1.5-3.1l1.5-7.4l1-12.5l2-45.8l1-14.1l0.5-0.1l1.5 17.5l0.5 4.4l0.5 0.5l2.5-31l0.5 0.7l0.5 5.6l2.5 49.4l1 8.2l0.5 1.1l0.5-0.8l1-8.2l0.5-8.3l2-55.3l1-16l0.5 1.3l1.5 27.2l0.5 7.1l0.5 1.7l0.5-4l1.5-28.5l0.5-4.9l0.5 1.2l2 44.6l0.5 7.6l0.5 1l1-21.4l1.5-68.3l1-26.3l0.5 2.2l1.5 45.5l0.5 11.7l0.5 2.9l0.5-6.7l1.5-47.4l0.5-8.1l0.5 2.1l2.5 105.1l0.5 16.2l1 14l0.5-1.7l0.5-7.2l2-64.5l1-22.1l0.5 0l0.5 7.3l1.5 34.1l0.5 3.6l0.5-3.6l1.5-34.2l0.5-7.2l0.5-0.1l1 22.1l2 65.8l1 13l0.5 0.4l1-10.4l2-52.1l1-14.6l0.5 1.9l2 38.5l0.5 3.9l0.5-1.2l1.5-17.5l0.5-1.2l0.5 4.6l3 83.8l1 12.9l1 4.8l0.5 0.9l1 0.7l3.5 0.3l15.5-0.9l12-1.4l7-1.4l6-1.9l5-2.4l4.5-3.1l4.5-4.4l4-5.7l4-7.6l1.5-5.6l1.5-16.8l2.5-62l0.5-6.4l0.5-0.8l2 27.2l0.5 2.2l0.5-2.7l1.5-24.2l0.5-5.2l0.5 0l1 15.7l2 47l1 10.7l0.5 2l0.5 0.2l0.5-1.7l1-10.6l0.5-10.2l2-63.2l1-15.5l0.5 2.8l2 38.7l0.5 0.6l0.5-5.7l1.5-32.4l0.5-4.6l0.5 2.1l2 37l0.5-0.9l2.5-83.7l0.5-6l0.5 4.6l1.5 47.5l0.5 10.4l0.5 1l2-56.6l0.5-6.4l0.5 4.4l2.5 109.1l0.5 15.8l1 14.8l0.5-0.2l0.5-5l0.5-9.9l2-75.9l1-25.4l0.5 0l0.5 8.3l1.5 39.4l0.5 4.1l0.5-4.1l1.5-39.4l0.5-8.3l0.5 0l1 25.4l2 76.4l1 16.7l0.5 2.4l0.5-1.1l1-12.8l2.5-73.9l0.5-6.9l0.5 0.5l2 42.7l0.5 5.1l0.5-1l1.5-22.6l0.5-3.2l0.5 3.5l3 97.1l1 16.6l1 6.4l0.5 1.3l1 1.1l2.5 0.5l36.6 0.1" stroke="#8f1711"/>
<path d="M20.5 1221.4l16.5-0.8l12.5-1.1l10-1.5l8-2l6.5-2.6l5.5-3.4l5-4.8l4-5.6l2.5-4.5l1.5-3.7l1.5-9l1-14.9l2-54.9l1-17l0.5-0.1l1.5 21l0.5 5.3l0.5 0.6l2.5-37.2l0.5 0.8l0.5 6.7l2.5 59.3l1 9.9l0.5 1.3l0.5-1l1-9.8l0.5-10l2-66.4l1-19.2l0.5 1.6l1.5 32.7l0.5 8.4l0.5 2.1l0.5-4.8l1.5-34.2l0.5-5.9l0.5 1.4l2 53.6l0.5 9.1l0.5 1.2l1-25.6l1.5-82.1l1-31.4l0.5 2.6l1.5 54.5l0.5 14.1l0.5 3.5l0.5-8.1l1.5-56.8l0.5-9.8l0.5 2.6l2.5 126.1l0.5 19.4l1 16.8l0.5-2.1l0.5-8.5l2-77.5l1-26.4l0.5 0l0.5 8.6l1.5 41l0.5 4.3l0.5-4.3l1.5-41l0.5-8.7l0.5 0l1 26.4l2 79l1 15.6l0.5 0.5l1-12.5l2-62.5l1-17.6l0.5 2.3l2 46.2l0.5 4.7l0.5-1.5l1.5-21l0.5-1.4l0.5 5.6l3 100.5l1 15.5l1 5.7l0.5 1.1l1 0.9l3.5 0.4l15.5-1.1l12-1.8l7-1.7l6-2.2l5-2.9l4.5-3.7l4.5-5.3l4-6.8l4-9.2l1.5-6.6l1.5-20.2l2.5-74.5l0.5-7.6l0.5-0.9l2 32.5l0.5 2.7l0.5-3.2l1.5-29.1l0.5-6.2l0.5 0l1 18.8l2 56.4l1 12.9l0.5 2.4l0.5 0.2l0.5-2l1-12.8l0.5-12.2l2-75.8l1-18.7l0.5 3.5l2 46.3l0.5 0.8l0.5-6.9l1.5-38.9l0.5-5.5l0.5 2.5l2 44.5l0.5-1.1l2.5-100.5l0.5-7.1l0.5 5.5l1.5 57l0.5 12.4l0.5 1.2l2-67.9l0.5-7.6l0.5 5.3l2.5 130.9l0.5 18.9l1 17.8l0.5-0.2l0.5-6l0.5-11.9l2-91.1l1-30.5l0.5 0l0.5 10l1.5 47.2l0.5 4.9l0.5-4.9l1.5-47.2l0.5-10l0.5 0l1 30.5l2 91.6l1 20.1l0.5 2.9l0.5-1.3l1-15.4l2.5-88.7l0.5-8.3l0.5 0.6l2 51.2l0.5 6.2l0.5-1.2l1.5-27.2l0.5-3.8l0.5 4.3l3 116.5l1 19.9l1 7.7l0.5 1.5l1 1.3l2.5 0.7l36.6 0.1" stroke="#8f1111"/>
</g>
<g fill="none" stroke-width="1.6" stroke-linejoin="round">
<path d="M471.8 975.1l72-0.2l22-0.7l8-0.9l6.5 0.4l5.5-0.5l6 0.6l6.5-0.2l9 1l19 0.4l171.7 0.1" stroke="#8f1126"/>
<path d="M470.2 980.2l72-0.2l22-0.8l8-1l6.5 0.5l5.5-0.6l6 0.7l6.5-0.3l9 1.1l19 0.4l171.7 0.2" stroke="#8f1143"/>
<path d="M468.7 985.2l72-0.2l22-0.8l8-1l6.5 0.4l5.5-0.6l6 0.8l6.5-0.3l4 0.7l5 0.4l18.5 0.5l172.2 0.1" stroke="#8f1161"/>
<path d="M467.1 990.3l72-0.2l22-0.9l8-1.1l6.5 0.5l5.5-0.7l6 0.8l6.5-0.3l4 0.8l5 0.4l18.5 0.5l172.2 0.2" stroke="#8f1176"/>
<path d="M465.6 995.3l72-0.2l22-0.9l8-1.2l6.5 0.5l5.5-0.7l6 0.9l6.5-0.4l4 0.9l5 0.4l18.5 0.6l172.2 0.1" stroke="#8f118b"/>
<path d="M464 1000.4l72-0.3l22-0.9l8-1.3l6.5 0.5l5.5-0.7l6 0.9l6.5-0.4l4 0.9l5 0.6l18.5 0.5l172.2 0.2" stroke="#89118f"/>
<path d="M462.5 1005.5l72-0.3l22-1.1l4-0.4l4-0.9l6.5 0.6l5.5-0.8l6 1l6.5-0.4l4 0.9l5 0.6l18.5 0.6l172.2 0.2" stroke="#7e118f"/>
<path d="M460.9 1010.5l72-0.3l22-1.1l4-0.5l4-1l6.5 0.7l5.5-0.9l6 1.1l6.5-0.4l4 1l5 0.6l18.5 0.6l172.2 0.2" stroke="#74118f"/>
<path d="M459.4 1015.6l72-0.3l22-1.2l4-0.6l4-1l6.5 0.7l5.5-0.9l6 1.1l6.5-0.5l4 1.1l5 0.7l18 0.7l49.5-0.2l123.2 0.4" stroke="#68118f"/>
<path d="M457.8 1020.6l72-0.3l22-1.3l4-0.5l4-1.1l6.5 0.7l5.5-1l6 1.2l6.5-0.5l4 1.2l5 0.7l18 0.7l49.5-0.2l47.5 0.4l75.7 0" stroke="#5c118f"/>
<path d="M456.3 1025.7l52 0l20-0.4l22-1.3l4-0.6l4-1.2l6.5 0.8l5.5-1.1l6 1.3l6.5-0.5l4 1.2l5 0.7l18 0.9l49.5-0.3l47.5 0.5l75.7 0" stroke="#50118f"/>
<path d="M454.7 1030.8l52-0.1l20-0.3l22-1.5l4-0.6l4-1.3l6.5 0.8l5.5-1.1l6 1.4l6.5-0.6l4 1.4l5 0.7l18 0.9l49.5-0.3l47.5 0.5l75.7 0.1" stroke="#43118f"/>
<path d="M453.2 1035.8l52 0l20-0.4l22-1.6l4-0.6l4-1.4l6.5 0.9l5.5-1.2l6 1.5l6.5-0.6l4 1.4l5 0.8l17.5 0.9l50-0.4l47.5 0.7l75.7 0" stroke="#37118f"/>
<path d="M451.6 1040.9l52-0.1l19.5-0.3l22.5-1.7l4-0.8l4-1.4l4 0.8l2.5 0.1l5.5-1.3l6 1.6l2.5 0l4-0.6l4 1.5l5 0.9l17.5 0.9l16 0.1l34-0.5l47.5 0.7l75.7 0.1" stroke="#2a118f"/>
<path d="M450.1 1046l52-0.1l19.5-0.4l22.5-1.8l4-0.8l4-1.6l4 0.9l2.5 0.1l2-0.2l3.5-1.2l6 1.8l2.5-0.1l4-0.6l4 1.6l5 0.9l17.5 1.1l16 0l18-0.5l16-0.1l47.5 0.9l75.7 0.1" stroke="#1e118f"/>
<path d="M448.5 1051l52 0l19.5-0.5l11.5-0.7l11-1.2l4-0.9l4-1.6l4 0.9l2.5 0.1l2-0.3l3.5-1.1l6 1.8l2.5 0l4-0.8l4 1.8l5 1l17 1.1l16.5 0.1l18-0.7l16-0.1l47.5 1l75.7 0.1" stroke="#13118f"/>
<path d="M447 1056.1l52-0.1l19.5-0.5l11.5-0.8l11-1.2l4-0.9l4-1.8l4 1l2.5 0.1l2-0.3l3.5-1.3l4 1.6l2 0.4l2.5 0l3-0.8l1 0l4 1.9l5 1l17 1.2l16.5 0.1l18-0.8l16-0.2l13 0.1l7.5 0.5l27 0.7l75.7 0.1" stroke="#111c8f"/>
<path d="M445.4 1061.1l52 0l19.5-0.5l11.5-0.9l11-1.4l4-0.9l4-1.9l4 1l2.5 0.2l2-0.3l3.5-1.4l4 1.7l2 0.4l2.5 0l3-0.9l1 0l4 2.1l5 1.1l8 0.8l9 0.4l16.5 0.1l18-1l16-0.1l13 0l7.5 0.6l27 0.8l75.7 0.1" stroke="#11258f"/>
<path d="M443.9 1066.2l52-0.1l19.5-0.5l11.5-1l11-1.4l4-1l4-2.1l1 0.1l3 1.1l2.5 0.1l2-0.3l3.5-1.5l5.5 2.2l3 0l3.5-0.9l4.5 2.2l3.5 0.9l8 1l10 0.6l17 0l18-1.1l16-0.2l13 0.2l7.5 0.6l27 0.9l75.7 0.2" stroke="#112e8f"/>
<path d="M442.3 1071.3l52-0.1l19.5-0.6l11.5-1l11-1.6l4-1.1l4-2.1l1 0l3 1.2l2.5 0.2l2-0.4l3.5-1.6l5.5 2.4l3 0l3.5-1.1l4.5 2.4l3.5 1l8.5 1.2l9.5 0.5l17 0l18-1.3l16-0.2l13 0.1l7.5 0.8l27 1.1l75.7 0.2" stroke="#11378f"/>
<path d="M440.8 1076.3l52-0.1l19.5-0.6l11.5-1.1l11-1.6l4-1.2l4-2.3l1 0l3 1.3l2.5 0.2l2-0.5l3.5-1.6l5.5 2.5l3 0l3.5-1.1l1 0.3l3.5 2.2l3.5 1.1l8 1.2l9.5 0.6l17.5 0l18-1.6l16-0.2l13 0.1l7.5 1l27 1.2l75.7 0.2" stroke="#11438f"/>
<path d="M439.2 1081.4l51.5-0.1l20-0.7l11.5-1.1l11-1.8l4-1.3l4-2.5l1 0.1l3 1.3l2.5 0.2l2-0.4l3.5-1.8l1 0.2l2.5 1.7l2 0.8l3 0l3.5-1.2l1 0.3l3.5 2.4l3.5 1.2l8 1.2l9.5 0.6l17.5 0l7.5-0.5l10.5-1.3l16-0.3l13 0.2l7.5 1.1l27 1.4l75.7 0.3" stroke="#114f8f"/>
<path d="M437.7 1086.4l51.5-0.1l20-0.7l11.5-1.2l11-1.9l4-1.4l4-2.6l1 0l3 1.4l2.5 0.3l2-0.5l3.5-1.9l1 0.2l2.5 1.8l2 0.8l3 0.1l3.5-1.3l1 0.3l3.5 2.6l3.5 1.2l8 1.3l9.5 0.7l17.5-0.1l7.5-0.6l10.5-1.5l16-0.4l7 0.4l6-0.2l7.5 1.3l27 1.7l75.7 0.3" stroke="#115a8f"/>
<path d="M436.1 1091.5l51.5-0.1l20-0.8l11.5-1.3l11-2l4-1.5l4-2.9l1 0.1l3 1.5l2.5 0.3l2-0.5l3.5-2.1l1 0.3l2.5 1.9l2 0.9l3 0l3.5-1.4l1 0.4l3.5 2.8l3.5 1.3l8 1.4l9 0.6l18-0.1l7.5-0.7l10.5-1.8l9 0l7-0.4l7 0.4l6-0.2l7.5 1.5l27 2l75.7 0.4" stroke="#116a8f"/>
<path d="M434.6 1096.6l51.5-0.2l20-0.8l11.5-1.4l11-2.2l4-1.6l4-3l1 0.1l3 1.6l2.5 0.2l2-0.5l3.5-2.2l1 0.3l2.5 2.1l2 0.9l3 0l3.5-1.5l1 0.4l3.5 3l3.5 1.4l8 1.5l9 0.7l9 0.1l9-0.3l7.5-0.9l10.5-2.1l9 0l7-0.5l7 0.5l6-0.2l7.5 1.8l27 2.3l21 0.4l54.7 0.1" stroke="#11798f"/>
<path d="M433 1101.6l51.5-0.1l20-0.9l11.5-1.5l11-2.4l4-1.6l4-3.3l1 0.1l3 1.7l2.5 0.3l2-0.6l3.5-2.3l1 0.3l2.5 2.2l2 0.9l3 0.1l3.5-1.6l1 0.4l3.5 3.2l3.5 1.5l8 1.6l8.5 0.7l9.5 0.1l9-0.4l7.5-1l10.5-2.5l9 0l7-0.6l7 0.6l6-0.2l7.5 2.1l27 2.7l21 0.4l54.7 0.1" stroke="#11898f"/>
<path d="M431.5 1106.7l51.5-0.2l20-1l11.5-1.6l11-2.6l4-1.8l4-3.6l1 0.1l3 1.9l2.5 0.3l2-0.7l3.5-2.5l1 0.3l2.5 2.4l2 1.1l1.5 0.2l1.5-0.2l3.5-1.7l1 0.5l3.5 3.4l3.5 1.7l8 1.7l8.5 0.8l9.5 0.1l9-0.5l7.5-1.2l10.5-2.9l9 0l7-0.7l7 0.7l6-0.3l7.5 2.5l27 3.2l21 0.5l54.7 0.1" stroke="#118f84"/>
<path d="M429.9 1111.7l51.5-0.1l11-0.4l9-0.7l11.5-1.8l11-2.9l4-2l4-3.9l1 0.1l3 2.1l2.5 0.3l2-0.7l3.5-2.8l1 0.4l2.5 2.6l2 1.2l1.5 0.2l1.5-0.2l3.5-1.9l1 0.5l3.5 3.8l3.5 1.8l8 1.9l8 0.8l10 0.2l9-0.6l7.5-1.5l7.5-2.7l3-0.7l9 0l7-0.8l7 0.8l6-0.3l7.5 2.9l27 3.8l21 0.5l54.7 0.1" stroke="#118f72"/>
<path d="M428.4 1116.8l51.5-0.2l11-0.4l9-0.7l11.5-2l11-3.1l4-2.1l4-4.2l1 0.1l3 2.2l2.5 0.3l2-0.7l3.5-3l1 0.4l2.5 2.8l2 1.2l1.5 0.3l1.5-0.2l3.5-2.1l1 0.6l3.5 4l3.5 2l8 2l8 0.8l10 0.2l9-0.7l7.5-1.7l4-1.5l3.5-1.7l3-0.9l9 0l7-0.9l7 1l6-0.4l3 1.1l3 1.8l1.5 0.5l12 1.7l10.5 2.2l4.5 0.5l21 0.7l54.7 0.1" stroke="#118f61"/>
<path d="M426.8 1121.9l51.5-0.2l11-0.5l9-0.8l11.5-2.1l11-3.3l4-2.3l4-4.5l1 0.1l3 2.4l2.5 0.3l2-0.8l3.5-3.2l1 0.4l2.5 3l2 1.4l1.5 0.3l1.5-0.3l3.5-2.2l1 0.6l3.5 4.4l3.5 2l8 2.2l7.5 0.8l10 0.2l9.5-0.9l7.5-2l4-1.7l3.5-2.1l3-1l9 0.1l7-1.1l7 1.1l6-0.5l3 1.4l3 2.1l1.5 0.5l12 2l10.5 2.6l4.5 0.6l21 0.8l54.7 0.2" stroke="#118f4f"/>
<path d="M425.3 1126.9l51.5-0.2l11-0.4l9-1l11.5-2.2l11-3.6l4-2.5l4-4.9l1 0.2l3 2.5l2.5 0.4l2-0.9l3.5-3.5l1 0.5l2.5 3.2l2 1.5l1.5 0.3l1.5-0.3l3.5-2.3l1 0.6l3.5 4.7l3 2l7.5 2.3l8 1.1l10.5 0.1l9.5-1l7.5-2.4l4-2l3.5-2.4l3-1.2l9 0l7-1.2l7 1.3l4.5-0.7l1.5 0.1l3 1.6l3 2.5l1.5 0.6l12 2.4l10.5 3l4.5 0.7l21 0.9l54.7 0.2" stroke="#118f3c"/>
<path d="M423.7 1132l51.5-0.3l11-0.5l9-1l11.5-2.5l6.5-2l4.5-1.8l4-2.8l4-5.3l1 0.1l3 2.8l2.5 0.4l2-0.9l3.5-3.9l1 0.5l2.5 3.6l2 1.5l1.5 0.4l1.5-0.3l3.5-2.6l1 0.7l3.5 5.1l3 2.2l3 1.3l4.5 1.3l8 1.1l10.5 0.1l9.5-1.3l7.5-2.7l4-2.4l3.5-2.8l3-1.4l9 0l7-1.5l7 1.6l4.5-0.8l1.5 0.1l3 1.9l3 2.9l1.5 0.7l12 2.8l10.5 3.6l4.5 0.8l8 0.7l13 0.4l54.7 0.2" stroke="#118f2a"/>
<path d="M422.2 1137l51.5-0.2l11-0.6l9-1.1l11.5-2.7l6.5-2.2l4.5-2l2.5-1.6l1.5-1.4l4-5.8l1 0.2l3 3l1 0.4l1.5 0l2-1l3.5-4.2l1 0.6l2.5 3.8l2 1.7l1.5 0.4l1.5-0.4l2.5-2.2l1-0.5l1 0.7l3.5 5.5l3 2.4l3 1.4l4.5 1.4l7.5 1.1l5.5 0.3l5.5-0.2l9.5-1.5l3.5-1.3l4-2l4-2.7l3.5-3.3l3-1.7l4.5-0.2l4.5 0.3l7-1.8l7 1.8l4.5-0.9l1.5 0.2l3 2.2l3 3.4l1.5 0.8l12 3.3l10.5 4.1l4.5 1l8 0.8l13 0.5l54.7 0.3" stroke="#118f20"/>
<path d="M420.6 1142.1l51.5-0.3l11-0.6l9-1.2l11.5-2.9l6.5-2.5l4.5-2.1l2.5-1.7l1.5-1.5l4-6.3l1 0.2l3 3.2l1 0.5l1.5 0l2-1.1l3.5-4.5l1 0.6l2.5 4.1l2 1.8l1.5 0.4l1.5-0.3l2.5-2.5l1-0.5l1 0.8l3.5 5.9l3 2.6l3 1.4l4.5 1.6l2.5 0.6l4.5 0.5l5 0.3l6-0.2l5-0.7l5-1.2l3.5-1.4l4-2.4l4-3.3l3.5-3.8l3-1.9l4.5-0.3l4.5 0.3l5.5-1.8l1.5-0.2l7 2l4.5-1l1.5 0.2l3 2.6l3 4l1.5 0.9l12 3.9l10.5 4.9l4.5 1.1l8 0.9l13 0.6l54.7 0.3" stroke="#118f17"/>
<path d="M419.1 1147.2l51.5-0.4l11-0.6l9-1.3l6-1.4l5.5-1.8l6.5-2.6l4.5-2.3l2.5-1.8l1.5-1.6l4-6.7l1 0.1l3 3.5l1 0.5l1.5 0l2-1.2l2.5-3.8l1-1l1 0.6l3 5.1l2 1.5l1.5 0.2l1-0.4l3-3.1l1 0.1l3 5.5l1.5 2.1l2.5 2.1l4 2l6 1.9l3.5 0.4l6 0.4l6.5-0.4l8-1.6l5.5-2.6l5-3.8l2.5-2.5l3.5-4.5l3-2.2l1-0.4l3.5 0l4.5 0.4l5.5-2.2l1.5-0.2l7 2.4l4.5-1.2l1.5 0.2l3 3l3 4.7l1.5 1.2l3 1.4l9 3.1l10.5 5.7l4.5 1.4l8 1.1l13 0.6l54.7 0.4" stroke="#158f11"/>
<path d="M417.5 1152.2l51-0.3l11.5-0.8l9-1.4l6-1.5l5.5-1.9l6.5-2.9l4.5-2.5l2.5-2l1.5-1.7l4-7.3l1 0.1l3 3.8l1 0.5l1.5 0l2-1.3l2.5-4.1l1-1.1l1 0.7l3 5.5l2 1.6l1.5 0.2l1-0.4l3-3.4l1 0.2l3 5.9l1.5 2.3l2.5 2.3l4 2.1l6 2.1l3.5 0.4l6 0.3l6.5-0.4l4-0.8l4-1.2l2.5-1.1l3-1.9l5-4.4l2.5-3l3.5-5.3l3-2.6l1-0.4l3.5 0l4.5 0.4l1.5-0.4l4-2.1l1.5-0.3l1.5 0.3l4 2.1l1.5 0.4l1.5-0.2l3-1.1l1.5 0.2l3 3.5l3 5.5l1.5 1.4l3 1.6l9 3.6l10.5 6.8l4.5 1.6l8 1.2l13 0.8l54.7 0.4" stroke="#2a8f11"/>
<path d="M416 1157.3l51-0.4l11.5-0.8l9-1.5l6-1.6l5.5-2l6.5-3l4.5-2.7l2.5-2.1l1.5-1.8l4-7.6l1 0.1l3 3.9l1 0.6l1.5 0l2-1.4l2.5-4.3l1-1.2l1 0.7l3 5.8l2 1.7l1.5 0.2l1-0.5l3-3.5l0.5-0.1l0.5 0.2l3 6.3l1.5 2.3l2.5 2.4l4 2.3l6.5 2.2l8 0.6l7-0.6l4-0.9l4-1.3l3-1.5l3-2.2l5-5.3l2.5-3.4l3.5-6.3l3-3.1l1-0.4l3.5 0l4.5 0.5l1.5-0.5l4-2.5l1.5-0.3l1.5 0.4l4 2.4l1.5 0.5l1.5-0.2l3-1.4l1.5 0.2l3 4.2l3 6.5l1.5 1.5l3 1.9l9 4.3l10.5 7.9l2 1.1l2.5 0.8l8 1.5l13 0.9l22 0.4l32.7 0.1" stroke="#3f8f11"/>
<path d="M414.4 1162.3l51-0.4l11.5-0.8l9-1.6l6-1.7l5.5-2.1l6.5-3.2l4.5-2.8l2.5-2.2l1.5-1.9l4-8l0.5-0.2l0.5 0.3l3 4.1l1 0.6l1.5 0l2-1.5l2.5-4.5l1-1.2l1 0.7l3 6l2 1.8l1.5 0.2l1-0.5l3-3.7l0.5-0.1l0.5 0.2l3 6.6l2 3l2.5 2.3l4 2.2l5.5 2l4 0.3l5.5 0.2l6-0.8l4.5-1.2l4-1.7l2.5-1.5l3-2.6l3-3.3l2-2.8l2.5-4.1l3.5-7.4l3-3.6l1-0.5l3.5 0l4.5 0.6l1.5-0.6l4-2.9l1.5-0.4l1.5 0.5l4 2.9l1.5 0.5l1.5-0.3l3-1.6l1 0l0.5 0.3l3 4.9l3 7.6l1.5 1.8l3 2.3l9 5l10.5 9.3l2 1.2l2.5 1l8 1.7l13 1.1l22 0.5l32.7 0.1" stroke="#548f11"/>
<path d="M412.9 1167.4l51-0.5l11.5-0.9l9-1.7l6-1.9l5.5-2.2l6.5-3.5l4.5-3l2.5-2.3l1.5-2.1l4-8.6l0.5-0.1l0.5 0.3l3 4.3l1 0.6l1.5 0.1l2-1.6l2.5-4.9l1-1.3l1 0.8l3 6.4l2 1.9l1.5 0.2l1-0.5l3-4l0.5-0.2l0.5 0.4l3 6.9l2 3.3l2.5 2.4l4 2.3l5.5 2.2l8 0.4l7-0.9l4.5-1.3l4-1.9l3-2.1l3-3.1l3-3.9l2-3.3l2.5-4.8l3.5-8.6l3-4.3l1-0.5l3.5-0.1l4.5 0.7l1.5-0.7l4-3.4l1.5-0.5l1.5 0.6l4 3.4l1.5 0.7l1.5-0.4l3-1.9l1 0l0.5 0.4l3 5.7l3 8.9l1.5 2.1l3 2.7l9 5.8l10.5 11l2 1.5l2.5 1l8 2.1l13 1.3l22 0.5l32.7 0.1" stroke="#698f11"/>
<path d="M411.3 1172.5l51-0.5l11.5-1l9-1.7l6-1.9l5.5-2.4l6.5-3.4l4.5-3.1l2.5-2.3l1.5-2.1l4-8.6l0.5-0.2l0.5 0.3l3 4.3l1 0.6l1.5 0l2-1.6l2.5-4.9l1-1.3l1 0.8l3 6.3l2 1.9l1.5 0.2l1-0.5l3-4l0.5-0.2l0.5 0.3l3 7l2 3.2l2.5 2.4l4 2.4l5.5 2.1l8 0.2l6.5-1.1l4.5-1.5l4-2.2l3-2.3l3-3.4l3-4.5l2-3.7l3-6.6l3.5-10.2l3-4.9l1-0.7l3.5 0l4.5 0.8l1.5-0.9l4-4l1.5-0.5l1.5 0.7l4 4l1.5 0.7l1.5-0.4l3-2.2l1-0.1l0.5 0.5l3 6.7l3 10.5l1.5 2.5l3 3.1l9 6.9l10.5 12.8l2 1.7l2.5 1.3l4 1.5l4 0.9l13 1.5l22 0.7l32.7 0.1" stroke="#7e8f11"/>
<path d="M409.8 1177.5l34-0.1l16.5-0.4l11.5-1l9.5-1.9l6-2.1l5.5-2.5l6.5-3.7l4.5-3.3l2.5-2.5l1.5-2.3l4-9.1l0.5-0.2l0.5 0.3l3 4.6l1 0.6l1.5 0l2-1.7l2.5-5.3l1-1.3l0.5 0.1l0.5 0.7l3 6.7l2 2l1.5 0.2l1-0.6l3-4.2l0.5-0.2l0.5 0.3l3 7.4l2 3.4l2.5 2.5l4 2.5l5.5 2.3l8 0l6.5-1.3l4.5-1.9l4-2.6l3-2.6l3-4.1l3-5.2l2-4.4l3-7.8l3.5-11.9l3-5.8l1-0.8l3.5 0l4.5 0.9l1.5-1l4-4.7l1.5-0.6l1.5 0.8l4 4.7l1.5 0.9l1.5-0.5l3-2.6l1-0.1l0.5 0.6l3 7.8l3 12.3l1.5 3l3 3.6l9 8.1l10.5 15l2 2.1l2.5 1.5l4 1.7l4 1.1l6.5 1.1l6.5 0.6l22 0.8l32.7 0.1" stroke="#8f8b11"/>
<path d="M408.2 1182.6l33.5-0.2l16.5-0.4l11.5-1l9.5-2l6-2.1l5.5-2.5l6-3.5l5-3.6l2.5-2.5l2-2.9l4-9.5l0.5-0.2l0.5 0.4l3 4.6l1 0.6l1.5 0l2-1.8l2.5-5.4l1-1.4l0.5 0.1l0.5 0.7l3 6.9l2 2l1.5 0.2l1-0.6l3-4.3l0.5-0.3l0.5 0.4l3 7.5l2 3.5l3 3l4 2.4l5 2.1l8-0.3l6-1.5l5-2.4l4-3.1l3-3.1l3-4.8l3-6.2l2-5l3-9.2l3.5-14l3-6.8l1-0.9l3.5 0l3.5 1l1 0l1.5-1.2l4-5.5l1.5-0.7l1.5 0.9l4 5.5l1.5 1.1l1.5-0.6l3-3l1-0.1l0.5 0.6l3 9.2l3 14.5l1.5 3.4l3 4.3l9 9.5l10.5 17.6l2 2.4l2.5 1.8l4 2l4 1.3l6.5 1.3l6.5 0.7l22 1l32.7 0.1" stroke="#8f7811"/>
<path d="M406.7 1187.6l33-0.1l17-0.4l11.5-1.1l9.5-1.9l6-2.1l5.5-2.5l6-3.3l5-3.5l2.5-2.4l2-2.8l4-9l0.5-0.2l0.5 0.3l3 4.3l1 0.6l1.5-0.1l2-1.7l2.5-5.1l1-1.4l1 0.8l3 6.4l2 1.9l1.5 0.1l1-0.5l3-4.2l0.5-0.2l0.5 0.3l3 7l2 3.3l3 2.8l4.5 2.5l4.5 1.7l8-0.9l5.5-1.7l5-2.8l4-3.5l3.5-4.2l3-5.7l3-7.2l2-5.9l3-10.8l3.5-16.4l3-8l1-1.1l3.5 0l3.5 1.2l1 0l1.5-1.3l4-6.5l1.5-0.8l1.5 1l4 6.4l1.5 1.3l1.5-0.6l3-3.6l1-0.2l0.5 0.8l3 10.8l3 17l1.5 4l3 5l9 11.1l6 12.4l4.5 8.3l2 2.9l2.5 2l4 2.4l4 1.5l6.5 1.6l6.5 0.8l9.5 0.7l12.5 0.4l32.7 0.2" stroke="#8f6611"/>
<path d="M405.1 1192.7l33-0.2l17-0.5l11.5-1.1l9.5-2.1l6-2.2l5.5-2.7l6-3.6l5-3.7l2.5-2.5l2-3l4-9.5l0.5-0.2l0.5 0.3l3 4.5l1 0.6l1.5-0.1l2-1.9l2.5-5.4l1-1.4l0.5 0.1l0.5 0.6l3 6.8l2 1.9l1.5 0.1l1-0.5l3-4.4l0.5-0.3l0.5 0.3l3 7.4l2 3.5l3 2.9l4.5 2.6l4.5 1.8l8-1.3l5-1.9l5-3.2l4-3.8l3.5-4.8l3-6.2l3.5-9.7l2-7l3-12.7l3.5-19.2l3-9.4l1-1.3l3.5 0l3.5 1.5l1 0l1.5-1.7l4-7.5l1.5-1l1.5 1.2l4 7.5l1.5 1.5l0.5 0l1-0.7l3-4.3l1-0.1l0.5 0.9l3 12.7l3 19.9l1.5 4.7l3 5.9l9 13.1l6 14.4l4.5 9.9l2 3.3l2.5 2.4l4 2.7l4 1.8l6.5 1.9l6.5 1l9.5 0.8l12.5 0.5l32.7 0.1" stroke="#8f5411"/>
<path d="M403.6 1197.8l32-0.2l17.5-0.5l12-1.2l9.5-2.1l6-2.1l5.5-2.6l6-3.5l5-3.6l2.5-2.4l2-2.8l4-8.9l0.5-0.2l0.5 0.3l3 4l1 0.5l1.5-0.1l2-1.8l2.5-5.1l1-1.3l0.5 0l0.5 0.7l3 6.1l2 1.7l1.5 0.1l1-0.5l3-4.2l0.5-0.2l0.5 0.3l3 6.7l2 3.2l3.5 3l5 2.4l3.5 1.2l8-2l4.5-2.1l5-3.6l4.5-5.1l3.5-5.6l3-7.4l3.5-11.4l2-8.2l3-14.8l3.5-22.6l1-4.5l2-6.5l1-1.6l3.5 0l3.5 1.8l1 0l1.5-2l4-8.9l1-1l0.5-0.1l1.5 1.4l4 8.9l1.5 1.7l0.5 0l1-0.9l3-4.9l0.5-0.3l0.5 0.1l0.5 1l3 14.9l3 23.4l1.5 5.6l3 6.8l9 15.4l6 16.9l4.5 11.6l2 3.9l2.5 2.8l4 3.2l4 2.1l6.5 2.2l6.5 1.2l9.5 1l12.5 0.5l32.7 0.2" stroke="#8f4311"/>
<path d="M402 1202.8l31-0.2l17.5-0.5l12-1.1l10-2l6-2l5.5-2.5l6.5-3.6l5-3.4l2.5-2.3l2-2.6l4-8.3l0.5-0.2l0.5 0.3l2 2.6l1.5 1.2l1 0.2l1.5-0.5l2-2.1l2-4l1-1.3l1 0.6l3 5.4l2 1.6l1.5 0l1-0.6l3-3.8l0.5-0.2l0.5 0.2l3.5 7l2 2.4l4 2.7l6 2.2l1.5 0.5l8-2.9l4-2.3l5-4.2l4.5-5.7l4-7.5l3-8.6l3.5-13.4l2-9.6l3-17.5l3.5-26.5l1-5.3l2-7.6l1-1.8l3.5 0l1 0.3l2.5 1.7l1 0l1.5-2.2l4-10.5l1-1.2l0.5-0.1l1.5 1.7l4 10.3l1.5 2.1l0.5 0l1-1.1l3-5.8l0.5-0.3l0.5 0.1l0.5 1.2l3 17.5l3 27.5l1.5 6.5l3 8l9 18l2 5.9l4 14l4.5 13.6l2 4.5l2.5 3.4l4 3.8l4 2.4l6.5 2.6l6.5 1.4l9.5 1.1l12.5 0.6l32.7 0.2" stroke="#8f3311"/>
<path d="M400.5 1207.9l30.5-0.2l17.5-0.6l12.5-1.1l10-2.1l6-2l5.5-2.4l6.5-3.5l5-3.4l2.5-2.1l2-2.5l4-7.7l1 0l2 2.3l1.5 1l1 0.1l1.5-0.5l2-2l2-3.7l1-1.2l1 0.4l3 4.9l2 1.3l1.5 0l1-0.6l3-3.6l1 0l3.5 6.2l2.5 2.6l4 2.2l7 2.2l8-3.8l3.5-2.4l5.5-5.5l4.5-6.8l4-8.8l3-10.1l3.5-15.7l2-11.3l3-20.5l3.5-31.1l1-6.2l2-9l1-2.1l3.5 0l1 0.3l2.5 2l1 0.1l1.5-2.7l4-12.2l1-1.5l0.5-0.1l1.5 2l4 12.1l1.5 2.4l0.5 0.1l1-1.3l3-6.8l0.5-0.4l0.5 0.2l0.5 1.4l3 20.5l3 32.2l1.5 7.6l3 9.5l9 21.1l2 6.9l4 16.5l4.5 15.9l2 5.3l2.5 3.9l4 4.5l4 2.9l6.5 2.9l6.5 1.7l9.5 1.3l12.5 0.8l32.7 0.2" stroke="#8f2211"/>
<path d="M398.9 1212.9l29.5-0.2l17.5-0.5l13-1.2l10-2l6-1.9l5.5-2.3l6-3l5.5-3.3l4.5-4l4.5-7.5l1-0.1l2 1.9l1.5 0.8l1 0l1.5-0.5l2-1.9l3-4.4l1 0.4l3 3.9l2 1.1l1.5-0.2l1-0.5l3-3.2l1 0l3.5 5.1l2.5 2.2l4 1.7l7 1.8l2.5-1.8l5.5-3.1l3-2.5l5.5-6.4l4.5-7.7l4-9.8l3-11.1l3.5-17.9l2.5-16.2l3-24l3.5-36.5l1-7.3l2-10.5l1-2.5l3.5-0.1l1 0.5l2.5 2.3l1 0l1.5-3.1l4-14.4l1-1.7l0.5-0.1l0.5 0.3l1 2l4 14.3l1.5 2.8l0.5 0.1l1-1.5l3-8l0.5-0.5l0.5 0.2l0.5 1.7l3 24l3 37.8l1.5 9l3 11.1l9 24.8l2 8.1l4 19.3l4.5 18.7l2 6.2l2.5 4.6l4 5.2l4 3.4l6.5 3.5l6.5 1.9l9.5 1.6l12.5 0.9l32.7 0.3" stroke="#8f1c11"/>
<path d="M397.4 1218l42-0.6l12-0.8l10-1.4l6-1.3l6-1.9l5.5-2.2l6-3l5.5-3.2l3.5-2.7l2-2.3l3.5-5.6l1-0.1l3 1.9l2.5-0.2l2-1.4l3.5-4.6l1 0.2l3 3.3l2 0.8l2.5-0.7l3-3l1-0.1l3.5 4.4l2 1.5l4 1.5l7.5 1.7l2.5-2.3l5.5-3.9l3-3l3-3.7l2.5-3.7l4.5-9l4-11.4l3-12.9l3.5-20.7l2.5-18.7l3-27.8l3.5-42.2l1-8.5l2-12.1l1-2.9l3.5-0.1l1 0.5l2.5 2.8l1 0l1.5-3.6l4-16.7l1-1.9l0.5-0.2l0.5 0.4l1 2.3l4 16.5l1.5 3.3l0.5 0l1-1.7l3-9.3l0.5-0.5l0.5 0.2l0.5 1.9l3 27.9l3 43.7l1.5 10.4l3 12.8l9 28.7l2 9.3l4 22.4l4.5 21.6l2 7.2l2.5 5.3l4 6.1l4 3.9l6.5 4.1l6.5 2.2l9.5 1.8l12.5 1l9 0.3l23.7 0" stroke="#8f1711"/>
<path d="M395.8 1223.1l26-0.2l17-0.6l12.5-1l10.5-1.7l11-3.2l11-5l5-2.9l3.5-2.6l2-2l3.5-5l1-0.2l3 1.3l2.5-0.4l2-1.4l3.5-4.1l1 0.1l3 2.4l2 0.4l2-0.4l3.5-3l1-0.1l3.5 3.3l2 1.2l3.5 1l8 1.3l2.5-2.9l5.5-4.9l2.5-3l3-4.3l2.5-4.4l2.5-5.2l2.5-6.5l4-13.6l3-15.4l3.5-24.6l2.5-22.3l3-33.1l3.5-50.3l1-10l2-14.5l1-3.4l3.5-0.1l1 0.6l2.5 3.2l0.5 0.3l0.5-0.3l1.5-4.2l4-19.8l1-2.4l0.5-0.2l0.5 0.5l1 2.7l4 19.7l1.5 3.9l0.5 0l1-2l3-11l0.5-0.8l0.5 0.4l0.5 2.3l3 33.1l3 52l1.5 12.4l3 15.3l9 34.1l2 11.2l4 26.6l4.5 25.7l2 8.6l2.5 6.3l4 7.2l4 4.7l3.5 2.9l3 1.9l3 1.5l3.5 1.1l9.5 2.2l12.5 1.2l9 0.4l23.7 0" stroke="#8f1111"/>
</g>
<g fill="none" stroke-width="1.6" stroke-linejoin="round">
<path d="M93.9 1370.4l64-0.2l12.5-0.7l9 0.1l20-0.9l7 0.5l7-0.1l7 0.3l7.5 0l13.5 1l58.5-0.2l13.5-0.7l9 0.2l19-0.8l7.5 0.5l7.5-0.3l7.5 0.5l7.5-0.2l12 1l37.6 0" stroke="#8f1126"/>
<path d="M92.4 1375.3l64-0.2l12.5-0.8l9 0.1l20-1l7 0.6l7-0.2l7 0.4l7.5 0l8 0.9l5.5 0.2l58.5-0.2l13.5-0.8l9 0.3l19-0.9l7.5 0.6l7.5-0.4l7.5 0.5l7.5-0.2l12 1.1l37.6 0" stroke="#8f1143"/>
<path d="M90.9 1380.2l64-0.2l12.5-0.9l9 0.1l20-1l7 0.6l7-0.2l7 0.4l7.5 0l8 0.9l5.5 0.3l58.5-0.2l13.5-0.9l9 0.3l19-1l7.5 0.6l7.5-0.3l7.5 0.5l7.5-0.2l12 1.2l37.6 0" stroke="#8f1161"/>
<path d="M89.4 1385.1l64-0.2l12.5-1l9 0.1l20-1.2l7 0.8l7-0.3l7 0.5l7.5 0l8 1l5.5 0.3l58.5-0.2l13.5-1l9 0.3l19-1.1l7.5 0.7l7.5-0.4l7.5 0.6l7.5-0.2l12 1.3l37.6 0" stroke="#8f1176"/>
<path d="M87.9 1390l64-0.3l12.5-1l9 0.1l20-1.3l7 0.8l7-0.3l7 0.6l7.5-0.1l8 1.2l5.5 0.3l58.5-0.3l13.5-1l9 0.3l19-1.2l7.5 0.8l7.5-0.4l7.5 0.6l7.5-0.2l12 1.3l37.6 0.1" stroke="#8f118b"/>
<path d="M86.4 1394.9l64-0.3l12.5-1.2l9 0.2l20-1.4l7 0.8l7-0.3l7 0.6l7.5 0l8 1.3l5.5 0.3l58.5-0.3l13.5-1.1l9 0.3l19-1.3l7.5 0.9l7.5-0.5l7.5 0.7l7.5-0.3l12 1.5l37.6 0.1" stroke="#89118f"/>
<path d="M84.9 1399.8l64-0.3l12.5-1.3l9 0.2l6.5-0.7l6.5-0.1l7-0.8l7 0.9l7-0.3l7 0.7l7.5-0.1l8 1.4l5.5 0.3l58.5-0.2l5.5-0.3l8-1l9 0.4l7-0.8l12-0.6l7.5 0.9l7.5-0.5l7.5 0.8l7.5-0.3l8 1.3l4 0.3l37.6 0.1" stroke="#7e118f"/>
<path d="M83.4 1404.7l64-0.3l5-0.4l7.5-1.1l9 0.2l6.5-0.8l6.5-0.1l7-0.8l7 1l7-0.4l7 0.8l7.5-0.1l8 1.6l5.5 0.3l58.5-0.2l5.5-0.4l8-1l9 0.4l7-0.9l12-0.7l7.5 1l7.5-0.6l7.5 0.9l7.5-0.3l8 1.5l4 0.3l37.6 0.1" stroke="#74118f"/>
<path d="M81.9 1409.6l64-0.4l5-0.4l7.5-1.2l9 0.2l6.5-0.8l6.5-0.1l7-1l7 1.2l7-0.5l7 0.9l7.5-0.1l8 1.7l5.5 0.4l58.5-0.3l5.5-0.3l8-1.2l9 0.4l7-0.9l12-0.8l7.5 1.1l7.5-0.6l7.5 0.9l7.5-0.3l8 1.6l4 0.4l37.6 0.1" stroke="#68118f"/>
<path d="M80.4 1414.5l64-0.4l5-0.4l7.5-1.4l9 0.3l6.5-1l6.5-0.1l7-1.1l7 1.3l7-0.5l7 1l7.5-0.1l8 1.9l5.5 0.4l58.5-0.3l5.5-0.4l8-1.3l9 0.5l7-1l12-0.9l7.5 1.2l7.5-0.7l7.5 1.1l7.5-0.4l8 1.8l4 0.4l37.6 0.1" stroke="#5c118f"/>
<path d="M78.9 1419.3l64-0.4l5-0.4l7.5-1.5l9 0.3l6.5-1.1l6.5-0.1l7-1.2l7 1.4l7-0.5l7 1l7.5-0.1l8 2.1l5.5 0.5l58.5-0.4l5.5-0.4l8-1.4l9 0.5l7-1.1l12-0.9l7.5 1.3l7.5-0.8l7.5 1.2l7.5-0.4l8 2l4 0.4l37.6 0.1" stroke="#50118f"/>
<path d="M77.4 1424.2l64-0.4l5-0.5l7.5-1.7l9 0.3l6.5-1.1l6.5-0.2l7-1.2l7 1.5l7-0.6l7 1.2l7.5-0.1l8 2.3l5.5 0.5l58.5-0.4l5.5-0.5l8-1.5l9 0.6l7-1.3l12-1l7.5 1.5l7.5-0.9l7.5 1.3l7.5-0.5l8 2.2l4 0.5l37.6 0.1" stroke="#43118f"/>
<path d="M75.9 1429.1l45-0.1l19-0.4l5-0.5l7.5-1.8l9 0.3l6.5-1.2l6.5-0.2l7-1.4l7 1.7l7-0.7l7 1.3l7.5-0.1l8 2.5l5.5 0.6l39.5-0.1l19-0.4l5.5-0.5l8-1.7l9 0.7l7-1.4l5.5-0.3l6.5-0.8l7.5 1.6l7.5-1l7.5 1.4l7.5-0.4l8 2.3l4 0.6l37.6 0.1" stroke="#37118f"/>
<path d="M74.4 1434l45-0.1l19-0.4l5-0.6l7.5-2l9 0.3l6.5-1.3l6.5-0.3l5-1.3l2-0.2l7 1.9l7-0.7l7 1.4l7.5-0.2l8 2.9l5.5 0.6l39.5-0.1l19-0.4l5.5-0.6l8-1.9l9 0.7l7-1.4l5.5-0.3l6.5-1l7.5 1.8l7.5-1.1l7.5 1.6l7.5-0.6l2.5 0.6l5.5 2.1l4 0.6l37.6 0.1" stroke="#2a118f"/>
<path d="M72.9 1438.9l45-0.1l19-0.5l5-0.7l7.5-2.2l2.5-0.1l6.5 0.5l6.5-1.5l6.5-0.2l5-1.5l2-0.2l7 2.1l7-0.8l7 1.5l7.5-0.1l8 3.1l5.5 0.7l39.5-0.1l19-0.5l5.5-0.6l8-2.1l2.5 0l6.5 0.8l7-1.6l5.5-0.4l6.5-1l2 0.3l5.5 1.6l7.5-1.1l7.5 1.7l7.5-0.6l2.5 0.7l5.5 2.2l4 0.7l37.6 0.1" stroke="#1e118f"/>
<path d="M71.4 1443.8l45-0.2l19-0.5l5-0.7l7.5-2.4l2.5-0.2l6.5 0.6l6.5-1.7l6.5-0.2l5-1.6l2-0.3l2 0.4l5 1.9l2 0l5-0.9l7 1.7l7.5-0.1l8 3.4l5.5 0.8l39.5-0.1l19-0.5l5.5-0.7l8-2.3l2.5 0l6.5 0.9l7-1.8l5.5-0.4l6.5-1.2l2 0.3l5.5 1.9l2-0.1l5.5-1.2l7.5 1.9l7.5-0.7l2.5 0.8l5.5 2.4l4 0.7l37.6 0.2" stroke="#13118f"/>
<path d="M69.9 1448.7l45-0.2l19-0.5l5-0.9l7.5-2.6l2.5-0.2l4.5 0.7l2 0l6.5-1.9l6.5-0.3l5-1.8l2-0.2l2 0.4l5 2.1l2 0l5-1l2 0.3l5 1.6l7.5-0.2l2 0.7l6 3.1l2.5 0.6l3 0.3l39.5-0.2l19-0.5l5.5-0.8l8-2.5l2.5 0l4.5 0.9l2 0.1l7-2l5.5-0.4l6.5-1.3l2 0.4l5.5 2l2-0.1l5.5-1.3l2 0.3l5.5 1.7l7.5-0.7l2.5 0.8l5.5 2.7l4 0.8l37.6 0.2" stroke="#111c8f"/>
<path d="M68.4 1453.6l45-0.2l19-0.6l5-0.9l7.5-3l2.5-0.1l4.5 0.7l2 0l6.5-2.1l6.5-0.3l5-2l2-0.3l2 0.5l5 2.3l2 0l5-1l2 0.3l5 1.7l5.5-0.3l2 0.1l2 0.8l6 3.4l2.5 0.7l3 0.3l39.5-0.2l19-0.6l5.5-0.8l8-2.8l2.5 0l4.5 1l2 0.1l7-2.2l5.5-0.5l6.5-1.4l2 0.4l5.5 2.2l2-0.1l3.5-1.1l2-0.3l2 0.3l5.5 2l5.5-0.8l2 0l2.5 0.9l5.5 2.9l4 0.9l37.6 0.2" stroke="#11258f"/>
<path d="M66.9 1458.5l45-0.2l19-0.7l5-1l7.5-3.3l2.5-0.1l4.5 0.8l2 0l6.5-2.3l6.5-0.3l5-2.2l2-0.4l2 0.6l5 2.5l2 0l5-1.2l2 0.4l5 1.9l5.5-0.4l2 0.2l2 0.8l6 3.8l2.5 0.7l3 0.3l39.5-0.1l19-0.7l5.5-0.9l8-3l2.5 0l4.5 1l2 0.1l7-2.4l5.5-0.5l6.5-1.5l2 0.4l4 2l1.5 0.5l2-0.2l3.5-1.2l2-0.3l2 0.3l5.5 2.1l2 0l3.5-0.8l2 0l2.5 0.9l5.5 3.3l4 1l37.6 0.2" stroke="#112e8f"/>
<path d="M65.4 1463.4l45-0.3l19-0.7l5-1.1l7.5-3.6l2.5-0.2l4.5 0.9l2 0l6.5-2.5l6.5-0.4l5-2.4l2-0.4l2 0.6l3.5 2.2l1.5 0.6l2 0l5-1.3l2 0.5l5 2.1l2 0l3.5-0.5l2 0.2l2 0.9l6 4.2l2.5 0.8l3 0.3l39.5-0.1l19-0.8l5.5-1l8-3.3l2.5 0l4.5 1.1l2 0.1l7-2.6l5.5-0.5l4.5-1.5l2-0.2l2 0.4l4 2.2l1.5 0.5l2-0.1l3.5-1.4l2-0.3l2 0.4l3.5 1.7l2 0.6l2-0.1l3.5-0.9l2 0.1l2.5 1l5.5 3.6l4 1.1l37.6 0.2" stroke="#11378f"/>
<path d="M63.9 1468.3l45-0.3l19-0.8l5-1.2l7.5-4l2.5-0.2l4.5 1l2 0l6.5-2.8l6.5-0.4l5-2.7l2-0.4l2 0.7l3.5 2.4l1.5 0.7l2-0.1l3.5-1.2l1.5-0.1l2 0.4l5 2.3l2 0.1l3.5-0.6l2 0.3l2 1l6 4.5l2.5 1l3 0.3l39.5-0.2l19-0.8l5.5-1.1l6-3l2-0.7l2.5 0l4.5 1.3l2 0.1l2-0.6l5-2.3l5.5-0.6l4.5-1.5l2-0.4l2 0.6l4 2.4l1.5 0.5l2-0.1l3.5-1.5l2-0.4l2 0.4l3.5 1.9l2 0.7l2-0.1l3.5-1l2 0.1l2.5 1.1l5.5 4l4 1.2l37.6 0.2" stroke="#11438f"/>
<path d="M62.4 1473.2l45-0.3l19-0.9l5-1.4l7.5-4.3l2.5-0.3l4.5 1.1l2 0l6.5-3l6.5-0.5l5-2.9l2-0.5l2 0.8l3.5 2.6l1.5 0.7l2 0l3.5-1.3l1.5-0.2l2 0.5l5 2.5l2 0.1l3.5-0.6l2 0.2l2 1.2l6 5l2.5 1l3 0.4l39.5-0.2l19-0.9l5.5-1.2l6-3.3l2-0.8l2.5 0l4.5 1.5l2 0.1l2-0.7l5-2.5l5.5-0.7l4.5-1.7l2-0.3l2 0.5l4 2.7l1.5 0.6l2-0.2l3.5-1.6l2-0.5l2 0.5l3.5 2.1l2 0.7l2-0.1l3.5-1l2 0l2.5 1.3l5.5 4.3l4 1.3l37.6 0.3" stroke="#114f8f"/>
<path d="M60.9 1478l45-0.3l19-1l2.5-0.5l2.5-1l5.5-3.8l2-1l2.5-0.2l4.5 1.2l2-0.1l6.5-3.3l6.5-0.5l5-3.2l2-0.5l2 0.8l3.5 2.9l1.5 0.8l2 0l3.5-1.5l1.5-0.2l2 0.6l5 2.8l2 0.1l3.5-0.8l2 0.3l2 1.3l6 5.5l2.5 1.1l3 0.5l39.5-0.2l19-1l5.5-1.4l6-3.6l2-0.8l2.5 0l4.5 1.5l2 0.2l2-0.8l5-2.7l5.5-0.8l4.5-1.9l2-0.3l2 0.6l4 2.9l1.5 0.7l2-0.2l3.5-1.8l2-0.5l2 0.5l3.5 2.3l2 0.8l2-0.1l3.5-1.1l2 0l2.5 1.4l5.5 4.8l2 1l2 0.4l37.6 0.3" stroke="#115a8f"/>
<path d="M59.4 1482.9l45-0.3l11.5-0.5l7.5-0.6l2.5-0.6l2.5-1.1l5.5-4.2l2-1.1l2.5-0.2l4.5 1.3l2-0.1l6.5-3.6l6.5-0.6l5-3.6l2-0.5l2 0.9l3.5 3.2l1.5 0.9l2-0.1l3.5-1.5l1.5-0.3l2 0.6l5 3.1l2 0.1l3.5-0.8l2 0.4l2 1.3l6 6.1l2.5 1.3l3 0.5l39.5-0.3l11-0.4l8-0.7l3-0.5l2.5-0.9l6-4l2-0.9l2.5 0l4.5 1.7l2 0.1l2-0.8l5-3l5.5-0.9l4.5-2l2-0.4l2 0.6l4 3.3l1.5 0.7l2-0.2l3.5-2l2-0.5l2 0.6l3.5 2.5l2 0.9l2-0.2l3.5-1.2l2 0l2.5 1.5l5.5 5.3l2 1.1l2 0.5l5 0.2l32.6 0.1" stroke="#116a8f"/>
<path d="M57.9 1487.8l45-0.4l11.5-0.5l7.5-0.7l2.5-0.6l2.5-1.2l5.5-4.6l2-1.2l2.5-0.3l4.5 1.4l2 0l6.5-4.1l1.5-0.3l3.5 0.1l1.5-0.4l5-3.9l2-0.6l2 1l3.5 3.5l1.5 1l2-0.1l3.5-1.7l1.5-0.3l2 0.7l3.5 2.6l1.5 0.8l2 0.1l3.5-0.9l2 0.4l2 1.5l6 6.7l2.5 1.4l3 0.5l39.5-0.2l11-0.5l8-0.7l3-0.6l2.5-1l6-4.4l2-1l2.5 0l4.5 1.9l2 0.1l2-0.9l5-3.3l5.5-0.9l4.5-2.3l2-0.5l2 0.8l4 3.6l1.5 0.7l2-0.2l3.5-2.2l2-0.6l2 0.7l3.5 2.8l2 0.9l2-0.1l3.5-1.4l2 0l2.5 1.7l5.5 5.8l2 1.2l2 0.6l5 0.2l32.6 0.1" stroke="#11798f"/>
<path d="M56.5 1492.7l45-0.5l11.5-0.5l7.5-0.8l2.5-0.7l2.5-1.3l5.5-5.1l2-1.3l2.5-0.3l4.5 1.6l2-0.1l6.5-4.5l1.5-0.3l3.5 0.1l1.5-0.4l5-4.4l2-0.6l2 1.1l3.5 3.9l1.5 1l2 0l3.5-1.9l1.5-0.3l2 0.7l3.5 3l1.5 0.8l2 0.1l3.5-1l2 0.4l2 1.7l6 7.4l2.5 1.5l3 0.6l39.5-0.3l11-0.5l8-0.8l3-0.7l2.5-1.1l6-4.8l2-1.1l2.5 0l4.5 2.1l2 0.1l2-0.9l5-3.7l5.5-1l4.5-2.5l2-0.5l2 0.8l4 3.9l1.5 0.9l2-0.3l3.5-2.4l2-0.6l2 0.7l3.5 3.1l2 1l2-0.2l3.5-1.5l2 0.1l2.5 1.8l5.5 6.4l2 1.3l2 0.6l5 0.3l32.6 0" stroke="#11898f"/>
<path d="M55 1497.6l45-0.5l11.5-0.6l7.5-0.9l2.5-0.7l2.5-1.5l5.5-5.6l2-1.5l2.5-0.3l4.5 1.8l2-0.1l1.5-0.9l5-4.1l1.5-0.3l3.5 0.1l1.5-0.5l1.5-1.1l3.5-3.7l2-0.7l2 1.2l3.5 4.4l1.5 1.1l2-0.1l3.5-2.1l1.5-0.3l2 0.8l3.5 3.2l1.5 1l2 0.1l3.5-1.1l2 0.5l2 1.8l4 5.8l2 2.4l2.5 1.6l3 0.7l39.5-0.3l11-0.6l8-0.9l3-0.7l2.5-1.2l6-5.4l2-1.2l2.5 0l4.5 2.3l2 0.2l2-1l5-4.1l5.5-1.1l4.5-2.8l2-0.5l2 0.9l4 4.3l1.5 0.9l2-0.2l3.5-2.7l2-0.7l2 0.8l3.5 3.4l2 1.1l2-0.2l3.5-1.6l2 0l2.5 2.1l5.5 7l2 1.4l2 0.7l5 0.3l32.6 0" stroke="#118f84"/>
<path d="M53.5 1502.5l45-0.6l11.5-0.6l7.5-1l2.5-0.8l2.5-1.6l5.5-6.2l2-1.6l1-0.4l1.5 0l4.5 2l2-0.2l1.5-0.9l3.5-3.5l1.5-1l1.5-0.4l3.5 0.1l1.5-0.5l1.5-1.2l3.5-4.1l1-0.6l1-0.2l2 1.4l3.5 4.8l1.5 1.2l1 0.2l1-0.3l3.5-2.3l1.5-0.4l2 0.9l3.5 3.6l1.5 1l2 0.2l3.5-1.2l2 0.5l2 2l4 6.4l2 2.6l2.5 1.8l3 0.8l39.5-0.4l11-0.6l8-1l3-0.8l2.5-1.3l6-5.9l2-1.3l1-0.2l1.5 0.2l4.5 2.5l2 0.2l2-1.2l5-4.4l5.5-1.3l4.5-3l2-0.6l2 1l4 4.8l1.5 1l1 0.1l1-0.4l3.5-3l2-0.7l2 0.9l3.5 3.7l2 1.2l2-0.2l3.5-1.8l2 0.1l2.5 2.2l5.5 7.8l2 1.5l2 0.8l5 0.3l32.6 0" stroke="#118f72"/>
<path d="M52 1507.4l45-0.7l11.5-0.7l7.5-1l2.5-0.9l2.5-1.8l5.5-6.8l2-1.8l1-0.5l1.5 0l4.5 2.2l2-0.1l1.5-1l3.5-3.8l1.5-1.2l1.5-0.5l3.5 0.2l1.5-0.6l1.5-1.4l3.5-4.4l1-0.7l1-0.2l1 0.5l1 1l3.5 5.3l1.5 1.3l1 0.3l1-0.3l3.5-2.6l1.5-0.4l2 1l3.5 3.9l1.5 1.1l2 0.2l3.5-1.3l2 0.6l2 2.2l4 7.1l2 2.8l2.5 2l3 0.8l39.5-0.4l11-0.6l8-1.1l3-0.9l2.5-1.5l6-6.4l2-1.5l1-0.2l1.5 0.2l4.5 2.8l2 0.2l2-1.3l3.5-3.7l1.5-1.2l1.5-0.6l4-0.7l4.5-3.4l2-0.6l2 1l4 5.3l1.5 1.1l1 0.1l1-0.4l3.5-3.2l2-0.9l2 1l3.5 4.1l2 1.4l2-0.2l3.5-2.1l2 0.1l2.5 2.5l5.5 8.5l2 1.7l2 0.8l5 0.4l32.6 0" stroke="#118f61"/>
<path d="M50.5 1512.2l45-0.6l11.5-0.8l7.5-1.2l2.5-1l2.5-1.9l5.5-7.6l2-2l1-0.4l1.5 0l4.5 2.4l2-0.2l1.5-1.1l3.5-4.2l1.5-1.3l1.5-0.5l3.5 0.2l1.5-0.6l1.5-1.6l3.5-4.9l1-0.8l1-0.1l1 0.5l1 1.1l3.5 5.8l1.5 1.5l1 0.3l1-0.3l3.5-2.9l1.5-0.4l2 1.1l3.5 4.3l1.5 1.2l2 0.2l3.5-1.4l2 0.6l2 2.5l4 7.8l2 3.1l2.5 2.2l3 0.9l17.5 0l22-0.4l11-0.7l8-1.3l3-0.9l2.5-1.6l6-7.2l2-1.6l1-0.2l1.5 0.2l4.5 3.1l2 0.2l2-1.4l3.5-4.1l1.5-1.3l1.5-0.6l4-0.9l4.5-3.6l2-0.8l2 1.2l4 5.8l1.5 1.2l1 0.1l1-0.4l3.5-3.6l2-0.9l2 1.1l3.5 4.4l2 1.6l2-0.3l3.5-2.2l1-0.2l1 0.3l1 0.7l1.5 2l5.5 9.4l2 1.9l2 0.9l5 0.4l32.6 0" stroke="#118f4f"/>
<path d="M49 1517.1l45-0.7l11.5-0.9l7.5-1.3l2.5-1.1l2.5-2.1l5.5-8.3l2-2.2l1-0.5l1.5 0l4.5 2.6l2-0.1l1.5-1.3l3.5-4.6l1.5-1.4l1.5-0.6l3.5 0.2l1.5-0.7l1.5-1.7l3.5-5.4l1-0.9l1-0.1l1 0.5l1 1.2l3.5 6.5l1.5 1.6l1 0.3l1-0.4l3.5-3.1l1.5-0.5l2 1.2l3.5 4.8l1.5 1.4l1 0.3l1-0.1l3.5-1.6l1 0.1l1 0.6l2 2.7l4 8.6l2 3.5l2.5 2.4l3 0.9l17.5 0.1l22-0.5l11-0.8l8-1.3l3-1.1l2.5-1.8l6-7.8l2-1.8l1-0.3l1.5 0.3l4.5 3.4l2 0.2l2-1.5l3.5-4.5l1.5-1.4l1.5-0.8l4-0.9l4.5-4l2-0.8l1 0.3l1 1l4 6.4l1.5 1.3l1 0.1l1-0.5l3.5-3.9l1-0.8l1-0.2l1 0.3l1 0.9l3.5 4.9l2 1.7l1 0.1l1-0.4l3.5-2.4l1-0.2l1 0.3l1 0.8l1.5 2.1l5.5 10.4l2 2l2 1l5 0.5l32.6 0" stroke="#118f3c"/>
<path d="M47.5 1522l45-0.8l11.5-1l7.5-1.4l2.5-1.2l2.5-2.4l5.5-9.1l2-2.5l1-0.5l1.5 0l4.5 2.9l1 0.2l1-0.4l1.5-1.4l3.5-5.1l1.5-1.5l1.5-0.6l3.5 0.2l1.5-0.8l1.5-1.8l3.5-6l1-1l1-0.2l1 0.6l1 1.4l3.5 7.1l1.5 1.8l1 0.3l1-0.4l3.5-3.4l1.5-0.6l1 0.4l1 1l3.5 5.2l1.5 1.5l1 0.4l1-0.1l3.5-1.8l1 0.1l1 0.7l2 3l4 9.4l2 3.9l2.5 2.7l3 1l17.5 0.1l22-0.6l11-0.9l8-1.4l3-1.2l2.5-2l2-2.5l4-6.1l2-1.9l1-0.4l1.5 0.4l4.5 3.7l1 0.3l1-0.1l2-1.6l3.5-5l1.5-1.6l1.5-0.8l4-1l1.5-1.1l3-3.3l1-0.7l1-0.2l1 0.4l1 1l4 7.1l1.5 1.4l1 0.1l1-0.5l3.5-4.3l1-0.8l1-0.3l1 0.3l1 1l3.5 5.4l2 1.9l1 0.1l1-0.4l3.5-2.7l1-0.3l1 0.4l1 0.9l1.5 2.3l5.5 11.4l2 2.3l2 1.1l5 0.5l32.6 0" stroke="#118f2a"/>
<path d="M46 1526.9l28-0.4l17-0.6l11.5-1l7.5-1.6l2.5-1.3l2.5-2.6l5.5-10.1l2-2.7l1-0.6l1.5 0l4.5 3.2l1 0.2l1-0.4l1.5-1.5l3.5-5.6l1.5-1.7l1.5-0.7l3.5 0.2l1.5-0.8l1.5-2.1l3.5-6.5l1-1.1l1-0.2l1 0.7l1 1.4l3.5 7.9l1.5 2l1 0.3l1-0.4l3.5-3.8l1.5-0.6l1 0.4l1 1l3.5 5.9l1.5 1.6l1 0.4l1-0.1l3.5-2l1 0.1l1 0.7l2 3.4l4 10.4l2 4.2l2.5 3l3 1.2l17.5 0l22-0.6l11-0.9l8-1.7l3-1.3l2.5-2.1l2-2.7l4-6.8l2-2.1l1-0.4l1.5 0.4l4.5 4l1 0.4l1-0.1l2-1.8l3.5-5.5l1.5-1.7l1.5-0.9l4-1.1l1.5-1.3l3-3.6l1-0.8l1-0.2l1 0.5l1 1.1l4 7.8l1.5 1.6l1 0.1l1-0.6l3.5-4.7l1-0.9l1-0.3l1 0.3l1 1.1l3.5 5.9l2 2.1l1 0.1l1-0.4l3.5-3l1-0.3l1 0.4l1 1l1.5 2.6l5.5 12.5l2 2.5l2 1.2l5 0.6l32.6 0" stroke="#118f20"/>
<path d="M44.5 1531.7l28-0.3l17-0.7l11.5-1.1l7.5-1.8l2.5-1.4l2.5-2.9l5.5-11.1l2-3l1-0.7l1.5 0l4.5 3.6l1 0.2l1-0.4l1.5-1.7l3.5-6.2l1.5-1.9l1.5-0.7l3.5 0.2l1.5-0.9l1.5-2.3l3.5-7.2l1-1.2l1-0.2l1 0.7l1 1.7l3.5 8.6l1.5 2.2l1 0.4l1-0.5l3.5-4.2l1.5-0.7l1 0.5l1 1.1l3.5 6.5l1.5 1.8l1 0.4l1-0.2l3.5-2.1l1 0.2l1 0.7l2 3.7l4 11.5l2 4.7l2.5 3.2l3 1.3l17.5 0.1l22-0.7l11-1l8-1.8l3-1.5l2.5-2.3l2-3l4-7.5l2-2.3l1-0.4l1.5 0.4l4.5 4.5l1 0.4l1-0.1l2-2l3.5-6.1l1.5-1.8l1.5-1l4-1.2l1.5-1.4l3-4l1-0.9l1-0.2l1 0.5l1 1.3l4 8.5l1.5 1.7l1 0.2l1-0.7l3.5-5.2l1-1l1-0.3l1 0.4l1 1.1l3.5 6.6l2 2.2l1 0.2l1-0.5l3.5-3.3l1-0.2l1 0.3l1 1.1l1.5 2.9l5.5 13.8l2 2.7l2 1.3l2 0.5l3 0.2l32.6 0" stroke="#118f17"/>
<path d="M43 1536.6l28-0.4l17-0.7l11.5-1.3l4.5-0.9l3-1l2.5-1.6l2.5-3.2l5.5-12.3l2-3.2l1-0.7l1.5 0l4.5 3.9l1 0.2l1-0.5l1.5-1.8l3.5-6.9l1.5-2l1.5-0.9l3.5 0.3l1.5-1l1.5-2.5l3.5-8l1-1.3l1-0.2l1 0.8l1 1.8l3.5 9.5l1.5 2.4l1 0.4l1-0.5l3.5-4.6l1.5-0.7l1 0.5l1 1.2l3.5 7.1l1.5 2l1 0.5l1-0.2l3.5-2.3l1 0.1l1 0.9l2 4l4 12.7l2 5.1l2.5 3.6l1.5 1l1.5 0.5l4 0.2l13.5-0.2l22-0.7l11-1.2l8-1.9l3-1.6l2.5-2.6l2-3.3l4-8.2l2-2.5l1-0.5l1.5 0.4l4.5 5l1 0.4l1-0.1l2-2.2l3.5-6.7l1.5-2l1.5-1.1l4-1.3l1.5-1.6l3-4.3l1-1l1-0.3l1 0.6l1 1.4l4 9.3l1.5 2l1 0.2l1-0.8l3.5-5.7l1-1.1l1-0.4l1 0.5l1 1.2l3.5 7.2l2 2.5l1 0.2l1-0.5l3.5-3.7l1-0.2l1 0.4l1 1.2l1.5 3.1l5.5 15.2l2 3l2 1.5l2 0.5l3 0.2l32.6 0" stroke="#158f11"/>
<path d="M41.5 1541.5l28-0.5l17-0.8l11.5-1.3l4.5-1.1l3-1.1l2.5-1.8l2.5-3.5l5.5-13.5l2-3.5l1-0.9l1.5 0l4.5 4.3l1 0.3l1-0.5l1.5-2.1l3.5-7.5l1.5-2.3l1.5-0.9l3.5 0.3l1.5-1.1l1.5-2.8l3.5-8.8l1-1.4l1-0.3l1 0.9l1 2l3.5 10.5l1.5 2.7l1 0.4l1-0.5l3.5-5.2l1.5-0.8l1 0.6l1 1.4l3.5 7.8l1.5 2.2l1 0.6l1-0.3l3.5-2.5l1 0.1l1 1l2 4.4l4 14l2 5.7l2.5 3.9l1.5 1.1l1.5 0.5l4 0.3l13.5-0.2l22-0.8l11-1.3l8-2.2l3-1.7l2.5-2.9l2-3.6l4-9l2-2.8l1-0.5l1.5 0.4l4.5 5.5l1 0.5l1-0.1l2-2.5l3.5-7.3l1.5-2.3l1.5-1.2l3-0.8l1-0.6l1.5-1.7l3-4.8l1-1.1l1-0.2l1 0.6l1 1.5l4 10.3l1.5 2.1l1 0.2l1-0.8l3.5-6.3l1-1.2l1-0.4l1 0.5l1 1.4l3.5 7.9l1 1.7l1 1l1 0.2l1-0.6l3.5-4l1-0.3l1 0.5l1 1.3l1.5 3.5l5.5 16.7l2 3.3l2 1.6l2 0.6l3 0.2l32.6 0" stroke="#2a8f11"/>
<path d="M40 1546.3l27.5-0.5l17-0.8l12-1.5l4.5-1.2l3-1.2l2.5-1.9l2.5-3.6l2-4.8l3.5-10.9l2-3.9l1.5-1.1l1 0.1l1.5 1.4l3 4.5l1 0.4l1-0.5l1.5-2.4l3-8.5l1.5-2.9l1-1l1.5-0.6l1 0.1l2.5 1.3l1-0.5l0.5-0.8l1-2.4l3-10.8l1-1.9l1-0.7l1.5 0.7l1 2l3.5 13.8l1.5 3.4l0.5 0.3l1-0.4l3.5-7.3l1-1.1l1-0.2l1 0.5l1 1.3l3.5 10.3l1.5 2.8l1 0.4l1-0.6l3-4l1-0.2l1 0.7l1.5 2.7l1 2.8l4 16.7l2 6.1l2 3.5l1.5 1.4l1.5 0.6l3.5 0.4l11-0.1l25-0.9l11.5-1.5l4.5-1.1l3.5-1.2l3.5-2.4l2.5-3.3l2-4.2l3.5-9.6l1.5-2.6l1.5-0.9l1.5 0.4l1.5 1.8l3 5.2l1 0.7l1-0.1l1-1l1-1.9l3-8.1l1.5-2.8l2.5-2l1-0.3l2 0.1l1-0.4l1-1.5l3-6.9l1.5-1.3l1.5 0.6l1.5 2.5l3.5 12.1l1.5 2.7l0.5 0.2l1-0.6l4-9.3l1-1.2l1-0.3l1 0.5l1 1.3l3.5 10.2l1 2.2l1 1.1l1 0.1l1-0.9l2.5-4.6l1-1.2l1-0.2l1 0.7l1.5 2.4l1 2.7l3.5 13.6l1.5 4.6l2 4l2 2l2 0.8l3 0.3l33.1 0" stroke="#3f8f11"/>
<path d="M38.5 1551.2l27.5-0.5l17-1l12-1.7l4.5-1.2l3-1.3l3-2.6l2.5-4.3l2-5.7l3-11.4l1-2.7l1-1.5l1.5-1.2l1-0.1l0.5 0.3l1 1.4l2.5 5.4l1 1.1l1 0.1l1-1l1-2.2l3-10.8l1.5-3.1l1.5-1.2l1.5-0.5l1 0.5l2 2.4l1 0l1.5-3.7l3-14.2l1-2.1l1-0.5l1.5 0.6l1 2l3.5 17.7l1.5 4.2l0.5 0.3l1-1l3.5-10.1l1-0.9l1-0.1l1.5 0.8l1 2l3 11.8l1.5 3.5l0.5 0.4l1-0.4l3.5-6.7l1-0.1l1 1l1.5 2.8l1 3l3.5 17.7l2 7.5l1 2.4l1.5 2.5l1.5 1.3l1.5 0.7l3.5 0.4l12-0.2l24-1l11.5-1.5l4.5-1.2l3.5-1.4l3.5-2.5l2.5-3.5l2-4.6l3.5-11.4l1.5-2.9l1-0.7l1-0.1l1.5 0.7l4 8.4l1 0.9l1 0l1-1.2l1-2.2l3-10.2l1-2.3l1-1.2l2.5-1.7l1 0l1.5 1l1 0l1-1.7l3-9.5l0.5-0.8l1-0.4l2 1.1l1 2l3.5 15.3l1.5 3.4l0.5 0.2l1-0.9l3.5-11.3l1-1.7l1-0.6l1.5 0.3l1 1.3l1 2.7l3 11.7l1.5 2.5l1 0l1-1.4l3-7.2l1-0.8l1.5 0.9l1.5 2.5l1 3l3 14.2l2 7.2l2 4.1l2 2l2 0.8l3 0.3l33.1 0" stroke="#548f11"/>
<path d="M37 1556l28-0.6l17.5-1l11.5-1.9l4.5-1.5l3-1.5l3-3.1l2.5-5.1l1.5-5l3-13.7l1-2.9l1-1.6l2-1.5l1 0.3l1 1.6l2.5 7.2l1 1.5l1 0.2l1-1.1l1-2.6l3-13.5l1.5-3.4l2.5-1.5l1 0l3 5.2l0.5 0l0.5-0.7l1-3.6l3-18.4l0.5-1.4l1-1l2 0.5l1 1.8l1 4.8l2.5 17.5l1.5 5.1l0.5 0.2l1-1.5l3-12.2l0.5-1.2l1-0.8l1.5 0.1l1 0.5l1 2.1l3 15l1.5 4.2l0.5 0.4l1-0.6l3.5-9.4l0.5-0.3l0.5 0.2l1 1.3l1.5 3.1l1 3.2l3.5 20.9l2 8.4l1 2.5l1.5 2.5l1.5 1.3l1.5 0.7l4 0.3l13.5-0.2l22.5-1.1l11.5-1.8l4.5-1.3l3.5-1.6l3.5-3l2.5-4.1l2-5.5l3-12l1-2.5l1-1.1l2-0.3l1 0.6l1 1.9l3 8.6l1 1.2l1 0l0.5-0.5l1.5-3.4l2.5-10.8l1.5-4.4l3.5-2.9l1 0.3l2 2.4l0.5 0l0.5-0.6l1-3.1l2-9.3l0.5-1.4l1-1.1l2.5 1l1 1.9l3.5 19.3l1.5 4l0.5 0.2l1-1.2l3.5-14.6l0.5-1.2l1-1l2 0.2l1 1.1l1 3.2l3 14.7l1.5 3l1-0.2l1-1.9l3-9.5l1-0.8l1.5 1.2l1.5 2.6l1 3.3l3 16.9l1.5 6.4l2 5l2 2.4l2 1.1l3 0.4l33.6 0" stroke="#698f11"/>
<path d="M35.5 1560.9l28-0.7l17-1.1l6.5-0.9l5.5-1.2l4.5-1.6l3-1.7l3-3.2l2.5-5.3l1.5-5.6l3-16.2l1.5-4.3l2.5-2.3l1 0.1l1 2l2.5 9.1l1 2l1 0.4l1-1.3l1-3.1l3-16.5l0.5-1.9l1-1.9l2.5-1.4l1 0l1 1.9l2 5.9l0.5 0.3l0.5-0.6l1-4.4l2.5-20.4l1-4.3l0.5-0.7l0.5-0.1l2 0.4l1 1.7l1 5.6l2.5 22.1l1 5l0.5 1l0.5 0.2l1-2.2l2.5-13.8l0.5-2.1l1-1.9l3 0.4l1 2.3l3 18.6l1.5 5.1l0.5 0.4l1-1l2.5-9.7l1-2.8l0.5-0.4l1 1l2 4.4l1 3.4l3.5 24.7l1.5 7.5l1 3.1l1.5 3l1.5 1.6l1.5 0.9l3.5 0.5l12-0.2l14.5-0.5l10.5-0.8l6.5-0.8l5-1.1l4.5-1.5l3.5-1.8l3.5-3.1l1.5-2.2l1.5-3.2l1.5-4.9l3-14.3l1.5-3.5l2.5-0.7l1 0.5l1 2.2l3 10.8l1 1.5l1 0.1l0.5-0.5l1.5-4l3.5-17.2l1-1.7l3-2.3l1 0.5l2 4.1l0.5 0.2l0.5-0.6l1-3.9l2-11.9l0.5-1.8l0.5-0.9l0.5-0.2l2.5 1l1 1.8l1 5.2l2.5 18.6l1.5 4.9l0.5 0.2l1-1.7l3-16.3l0.5-2.1l1-2l2.5-0.1l0.5 0.3l1 2.2l3 18l1 4.1l1 1.8l0.5 0.1l0.5-0.4l1-2.5l3-12.3l0.5-0.7l0.5-0.1l2 2.3l1 1.9l1 3.6l3 20.2l1.5 7.2l2 5.2l2 2.4l2 1l3 0.4l33.6 0" stroke="#7e8f11"/>
<path d="M34 1565.7l28-0.7l17.5-1.3l6.5-1l5.5-1.4l4.5-1.8l3-2l3-3.8l2.5-6.4l1.5-7.3l2.5-16.4l1.5-4.7l2.5-2.5l0.5-0.2l0.5 0.2l1 2.4l2.5 11.4l1 2.5l1 0.6l1-1.4l1-3.6l3-20.1l1-3.6l0.5-0.6l1.5-0.4l1.5-1.2l0.5 0.2l1 2.5l2 8.4l0.5 0.7l0.5-0.6l1-5.2l2.5-25.4l0.5-3.3l0.5-1.8l0.5-0.6l1.5 0.7l1-0.3l0.5 0.3l0.5 1.3l1 6.6l2.5 27.3l0.5 3.5l1 3.7l0.5 0.1l1-3l2.5-17.7l0.5-2.5l1-2.1l1.5 0.5l1.5-0.1l1 2.4l3 22.9l1.5 6.2l0.5 0.4l1-1.5l2.5-12.7l1-3.5l0.5-0.4l1 1.3l2 4.8l1 3.8l3.5 28.9l1.5 8.4l1 3.3l1.5 2.9l1.5 1.6l1.5 0.8l4 0.5l13.5-0.2l13.5-0.6l10-0.8l6.5-1l5-1.3l4.5-1.7l3.5-2l3.5-3.6l2.5-5l2-7.9l2.5-14.4l0.5-2l1-1.9l2.5-0.6l1 0.4l1 2.5l3 13.3l1 1.9l1 0.2l0.5-0.6l1.5-4.6l3.5-20.7l1-1.7l1.5-0.7l1.5-1.6l0.5 0.1l1 2l1.5 4.7l0.5 0.5l0.5-0.7l1-4.8l2-15l0.5-2.2l0.5-1l0.5-0.1l1.5 1l1 0l1 1.8l1 6l2.5 22.9l0.5 2.9l1 3l0.5 0.2l0.5-0.7l0.5-1.5l3-20.4l0.5-2.5l1-2.2l3 0.2l1 2.4l3 22l1 4.9l1 2l0.5 0.1l0.5-0.6l1-3.1l3-15.5l0.5-0.8l0.5-0.1l2.5 3.7l1.5 5l4 29.8l1.5 5.3l1 2.2l1.5 1.9l2 1.2l3.5 0.6l33.6 0" stroke="#8f8b11"/>
<path d="M32.5 1570.5l28-0.7l17.5-1.5l6.5-1.1l5.5-1.6l4.5-1.9l3-2.1l2-2.3l1.5-2.6l2-5.8l1.5-8.2l2.5-19.4l0.5-2.5l1-2.6l3-3.2l0.5 0.2l0.5 1l3 16l1 3.1l0.5 0.7l0.5 0.1l1-1.6l1-4.2l3-24.2l1-4l0.5-0.6l1.5 0l1.5-1.5l0.5 0.2l1 3.3l2 11.3l0.5 1l0.5-0.5l1-6.2l2.5-31.2l0.5-3.8l0.5-2.1l0.5-0.5l1.5 1.2l1-0.6l0.5 0l1 4.2l3 38.2l0.5 4.3l1 4.3l0.5 0l1-4l2.5-22.2l0.5-3l0.5-1.7l0.5-0.6l1.5 0.9l1.5-0.5l1 2.6l3 27.8l1.5 7.3l0.5 0.5l1-2l3-18.9l0.5-1.7l0.5-0.5l0.5 0.6l2.5 6.5l1 4l3.5 33.9l1.5 9.4l2 5.5l1.5 1.9l1.5 1l3.5 0.7l11.5-0.2l15-0.6l11-1l6.5-1l5.5-1.5l4.5-1.9l3.5-2.2l2-1.8l2-2.8l2.5-6l1.5-7.1l2.5-17.2l0.5-2.2l1-2.1l3-0.6l0.5 0.4l1 3l3 16.2l1 2.3l0.5 0.3l0.5-0.1l0.5-0.6l1.5-5.4l2.5-19.4l1-5.3l1-1.7l1-0.1l2-2.1l0.5 0.2l1 2.7l1.5 6.5l0.5 0.8l0.5-0.7l1-5.9l2-18.6l0.5-2.6l0.5-1.1l0.5-0.1l1.5 1.4l1-0.3l0.5 0.2l0.5 1.4l1 7.1l2.5 27.8l0.5 3.5l1 3.6l0.5 0.1l0.5-0.8l0.5-1.9l3-25.2l0.5-3l0.5-1.7l0.5-0.6l1.5 0.7l1.5-0.5l1 2.5l3 26.6l1 5.8l1 2.4l0.5 0l0.5-0.8l1-3.9l3-19.2l0.5-0.9l0.5 0l2.5 4.2l1 2.8l0.5 2.7l3 27.9l1 6.8l1.5 5.7l1 2.1l1.5 1.9l2 1.2l3.5 0.5l33.6 0" stroke="#8f7811"/>
<path d="M31 1575.4l28.5-0.9l17.5-1.6l6.5-1.3l5.5-1.8l4.5-2.3l3-2.4l3-4.5l2-6.1l1.5-9.4l2.5-22.7l0.5-2.9l1-2.8l1.5-1.2l1.5-2.3l0.5 0.1l0.5 1.1l3 19.6l1 3.8l0.5 0.9l0.5 0.1l1-1.7l1-4.9l3-29l1-4.5l0.5-0.5l1.5 0.4l1.5-1.9l0.5 0.3l1 4.1l2 14.8l0.5 1.5l0.5-0.4l1-7.4l2.5-38l0.5-4.5l0.5-2.3l0.5-0.3l1.5 1.8l1.5-1.4l0.5 1.3l0.5 3.3l3 46.1l0.5 5.2l1 4.9l0.5-0.1l1-5l3-31.1l0.5-2l0.5-0.4l1.5 1.3l1.5-1l0.5 0.6l1 5.9l2.5 29.8l1 7l0.5 1.6l0.5 0.5l1-2.6l3-23.6l0.5-2l0.5-0.6l0.5 0.7l2.5 7.5l1 4.3l3.5 39.5l1 7.9l1 4.6l1 2.7l1.5 2.2l1.5 1.2l3 0.8l6.5 0l17.5-0.6l12.5-1.1l6.5-0.9l5.5-1.4l4.5-1.7l4-2.3l2.5-2l2-2.4l1.5-2.4l1.5-3.6l2-9.9l2.5-20.1l0.5-2.6l1-2.2l1.5 0.2l1.5-0.8l0.5 0.3l0.5 1.3l3.5 21.7l1 2.8l0.5 0.4l0.5-0.1l1-2l1-4.9l2.5-23.1l1-6.3l0.5-1.2l0.5-0.3l1 0.2l0.5-0.2l1.5-2.1l0.5 0.2l1 3.6l1.5 8.5l0.5 1.2l0.5-0.7l1-7.1l2-22.8l1-4.4l0.5 0.1l1 1.6l0.5 0.3l1-0.9l0.5 0.1l0.5 1.4l1 8.3l2.5 33.5l0.5 4.2l1 4.2l0.5 0.1l0.5-1.1l1-5.9l3-30.6l0.5-1.9l0.5-0.6l1.5 1.2l1.5-1l0.5 0.6l0.5 2l0.5 3.7l3 32.2l0.5 3l1 2.7l0.5-0.1l0.5-1l1-4.8l3-23.5l0.5-1.1l0.5 0.1l3 6l1.5 9l2 23.4l1.5 12.8l1.5 6.1l1.5 2.8l2.5 1.9l3 0.6l34.6 0.1" stroke="#8f6611"/>
<path d="M29.5 1580.2l29-1l9.5-0.8l8-1.1l6.5-1.4l5.5-2.1l4.5-2.6l3-2.8l2.5-4l2-6.4l1.5-10.6l2.5-26.6l0.5-3.3l1-3l1.5-1.1l1.5-2.8l0.5 0l0.5 1.3l3 23.6l1 4.7l0.5 1l0.5 0.3l1-1.9l1-5.7l3-34.5l1-5.2l0.5-0.3l1 1l0.5 0l1.5-2.3l0.5 0.2l1 5.2l2 18.7l0.5 2.1l0.5-0.3l1-8.6l2.5-45.8l0.5-5.3l0.5-2.6l0.5-0.2l1 2.2l0.5 0.4l1.5-2.3l0.5 1.2l0.5 3.8l3 55.2l0.5 6.2l1 5.8l0.5-0.3l1-6.3l3-37.9l0.5-2.2l0.5-0.4l1.5 1.9l1.5-1.7l0.5 0.6l1 6.8l2.5 35.7l1 8.3l0.5 1.9l0.5 0.5l1-3.3l3-29l0.5-2.5l0.5-0.6l0.5 0.8l3 10.3l0.5 2.8l1 10.1l2.5 35.9l1 8.9l1.5 6.5l1.5 2.7l1.5 1.3l3 0.9l6.5 0l18.5-0.7l12.5-1.2l6.5-1.1l5.5-1.5l4.5-2l4-2.6l3-2.9l2-2.9l1.5-3.2l1-3.4l1.5-9.1l2.5-23.6l0.5-3l0.5-1.7l0.5-0.6l1.5 0.5l1.5-1.1l0.5 0.3l0.5 1.4l3.5 26l1 3.3l0.5 0.5l0.5 0l1-2.3l1-5.7l2.5-27.4l1-7.3l0.5-1.3l0.5-0.2l1 0.7l0.5-0.2l1.5-2.5l0.5 0.3l1 4.7l1.5 10.9l0.5 1.6l0.5-0.6l1-8.5l2-27.7l1-5.1l0.5 0.3l1 2.1l0.5 0.2l1-1.3l0.5-0.2l0.5 1.4l1 9.7l2.5 40.1l0.5 4.9l1 4.9l0.5 0.1l0.5-1.3l1-7.3l3-36.7l0.5-2.2l0.5-0.5l1.5 1.7l1.5-1.5l0.5 0.5l0.5 2.3l0.5 4.2l3 38.5l0.5 3.4l1 3.1l0.5-0.1l0.5-1.3l1-5.8l2-21.1l1-7.4l0.5-1.2l0.5 0.2l1.5 3.9l1.5 2.7l1.5 10.2l3 38.2l1.5 8.7l1.5 3.5l1 1.2l1.5 1.1l3 0.7l35.1 0.1" stroke="#8f5411"/>
<path d="M28 1585l29.5-1.1l10-1l7.5-1.1l6.5-1.7l5.5-2.3l4.5-3l3-3.2l1.5-2.4l1.5-3.6l1.5-7.2l3.5-40l0.5-3.8l1-3.1l1-0.3l0.5-0.6l1.5-3.5l0.5-0.1l0.5 1.5l3.5 31.7l1 3.5l0.5 0.4l0.5-0.6l1-4.2l0.5-4l2.5-34.8l1-9.9l0.5-1.9l0.5-0.1l1 1.4l0.5 0.1l1.5-2.8l0.5 0.4l0.5 2.1l2.5 27.6l0.5 2.7l0.5-0.1l1-10l2.5-54.9l0.5-6.3l0.5-2.8l0.5 0l1 3l0.5 0.5l1.5-3.4l0.5 1.1l0.5 4.3l3 65.7l0.5 7.4l1 6.7l0.5-0.4l1-7.8l3-45.8l0.5-2.5l0.5-0.4l1.5 2.7l1.5-2.4l0.5 0.4l1 7.9l2.5 42.5l1 9.8l0.5 2.2l0.5 0.5l1-4.1l3-35.4l0.5-2.9l0.5-0.8l0.5 1.1l1.5 6.7l1.5 4.8l1 7.9l2.5 41.5l1.5 17l1.5 6.8l1 1.9l1.5 1.5l3 1l6.5 0l18.5-0.7l13-1.3l6.5-1.3l5.5-1.7l4.5-2.1l4-2.8l2.5-2.6l2.5-3.5l1.5-3.2l1-3.6l1.5-10.3l2.5-27.6l0.5-3.4l0.5-1.9l0.5-0.6l1.5 1l1.5-1.5l0.5 0.2l0.5 1.5l3.5 30.9l1 3.9l0.5 0.7l0.5 0l1-2.5l1-6.7l2.5-32.3l1-8.4l0.5-1.4l0.5 0l1 1.2l0.5-0.1l1.5-2.9l0.5 0.4l1 5.8l1.5 13.8l0.5 2.1l0.5-0.6l1-10.1l2-33.3l0.5-4.3l0.5-1.6l0.5 0.5l1 2.7l0.5 0.2l1.5-2.5l0.5 1.5l1 11.1l2.5 47.7l0.5 5.9l1 5.7l0.5 0.1l0.5-1.7l1-8.7l3-43.9l0.5-2.5l0.5-0.3l1.5 2.3l1.5-2.2l0.5 0.4l0.5 2.5l0.5 4.9l3 45.7l0.5 4l1 3.5l0.5-0.2l0.5-1.5l1-7.1l2-25.4l1-8.8l0.5-1.4l0.5 0.3l1.5 4.8l1.5 2.6l0.5 2.1l1 9.3l3 44.4l1.5 9.6l1.5 3.5l2 1.7l3.5 0.8l35.1 0.1" stroke="#8f4311"/>
<path d="M26.5 1589.8l29.5-1.2l10-1.1l8-1.4l6.5-1.9l5.5-2.6l4-3l3.5-4.1l1.5-2.6l1-2.6l1.5-7.8l4-50.6l0.5-2.4l0.5-0.9l1-0.1l0.5-0.6l1.5-4.3l0.5-0.2l0.5 1.7l0.5 3.6l3 34.1l1 4.3l0.5 0.5l0.5-0.6l0.5-1.7l1.5-14l2.5-41.7l1-6.6l0.5 0l1 2.1l0.5 0.2l1.5-3.3l0.5 0.4l1 7.6l2 28.9l0.5 3.5l0.5 0l1-11.7l2.5-65.2l1-10.5l0.5 0.2l1 3.9l0.5 0.6l1.5-4.6l0.5 1l0.5 4.9l3 77.8l0.5 8.6l1 7.8l0.5-0.6l1-9.5l3-54.8l0.5-2.9l0.5-0.3l1.5 3.5l1.5-3.3l0.5 0.3l1 9.1l2.5 50.3l1 11.6l0.5 2.5l0.5 0.4l1-5l3-42.6l0.5-3.5l0.5-0.9l0.5 1.3l1.5 7.9l1.5 5l1 8.8l2.5 48.1l1.5 19.4l1.5 7.2l1 1.7l1 0.9l1.5 0.7l2 0.3l8.5 0l17.5-0.9l12.5-1.4l6.5-1.4l5.5-1.9l4.5-2.5l4-3.3l2.5-2.8l2-3l1.5-3.2l1-3.8l1.5-11.7l2.5-32.1l0.5-3.9l0.5-2.1l0.5-0.5l1.5 1.5l1.5-2l0.5 0.2l0.5 1.7l3.5 36.4l1 4.7l0.5 0.9l0.5-0.1l1-2.8l1-7.7l2.5-38l1-9.7l0.5-1.4l0.5 0.2l1 1.8l0.5 0l1.5-3.3l0.5 0.5l1 7.1l1.5 17.2l0.5 2.6l0.5-0.6l1-11.8l2-39.8l0.5-5.1l0.5-1.7l0.5 0.7l1 3.3l0.5 0.3l1.5-3.7l0.5 1.5l1 12.9l2.5 56.4l0.5 6.9l1 6.6l0.5 0.1l0.5-2.1l1-10.4l3-52.1l0.5-2.7l0.5-0.3l1.5 3.2l1.5-3.1l0.5 0.3l0.5 2.8l0.5 5.7l3 53.8l0.5 4.7l1 4l0.5-0.3l0.5-1.9l1-8.5l2-30.3l1-10.4l0.5-1.7l0.5 0.5l1.5 5.7l1.5 2.6l0.5 2.2l1 10.6l3 51.5l1 8.1l1.5 5l2 1.9l3.5 0.8l35.6 0.1" stroke="#8f3311"/>
<path d="M25 1594.6l28-1.2l9.5-1l8-1.4l6.5-1.8l5-2.2l4.5-2.9l4-3.9l2-2.8l1.5-3l1.5-6.2l1.5-15.3l2-34.8l1-12l0.5-2.7l0.5-0.8l1 0.3l0.5-0.7l1.5-5.2l0.5-0.3l0.5 1.9l0.5 4.3l3 40.4l1 5.2l0.5 0.6l0.5-0.6l1-5.5l0.5-5.3l3-56.4l1-7.4l0.5 0.3l1 2.8l0.5 0.4l1.5-4l0.5 0.4l1 9.2l2 35.2l0.5 4.4l0.5 0.3l1-13.7l2.5-77.2l1-12l0.5 0.5l1 5l0.5 0.7l1.5-6.1l0.5 0.9l0.5 5.6l3 91.6l0.5 10.2l1 9l0.5-0.9l1-11.5l3-65.3l0.5-3.3l0.5-0.1l1.5 4.5l1.5-4.4l0.5 0.1l1 10.4l2.5 59.4l1 13.6l0.5 2.8l0.5 0.4l1-6.1l3-51.1l0.5-4.1l0.5-1l2 10.8l1.5 5.2l0.5 3.6l1 15.1l2.5 56.2l1 12.6l1 6l1 2.5l1 1l1.5 0.6l2.5 0.3l13.5-0.3l15-1l10.5-1.4l6.5-1.6l5.5-2.2l4.5-2.9l4-3.7l2.5-3.1l2-3.2l1-2.4l1-4l1.5-13.1l2.5-37.3l0.5-4.5l0.5-2.3l0.5-0.4l1.5 2.1l1.5-2.5l0.5 0l0.5 1.9l3.5 42.9l1 5.5l0.5 1l0.5 0l1-3.1l1-8.9l2.5-44.5l1-11.1l0.5-1.5l1.5 3l0.5 0l1.5-3.8l0.5 0.7l1 8.7l1.5 20.9l0.5 3.4l0.5-0.5l1-14l2-47.2l0.5-5.9l0.5-2l1.5 5.1l0.5 0.3l1.5-5l0.5 1.5l0.5 5.4l3 75.9l0.5 8l1 7.7l0.5 0l0.5-2.5l1-12.4l3-61.4l0.5-3.1l0.5-0.2l1.5 4.1l1.5-4l0.5 0.1l1 9.7l2.5 55.5l1.5 16.4l0.5 1.3l0.5-0.4l1-6.4l3-49.4l0.5-4.8l0.5-1.9l0.5 0.6l1.5 6.8l1.5 2.4l1 7l3.5 66.9l1 9l0.5 2.5l1 2.5l2 1.5l3.5 0.5l35.6 0.1" stroke="#8f2211"/>
<path d="M23.5 1599.4l29-1.5l9.5-1.1l8-1.6l6.5-2.1l5-2.6l4.5-3.5l4-4.6l2-3.2l1-2.7l1.5-9.2l4-67.2l0.5-2.9l0.5-0.7l1 0.6l0.5-0.6l1.5-6.4l0.5-0.4l1 7.2l3 47.7l1 6.2l0.5 0.8l0.5-0.7l1-6.2l0.5-6.2l3-65.8l1-8.4l0.5 0.5l1 3.8l0.5 0.5l1.5-4.8l0.5 0.5l0.5 3.7l2.5 49.8l0.5 5.5l0.5 0.5l1-15.8l2.5-90.9l1-13.8l0.5 0.8l1 6.3l0.5 0.8l1.5-7.9l0.5 0.8l0.5 6.3l3 107.6l0.5 11.8l1 10.4l0.5-1.1l1-13.9l3-77.2l0.5-3.8l0.5 0.1l1 4.5l0.5 1l0.5-1l1-4.6l0.5 0l1 11.9l2.5 69.7l1 15.8l0.5 3.3l0.5 0.4l1-7.4l3-60.8l0.5-4.9l0.5-1.2l2 12.8l1.5 5.3l0.5 4l1 17.2l2 54.2l1 19l1 9.8l1 4l1 1.3l1.5 0.4l3 0.1l19-0.7l12-1.1l9-1.5l6.5-1.9l5-2.4l4.5-3.2l4-4.2l4-5.8l1-2.4l1-4.2l1.5-14.8l2.5-43.1l0.5-5.2l0.5-2.5l0.5-0.3l1.5 2.8l1.5-3.2l0.5 0l0.5 2.1l3.5 50.1l1 6.5l0.5 1.2l0.5 0.1l1-3.5l1-10.2l2.5-52l0.5-8l0.5-4.7l0.5-1.6l1.5 4.2l0.5 0.2l1.5-4.5l0.5 0.9l1 10.4l1.5 25.5l0.5 4.1l0.5-0.5l1-16.3l2-55.7l0.5-6.9l0.5-2.2l1.5 6.3l0.5 0.3l1.5-6.5l0.5 1.5l0.5 6.1l3 88.8l0.5 9.3l1 8.9l0.5-0.1l0.5-2.9l1-14.6l3-72.3l0.5-3.4l0.5 0l1 4.3l0.5 0.9l0.5-0.9l1-4.3l0.5 0l1 11l2.5 64.9l1.5 19l0.5 1.5l0.5-0.6l1-7.5l3-58.4l0.5-5.6l0.5-2.2l0.5 0.8l1.5 8.1l0.5 1.1l1 1.1l1 7.7l3 68.9l1 14.1l0.5 4.1l1 4.1l1 1.3l2.5 0.6l38.1 0.1" stroke="#8f1c11"/>
<path d="M22 1604.2l16.5-0.7l12.5-0.9l9.5-1.3l8-1.7l6.5-2.4l5-2.9l4.5-3.9l4-5l2-3.5l1-3l1.5-10.1l4-74.1l0.5-3.2l0.5-0.8l1 0.7l0.5-0.7l1.5-7l0.5-0.4l1 7.9l3 52.6l1 6.8l0.5 0.8l0.5-0.7l1-6.8l0.5-6.9l3-72.5l1-9.3l0.5 0.6l1 4.2l0.5 0.5l1.5-5.2l0.5 0.5l0.5 4.1l2.5 54.9l0.5 6l0.5 0.6l1-17.4l2.5-100.3l1-15.2l0.5 0.9l1 7l0.5 0.9l1.5-8.8l0.5 1l0.5 6.9l3 118.6l0.5 13l1 11.5l0.5-1.3l1-15.3l3-85.1l0.5-4.1l0.5 0l1 5l0.5 1.1l0.5-1.1l1-5l0.5-0.1l1 13.1l2.5 76.9l1 17.4l0.5 3.6l0.5 0.5l1-8.2l3-67l0.5-5.4l0.5-1.3l2 14.1l1.5 5.8l0.5 4.4l1 19l2 59.7l1 21l1 10.9l1 4.3l1 1.4l1.5 0.5l3 0.1l19-0.8l12-1.2l9-1.6l6.5-2.1l5-2.6l4.5-3.6l4-4.6l4-6.4l1-2.6l1-4.7l1.5-16.2l2.5-47.5l0.5-5.7l0.5-2.7l0.5-0.4l1.5 3.1l1.5-3.5l0.5 0l0.5 2.3l3.5 55.1l1 7.2l0.5 1.3l0.5 0.1l1-3.9l1-11.2l2.5-57.1l0.5-8.8l0.5-5.3l0.5-1.7l1.5 4.6l0.5 0.2l1.5-4.9l0.5 0.9l1 11.6l1.5 27.9l0.5 4.6l0.5-0.5l1-18l2-61.3l0.5-7.6l0.5-2.4l1.5 7l0.5 0.2l1.5-7.1l0.5 1.6l0.5 6.8l3 97.6l0.5 10.3l1 9.8l0.5-0.1l0.5-3.2l1-16.1l3-79.5l0.5-3.8l0.5 0.1l1 4.6l0.5 1.1l0.5-1.1l1-4.6l0.5-0.1l1 12.2l2.5 71.3l1.5 21l0.5 1.6l0.5-0.6l1-8.3l3-64.2l0.5-6.2l0.5-2.4l0.5 0.9l1.5 8.9l0.5 1.2l1 1.2l1 8.5l3 75.7l1 15.6l0.5 4.4l1 4.6l1 1.5l2.5 0.6l38.1 0.1" stroke="#8f1711"/>
<path d="M20.5 1608.9l16.5-0.7l12.5-1l9.5-1.4l8-2l6.5-2.6l5-3.1l4.5-4.3l4-5.6l2-3.9l1-3.2l1.5-11.1l4-81.7l0.5-3.6l0.5-0.9l1 0.8l0.5-0.8l1.5-7.7l0.5-0.5l1 8.7l3 58.1l1 7.4l0.5 1l0.5-0.8l1-7.6l0.5-7.5l3-80l1-10.2l0.5 0.7l1 4.5l0.5 0.7l1.5-5.9l0.5 0.6l0.5 4.5l2.5 60.6l0.5 6.6l0.5 0.7l1-19.2l2.5-110.6l1-16.8l0.5 1.1l1 7.6l0.5 1l1.5-9.6l0.5 1l0.5 7.6l3 130.8l0.5 14.4l1 12.6l0.5-1.4l1-16.8l3-93.9l0.5-4.6l0.5 0.1l1 5.5l0.5 1.2l0.5-1.2l1-5.6l0.5 0l1 14.4l2.5 84.8l1 19.2l0.5 4l0.5 0.5l1-9l3-73.9l0.5-6l0.5-1.4l2 15.6l1.5 6.4l0.5 4.8l1 20.9l2 65.9l1 23.1l1 12l1 4.8l1 1.5l1.5 0.6l3 0.1l19-0.9l12-1.3l9-1.8l6.5-2.3l5-2.9l4.5-3.9l4-5.1l4-7l1-2.9l1-5.1l1.5-17.9l2.5-52.2l0.5-6.3l0.5-3l0.5-0.4l1.5 3.4l1.5-3.9l0.5 0l0.5 2.6l3.5 60.7l1 7.8l0.5 1.5l0.5 0.1l1-4.3l1-12.3l2.5-62.9l0.5-9.7l0.5-5.8l0.5-1.9l1.5 5.1l0.5 0.2l1.5-5.4l0.5 1l1 12.7l1.5 30.8l0.5 5.1l0.5-0.6l1-19.8l2-67.5l0.5-8.3l0.5-2.7l1.5 7.7l0.5 0.3l1.5-7.9l0.5 1.8l0.5 7.4l3 107.5l0.5 11.4l1 10.7l0.5-0.1l0.5-3.5l1-17.8l3-87.4l0.5-4.2l0.5 0.1l1 5.1l0.5 1.1l0.5-1.1l1-5.1l0.5-0.1l1 13.4l2.5 78.5l1.5 23.1l0.5 1.8l0.5-0.8l1-9.1l3-70.6l0.5-6.9l0.5-2.6l0.5 1l1.5 9.8l0.5 1.4l1 1.3l1 9.3l3 83.3l1 17.2l0.5 4.9l1 4.9l1 1.7l2.5 0.7l38.1 0.1" stroke="#8f1111"/>
</g>
<g fill="none" stroke-width="1.6" stroke-linejoin="round">
<path d="M468.9 1370.4l147.5-0.2l27-0.8l10.5-0.8l17.5-0.3l17 0.2l18 1.2l16 0.6l76 0.1" stroke="#8f1126"/>
<path d="M467.4 1375.3l147.5-0.2l27-0.9l10.5-0.9l17.5-0.3l17 0.2l18 1.3l16 0.7l76 0.1" stroke="#8f1143"/>
<path d="M465.9 1380.2l147.5-0.2l27-1l10.5-1l17.5-0.4l17 0.3l18 1.5l16 0.7l76 0.1" stroke="#8f1161"/>
<path d="M464.4 1385.1l147.5-0.2l27-1.1l10.5-1.2l17.5-0.3l17 0.2l18 1.7l16 0.7l76 0.2" stroke="#8f1176"/>
<path d="M462.9 1390l147.5-0.2l27-1.2l10.5-1.3l17.5-0.4l17 0.3l18 1.8l16 0.8l76 0.2" stroke="#8f118b"/>
<path d="M461.4 1394.9l147.5-0.3l27-1.3l10.5-1.4l17.5-0.4l17 0.3l18 2l16 0.9l76 0.2" stroke="#89118f"/>
<path d="M459.9 1399.8l147.5-0.3l27-1.4l10.5-1.6l17.5-0.5l17 0.4l18 2.2l16 1l76 0.2" stroke="#7e118f"/>
<path d="M458.4 1404.7l147.5-0.3l27-1.6l10.5-1.7l17.5-0.6l17 0.4l18 2.4l16 1.2l76 0.2" stroke="#74118f"/>
<path d="M456.9 1409.6l147.5-0.4l27-1.7l10.5-1.9l17.5-0.6l17 0.4l6.5 1.2l11.5 1.5l16 1.2l76 0.3" stroke="#68118f"/>
<path d="M455.4 1414.5l147.5-0.4l27-1.9l10.5-2.1l17.5-0.7l17 0.5l6.5 1.3l11.5 1.6l16 1.4l76 0.3" stroke="#5c118f"/>
<path d="M453.9 1419.4l147.5-0.5l27-2.1l10.5-2.3l17.5-0.7l17 0.5l6.5 1.5l11.5 1.8l16 1.5l76 0.3" stroke="#50118f"/>
<path d="M452.4 1424.3l147.5-0.5l8-0.5l19-1.8l10.5-2.6l17.5-0.8l17 0.6l6.5 1.6l11.5 2l8.5 1.1l7.5 0.5l17 0.3l59 0.1" stroke="#43118f"/>
<path d="M450.9 1429.2l102-0.2l45.5-0.3l8-0.6l19-2l10.5-2.8l17.5-0.9l17 0.6l6.5 1.8l11.5 2.2l8.5 1.2l7.5 0.6l17 0.3l59 0.1" stroke="#37118f"/>
<path d="M449.4 1434.1l102-0.2l45.5-0.4l8-0.6l19-2.2l10.5-3.1l17.5-1l8 0.5l4.5-0.2l4.5 0.4l6.5 1.9l11.5 2.4l8.5 1.4l7.5 0.7l17 0.3l59 0.1" stroke="#2a118f"/>
<path d="M447.9 1439l102-0.2l45.5-0.5l8-0.6l19-2.5l10.5-3.4l17.5-1.1l8 0.5l4.5-0.1l4.5 0.4l6.5 2.1l11.5 2.7l8.5 1.5l7.5 0.7l17 0.4l59 0.1" stroke="#1e118f"/>
<path d="M446.4 1443.9l102-0.2l45.5-0.5l8-0.7l19-2.8l10.5-3.7l17.5-1.3l8 0.6l4.5-0.2l4.5 0.6l6.5 2.3l11.5 2.9l8.5 1.6l7.5 0.9l17 0.4l59 0.1" stroke="#13118f"/>
<path d="M444.9 1448.8l102-0.2l45.5-0.6l8-0.8l9.5-1.7l9.5-1.3l10.5-4.1l17.5-1.4l8 0.7l4.5-0.3l4.5 0.6l6.5 2.6l11.5 3.2l8.5 1.8l7.5 0.9l17 0.5l59 0.1" stroke="#111c8f"/>
<path d="M443.4 1453.7l102-0.2l45.5-0.7l8-0.8l9.5-1.9l9.5-1.5l10.5-4.5l17.5-1.5l8 0.7l4.5-0.2l4.5 0.6l6.5 2.8l11.5 3.5l8.5 2l7.5 1.1l17 0.5l59 0.1" stroke="#11258f"/>
<path d="M441.9 1458.6l102-0.3l45.5-0.7l8-0.9l9.5-2.1l9.5-1.6l10.5-5l17.5-1.7l8 0.8l4.5-0.2l4.5 0.7l6.5 3.1l11.5 3.9l8.5 2.2l7.5 1.1l17 0.6l59 0.1" stroke="#112e8f"/>
<path d="M440.4 1463.5l102-0.3l45.5-0.8l8-1l9.5-2.3l9.5-1.7l10.5-5.6l17.5-1.8l8 0.9l4.5-0.3l4.5 0.7l6.5 3.5l11.5 4.3l8.5 2.4l7.5 1.2l17 0.7l59 0.1" stroke="#11378f"/>
<path d="M438.9 1468.4l102-0.3l45.5-0.9l8-1.1l9.5-2.6l9.5-1.9l10.5-6.1l17.5-2l8 1l4.5-0.4l4.5 0.9l6.5 3.8l11.5 4.7l8.5 2.7l7.5 1.3l6 0.5l11 0.3l59 0.1" stroke="#11438f"/>
<path d="M437.4 1473.3l102-0.4l45.5-0.9l8-1.2l9.5-2.9l9.5-2.1l3-1.6l7.5-5.1l17.5-2.2l8 1l4.5-0.3l4.5 0.9l6.5 4.2l11.5 5.2l8.5 3l7.5 1.5l6 0.5l11 0.3l59 0.1" stroke="#114f8f"/>
<path d="M435.9 1478.2l102-0.4l45.5-1l8-1.4l9.5-3.1l9.5-2.3l3-1.8l5.5-4.4l2-1.3l17.5-2.4l8 1.2l4.5-0.4l4.5 1l6.5 4.6l11.5 5.8l8.5 3.2l7.5 1.7l6 0.6l11 0.3l59 0.1" stroke="#115a8f"/>
<path d="M434.4 1483.1l102-0.4l45.5-1.2l8-1.5l9.5-3.4l9.5-2.6l3-2l5.5-4.8l2-1.4l17.5-2.7l8 1.3l3-0.5l1.5 0.1l4.5 1.1l6.5 5.1l11.5 6.4l8.5 3.5l7.5 1.9l6 0.6l11 0.3l59 0.2" stroke="#116a8f"/>
<path d="M432.9 1488l102-0.5l34-0.7l11.5-0.5l8-1.7l9.5-3.8l9.5-2.8l3-2.2l5.5-5.4l2-1.4l17.5-3l8 1.4l3-0.6l1.5 0.1l4.5 1.3l6.5 5.6l11.5 7l8.5 3.9l7.5 2l6 0.8l11 0.3l59 0.2" stroke="#11798f"/>
<path d="M431.5 1492.8l102-0.4l34-0.8l11.5-0.6l8-1.8l9.5-4.2l9.5-3.1l3-2.5l5.5-5.8l2-1.7l17.5-3.3l8 1.6l3-0.6l1.5 0.1l4.5 1.3l6.5 6.3l11.5 7.6l8.5 4.4l7.5 2.2l6 0.8l11 0.4l59 0.1" stroke="#11898f"/>
<path d="M430 1497.7l102-0.5l34-0.8l11.5-0.7l8-2l9.5-4.6l9.5-3.4l3-2.7l5.5-6.5l2-1.8l17.5-3.7l8 1.8l3-0.7l1.5 0.1l4.5 1.5l6.5 6.9l11.5 8.4l8.5 4.9l7.5 2.4l6 0.9l11 0.4l59 0.1" stroke="#118f84"/>
<path d="M428.5 1502.6l102-0.5l34-1l11.5-0.7l8-2.2l9.5-5.1l9.5-3.8l3-2.9l5.5-7.2l2-2l17.5-4l8 1.9l3-0.8l1.5 0.2l4.5 1.6l6.5 7.6l11.5 9.3l8.5 5.4l4 1.6l3.5 1l6 1l11 0.5l59 0.1" stroke="#118f72"/>
<path d="M427 1507.5l102-0.6l34-1l11.5-0.8l3.5-0.9l4.5-1.6l9.5-5.6l9.5-4.2l3-3.2l5.5-7.9l2-2.2l7.5-1.7l8-2.5l2-0.2l8 2.1l3-0.9l1.5 0.2l4.5 1.8l6.5 8.4l11.5 10.3l8.5 5.8l4 1.8l3.5 1.1l6 1.1l11 0.6l59 0.1" stroke="#118f61"/>
<path d="M425.5 1512.4l56-0.1l46-0.5l34-1.2l11.5-0.9l3.5-0.9l4.5-1.8l9.5-6.2l9.5-4.6l3-3.6l5.5-8.7l2-2.4l1.5-0.6l6-1.3l8-2.7l2-0.3l8 2.4l3-1l1.5 0.2l4.5 2l1.5 1.8l3 4.9l2 2.5l11.5 11.4l8.5 6.4l4 2.1l3.5 1.2l6 1.1l11 0.7l59 0.1" stroke="#118f4f"/>
<path d="M424 1517.3l56-0.1l46-0.6l34-1.3l11.5-1l3.5-1l4.5-1.9l9.5-6.9l9.5-5l3-4l5.5-9.6l2-2.7l1.5-0.6l6-1.4l8-3l2-0.3l8 2.6l3-1.1l1.5 0.2l4.5 2.2l1.5 1.9l3 5.5l2 2.7l11.5 12.6l8.5 7.1l4 2.2l3.5 1.4l6 1.3l11 0.6l59 0.2" stroke="#118f3c"/>
<path d="M422.5 1522.2l56-0.1l46-0.7l34-1.4l11.5-1.1l3.5-1.1l4.5-2.2l9.5-7.5l9.5-5.6l3-4.3l5.5-10.6l2-3l1.5-0.7l6-1.5l8-3.3l2-0.4l8 2.9l3-1.2l1.5 0.2l2 0.8l2.5 1.7l1.5 2.1l3 6l2 3l11.5 13.8l5 5l3.5 2.9l4 2.5l3.5 1.4l6 1.5l11 0.7l59 0.2" stroke="#118f2a"/>
<path d="M421 1527.1l56-0.2l46-0.7l34-1.5l11.5-1.2l3.5-1.3l4.5-2.3l9.5-8.4l9.5-6.1l3-4.8l5.5-11.7l2-3.2l1.5-0.8l6-1.7l8-3.6l2-0.4l8 3.1l1-0.1l2-1.2l1.5 0.2l2 1l2.5 1.8l1.5 2.3l3 6.6l2 3.4l11.5 15.2l5 5.4l3.5 3.2l4 2.8l3.5 1.6l6 1.6l11 0.8l59 0.2" stroke="#118f20"/>
<path d="M419.5 1532l56-0.2l46-0.8l34-1.7l11.5-1.3l3.5-1.4l4.5-2.6l9.5-9.2l9.5-6.7l3-5.3l5.5-12.9l2-3.6l1.5-0.9l6-1.8l8-4l2-0.5l1.5 0.5l6.5 3l1-0.2l2-1.2l1.5 0.2l2 1.1l2.5 1.9l1.5 2.6l3 7.3l2 3.7l11.5 16.8l5 6l3.5 3.5l4 3l3.5 1.8l3 1.1l3 0.7l11 0.9l59 0.2" stroke="#118f17"/>
<path d="M418 1536.9l56-0.2l46-0.9l34-1.9l11.5-1.4l3.5-1.5l4.5-2.9l9.5-10.1l9.5-7.5l3-5.8l5.5-14.2l2-4l1.5-0.9l6-2.1l8-4.4l2-0.5l1.5 0.5l6.5 3.4l1-0.2l2-1.4l1.5 0.2l2 1.2l2.5 2.1l1.5 2.9l3 8l2 4.1l11.5 18.5l5 6.6l3.5 3.9l4 3.3l3.5 2l3 1.2l3 0.7l11 1l59 0.3" stroke="#158f11"/>
<path d="M416.5 1541.8l56-0.2l46-1l15-0.7l19-1.4l7-0.7l4.5-0.9l3.5-1.7l4.5-3.1l9.5-11.2l3.5-3.3l4-2.9l2-2l3-6.4l5.5-15.7l2-4.3l1.5-1.1l6-2.3l8-4.8l2-0.6l1.5 0.5l5 3.2l1.5 0.6l1-0.3l2-1.5l1.5 0.3l2 1.3l2.5 2.4l1.5 3.1l3 8.9l2 4.5l11.5 20.4l5 7.2l3.5 4.4l4 3.6l3.5 2.2l3 1.3l3 0.8l11 1.1l59 0.3" stroke="#2a8f11"/>
<path d="M415 1546.7l56-0.3l46-1l15-0.8l19-1.5l7-0.8l4.5-1l3.5-1.8l4.5-3.5l9.5-12.3l3.5-3.7l4-3.1l2-2.3l3-7.1l5.5-17.2l2-4.8l1.5-1.2l6-2.5l8-5.4l2-0.6l1.5 0.6l5 3.5l1.5 0.6l1-0.2l2-1.7l1.5 0.3l2 1.4l2.5 2.6l1.5 3.5l3 9.8l2 4.9l11.5 22.5l5 8l3.5 4.8l4 4l3.5 2.4l3 1.5l3 0.8l5 0.8l6 0.5l19 0.3l40 0" stroke="#3f8f11"/>
<path d="M413.5 1551.6l56-0.3l46-1.2l15-0.8l19-1.7l7-0.9l4.5-1.1l3.5-2l4.5-3.8l9.5-13.6l3.5-4l4-3.5l2-2.5l3-7.8l5.5-19l2-5.3l1.5-1.3l6-2.8l8-5.9l2-0.6l1.5 0.6l5 3.8l1.5 0.8l1-0.4l2-1.8l1.5 0.4l2 1.5l2.5 2.9l1.5 3.8l3 10.8l2 5.4l11.5 24.8l5 8.9l3.5 5.2l4 4.5l3.5 2.6l3 1.6l3 1l5 0.8l6 0.5l19 0.4l40 0" stroke="#548f11"/>
<path d="M412 1556.5l56-0.3l46-1.3l15-0.9l19-1.9l7-1l4.5-1.2l3.5-2.2l4.5-4.3l6.5-10.6l3-4.3l3.5-4.4l4-3.9l2-2.7l3-8.7l5.5-20.9l2-5.8l1.5-1.5l4-1.8l2-1.2l8-6.5l2-0.7l1.5 0.6l5 4.3l1.5 0.8l1-0.4l2-2l1.5 0.4l2 1.7l2.5 3.2l1.5 4.2l3 11.9l2 6l11.5 27.3l5 9.8l3.5 5.8l4 4.8l3.5 3l3 1.8l3 1l5 1l6 0.5l19 0.4l40 0" stroke="#698f11"/>
<path d="M410.5 1561.4l56-0.4l46-1.4l15-1l19-2.1l7-1.1l4.5-1.3l3.5-2.4l4.5-4.7l6.5-11.7l3-4.8l3.5-4.9l4-4.2l2-3l3-9.5l5.5-23.1l2-6.5l1.5-1.6l4-1.9l2-1.4l8-7.2l2-0.8l1.5 0.8l5 4.6l1.5 0.9l1-0.4l2-2.2l1.5 0.4l2 1.9l2.5 3.5l1.5 4.6l3 13.2l2 6.6l11.5 30.1l5 10.8l3.5 6.4l4 5.4l3.5 3.2l3 2l3 1.1l5 1l6 0.6l19 0.5l40 0" stroke="#7e8f11"/>
<path d="M409 1566.3l56-0.4l46-1.6l15-1.1l19-2.3l7-1.2l4.5-1.4l3.5-2.7l4.5-5.2l6.5-12.9l3-5.2l3.5-5.4l4-4.7l2-3.3l3-10.5l5.5-25.5l2-7.1l1.5-1.7l4-2.2l2-1.6l8-7.9l2-0.8l1.5 0.8l5 5.2l1.5 0.9l1-0.4l2-2.4l1.5 0.4l2 2l2.5 4l1.5 5l3 14.5l2 7.3l11.5 33.3l5 11.8l3.5 7l4 6l3.5 3.5l3 2.2l3 1.3l5 1.1l6 0.7l19 0.5l40 0" stroke="#8f8b11"/>
<path d="M407.5 1571.2l56-0.5l46-1.7l15-1.2l19-2.5l7-1.4l4.5-1.5l3.5-3l4.5-5.7l6.5-14.3l3-5.7l3.5-6l4-5.1l2-3.7l3-11.6l5.5-28.1l2-7.7l1.5-2l4-2.4l2-1.7l8-8.7l1-0.7l1-0.3l1.5 1l5 5.6l1.5 1.1l1-0.5l2-2.7l1.5 0.6l2 2.2l2.5 4.3l1.5 5.6l3 15.9l2 8.1l11.5 36.7l5 13l3.5 7.8l4 6.5l3.5 3.9l3 2.4l3 1.4l5 1.3l6 0.7l19 0.6l40 0" stroke="#8f7811"/>
<path d="M406 1576.1l56-0.5l46-1.9l15-1.4l19-2.7l7-1.5l4.5-1.7l3.5-3.3l4.5-6.3l6.5-15.7l3-6.4l3.5-6.6l4-5.6l2-4l3-12.8l5.5-31l2-8.6l1.5-2.1l4-2.7l2-1.9l8-9.5l1-0.8l1-0.3l1.5 1l5 6.3l1.5 1.1l1-0.5l2-2.9l1.5 0.5l2 2.5l2.5 4.7l1.5 6.2l3 17.6l2 8.9l3.5 13.1l8 27.3l5 14.4l3.5 8.5l4 7.3l3.5 4.3l3 2.6l3 1.6l5 1.4l6 0.7l19 0.7l40 0" stroke="#8f6611"/>
<path d="M404.5 1581l56-0.6l46-2.1l15-1.5l19-3l7-1.6l4.5-2l3.5-3.6l4.5-6.9l6.5-17.3l3-7l3.5-7.3l4-6.2l2-4.4l3-14.1l5.5-34.2l2-9.5l1.5-2.3l4-3l2-2l8-10.6l1-0.9l1-0.2l1.5 1.1l5 6.9l1.5 1.3l0.5-0.1l0.5-0.5l2-3.3l1.5 0.6l2 2.7l2.5 5.3l1.5 6.8l3 19.4l2 9.8l3.5 14.4l8 30.1l5 15.9l3.5 9.4l4 8l3.5 4.7l3 3l3 1.7l5 1.5l6 0.9l19 0.7l40 0" stroke="#8f5411"/>
<path d="M403 1585.9l36-0.2l20-0.4l25-1.1l21-1.2l15-1.7l19-3.3l7-1.9l4.5-2.1l3.5-3.9l4.5-7.7l6.5-19.1l3-7.7l3.5-8l4-6.9l2-4.8l3-15.6l5.5-37.7l2-10.4l1.5-2.6l4-3.2l2-2.3l8-11.7l1-0.9l1-0.3l1.5 1.2l5 7.6l1.5 1.4l0.5 0l0.5-0.6l2-3.6l1.5 0.7l2 2.9l2.5 5.8l1.5 7.6l3 21.3l2 10.8l3.5 16l8 33.1l5 17.5l3.5 10.4l4 8.8l3.5 5.3l3 3.2l3 1.9l5 1.7l6 0.9l19 0.8l40 0" stroke="#8f4311"/>
<path d="M401.5 1590.8l36-0.2l20-0.5l25-1.1l21-1.4l15-1.9l19-3.7l7-2l4.5-2.3l3.5-4.4l4.5-8.4l6.5-21l3-8.5l3.5-8.9l4-7.6l2-5.3l3-17.2l5.5-41.5l2-11.5l1.5-2.9l4-3.5l2-2.6l8-12.8l1-1.1l1-0.3l1.5 1.3l5 8.4l1.5 1.6l0.5 0l0.5-0.7l2-4l1.5 0.8l2 3.3l2.5 6.4l1.5 8.2l3 23.6l2 11.9l3.5 17.6l8 36.6l5 19.3l3.5 11.4l4 9.7l3.5 5.8l3 3.5l3 2.1l5 1.9l6 1l19 0.9l40 0" stroke="#8f3311"/>
<path d="M400 1595.7l36-0.2l20-0.6l25-1.2l21-1.6l15-2l19-4.1l7-2.2l3-1.4l1.5-1.1l3.5-4.9l4.5-9.2l6.5-23.3l3-9.3l3.5-9.8l4-8.4l2-5.8l3-19l5.5-45.7l2-12.7l1.5-3.2l4-3.9l2-2.8l8-14.2l1-1.1l1-0.4l1.5 1.5l5 9.2l1.5 1.8l0.5 0l0.5-0.8l2-4.4l1.5 0.9l2 3.6l2.5 7l1.5 9.1l3 26l2 13.2l3.5 19.3l8 40.4l5 21.2l3.5 12.7l4 10.6l3.5 6.4l3 3.9l3 2.3l5 2.1l6 1.1l19 1l40 0" stroke="#8f2211"/>
<path d="M398.5 1600.6l36-0.3l20-0.6l25-1.3l21-1.8l15-2.2l19-4.5l7-2.4l3-1.6l1.5-1.2l3.5-5.3l4.5-10.3l6.5-25.6l3-10.3l3.5-10.7l4-9.3l2-6.5l3-20.8l5.5-50.5l2-14l1.5-3.5l4-4.3l2-3.1l4.5-8.3l3.5-7.3l1-1.3l1-0.4l1.5 1.6l5 10.2l1.5 2l0.5-0.1l0.5-0.8l2-4.8l1.5 0.9l2 4l2.5 7.8l1.5 10l3 28.7l2 14.5l3.5 21.3l8 44.5l5 23.4l3.5 14l4 11.7l3.5 7l3 4.4l3 2.5l5 2.3l6 1.2l5 0.5l14 0.6l40 0" stroke="#8f1c11"/>
<path d="M397 1605.5l36-0.3l20-0.7l25-1.5l21-1.9l15-2.4l19-4.9l7-2.7l3-1.8l1.5-1.3l3.5-5.9l4.5-11.3l6.5-28.2l3-11.4l3.5-11.9l4-10.1l2-7.2l3-23l5.5-55.6l2-15.5l1.5-3.8l4-4.8l2-3.4l4.5-9.1l3.5-8.1l1-1.4l1-0.4l1.5 1.7l5 11.3l1.5 2.1l0.5 0l0.5-0.9l2-5.3l0.5 0l1 1l2 4.3l2.5 8.6l1.5 11.1l3 31.6l2 16l3.5 23.5l8 49l5 25.9l3.5 15.4l4 12.9l3.5 7.8l3 4.7l3 2.8l5 2.5l6 1.4l5 0.6l14 0.6l40 0" stroke="#8f1711"/>
<path d="M395.5 1610.4l36-0.3l20-0.8l25-1.6l21-2.1l7.5-1.1l7.5-1.6l19-5.5l7-2.9l3-2l1.5-1.4l3.5-6.5l4.5-12.5l6.5-31.1l3-12.5l3.5-13.1l4-11.2l2-7.9l3-25.4l5.5-61.3l2-17l1.5-4.3l4-5.2l2-3.8l4.5-10l3.5-8.9l1-1.6l1-0.5l1.5 2l5 12.4l1.5 2.3l0.5 0l0.5-1l2-5.9l0.5 0.1l1 1l2 4.9l2.5 9.4l1.5 12.3l3 34.8l2 17.6l3.5 25.9l8 54.1l5 28.5l3.5 16.9l4 14.3l3.5 8.6l3 5.2l3 3.1l5 2.8l6 1.5l5 0.6l14 0.6l40 0.1" stroke="#8f1111"/>
</g>
<path d="M735.9 832.6 L810.1 590.9M756.9 764.1h7.3M780.8 686.3h7.3M806.3 603.4h7.3" stroke="#000" stroke-width="2.0" fill="none"/>
<text x="769.01" y="773.00" font-size="25.50" textLength="29.51" lengthAdjust="spacingAndGlyphs">15</text>
<text x="791.93" y="696.10" font-size="25.50" textLength="29.77" lengthAdjust="spacingAndGlyphs">30</text>
<text x="819.37" y="613.00" font-size="25.50" textLength="29.34" lengthAdjust="spacingAndGlyphs">45</text>
<text transform="translate(856 742.7) rotate(-90)" x="0" y="0" font-size="40.5" font-style="italic" text-anchor="middle" textLength="33" lengthAdjust="spacingAndGlyphs" dy="12.5">(s)</text>
<path d="M735.9 1224.3 L810.1 982.6M756.9 1155.8h7.3M780.8 1078h7.3M806.3 995.1h7.3" stroke="#000" stroke-width="2.0" fill="none"/>
<text x="769.01" y="1164.70" font-size="25.50" textLength="29.51" lengthAdjust="spacingAndGlyphs">15</text>
<text x="791.93" y="1087.80" font-size="25.50" textLength="29.77" lengthAdjust="spacingAndGlyphs">30</text>
<text x="819.37" y="1004.70" font-size="25.50" textLength="29.34" lengthAdjust="spacingAndGlyphs">45</text>
<text transform="translate(856 1134.4) rotate(-90)" x="0" y="0" font-size="40.5" font-style="italic" text-anchor="middle" textLength="33" lengthAdjust="spacingAndGlyphs" dy="12.5">(s)</text>
<path d="M735.9 1615.9 L810.1 1374.2M756.9 1547.4h7.3M780.8 1469.6h7.3M806.3 1386.7h7.3" stroke="#000" stroke-width="2.0" fill="none"/>
<text x="769.01" y="1556.30" font-size="25.50" textLength="29.51" lengthAdjust="spacingAndGlyphs">15</text>
<text x="791.93" y="1479.40" font-size="25.50" textLength="29.77" lengthAdjust="spacingAndGlyphs">30</text>
<text x="819.37" y="1396.30" font-size="25.50" textLength="29.34" lengthAdjust="spacingAndGlyphs">45</text>
<text transform="translate(856 1526) rotate(-90)" x="0" y="0" font-size="40.5" font-style="italic" text-anchor="middle" textLength="33" lengthAdjust="spacingAndGlyphs" dy="12.5">(s)</text>
<path d="M20.4 1618.6H350.3M24.2 1618.6v5.8M43.4 1618.6v5.8M62.5 1618.6v5.8M81.7 1618.6v5.8M100.8 1618.6v5.8M120 1618.6v5.8M139.2 1618.6v5.8M158.3 1618.6v5.8M177.5 1618.6v5.8M196.6 1618.6v5.8M215.8 1618.6v5.8M235 1618.6v5.8M254.1 1618.6v5.8M273.3 1618.6v5.8M292.4 1618.6v5.8M311.6 1618.6v5.8M330.8 1618.6v5.8M349.9 1618.6v5.8" stroke="#333" stroke-width="1.4" fill="none"/>
<path d="M395.8 1617.7H724.4M401.7 1617.7v5.5M414.7 1617.7v2.6M427.7 1617.7v2.6M440.6 1617.7v5.5M453.6 1617.7v2.6M466.6 1617.7v2.6M479.6 1617.7v5.5M492.6 1617.7v2.6M505.6 1617.7v2.6M518.5 1617.7v5.5M531.5 1617.7v2.6M544.5 1617.7v2.6M557.5 1617.7v5.5M570.5 1617.7v2.6M583.5 1617.7v2.6M596.5 1617.7v5.5M609.4 1617.7v2.6M622.4 1617.7v2.6M635.4 1617.7v5.5M648.4 1617.7v2.6M661.4 1617.7v2.6M674.4 1617.7v5.5M687.3 1617.7v2.6M700.3 1617.7v2.6M713.3 1617.7v5.5" stroke="#333" stroke-width="1.4" fill="none"/>
<text x="-0.44" y="1647.50" font-size="30.40" textLength="50.97" lengthAdjust="spacingAndGlyphs">100</text>
<text x="84.71" y="1647.50" font-size="30.40" textLength="33.31" lengthAdjust="spacingAndGlyphs">98</text>
<text x="160.61" y="1647.50" font-size="30.40" textLength="33.31" lengthAdjust="spacingAndGlyphs">96</text>
<text x="235.96" y="1647.50" font-size="30.40" textLength="33.31" lengthAdjust="spacingAndGlyphs">94</text>
<text x="312.76" y="1647.50" font-size="30.40" textLength="33.31" lengthAdjust="spacingAndGlyphs">92</text>
<text x="382.08" y="1647.50" font-size="30.40" textLength="33.31" lengthAdjust="spacingAndGlyphs">67</text>
<text x="460.53" y="1647.50" font-size="30.40" textLength="33.31" lengthAdjust="spacingAndGlyphs">65</text>
<text x="538.63" y="1647.50" font-size="30.40" textLength="33.31" lengthAdjust="spacingAndGlyphs">63</text>
<text x="619.51" y="1647.50" font-size="30.40" textLength="33.31" lengthAdjust="spacingAndGlyphs">61</text>
<text x="698.16" y="1647.50" font-size="30.40" textLength="33.31" lengthAdjust="spacingAndGlyphs">59</text>
<text x="106.82" y="1708.70" font-size="33.00" textLength="102.57" lengthAdjust="spacingAndGlyphs">δ/ppm</text>
<text x="523.62" y="1708.70" font-size="33.00" textLength="102.67" lengthAdjust="spacingAndGlyphs">δ/ppm</text>
<text x="0.33" y="534.60" font-size="40.80" textLength="23.94" lengthAdjust="spacingAndGlyphs">B</text>
<text x="0.41" y="938.40" font-size="40.80" textLength="26.52" lengthAdjust="spacingAndGlyphs">D</text>
<text x="0.87" y="1319.90" font-size="40.80" textLength="18.58" lengthAdjust="spacingAndGlyphs">F</text>
<text transform="rotate(-90)" x="-700.7" y="28.5" font-size="31" textLength="52.4" lengthAdjust="spacingAndGlyphs">yHK</text>
<text transform="rotate(-90)" x="-1126.2" y="28.7" font-size="31" textLength="56" lengthAdjust="spacingAndGlyphs">bGK</text>
<text transform="rotate(-90)" x="-1564.1" y="28.3" font-size="30.8" textLength="166.6" lengthAdjust="spacingAndGlyphs">w/o enzyme</text>
<path d="M1069.6 568.3V847M1059.4 836.5H1495M1059.4 702.4h10.2M1059.4 568.3h10.2M1237 836.5v10.5M1404.4 836.5v10.5" stroke="#000" stroke-width="2.5" fill="none"/>
<path d="M1072.8 663.1h10.4v10.4h-10.4zM1081.1 679.2h10.4v10.4h-10.4zM1089.5 693.8h10.4v10.4h-10.4zM1097.9 706.9h10.4v10.4h-10.4zM1106.2 718.8h10.4v10.4h-10.4zM1114.6 729.6h10.4v10.4h-10.4zM1123 739.3h10.4v10.4h-10.4zM1131.4 748.1h10.4v10.4h-10.4zM1139.7 756.1h10.4v10.4h-10.4zM1148.1 763.3h10.4v10.4h-10.4zM1156.5 769.8h10.4v10.4h-10.4zM1164.8 775.7h10.4v10.4h-10.4zM1173.2 781h10.4v10.4h-10.4zM1181.6 785.8h10.4v10.4h-10.4zM1189.9 790.2h10.4v10.4h-10.4zM1198.3 794.1h10.4v10.4h-10.4zM1206.7 797.7h10.4v10.4h-10.4zM1215.1 800.9h10.4v10.4h-10.4zM1223.4 803.8h10.4v10.4h-10.4zM1231.8 806.4h10.4v10.4h-10.4zM1240.2 808.8h10.4v10.4h-10.4zM1248.5 811h10.4v10.4h-10.4zM1256.9 812.9h10.4v10.4h-10.4zM1265.3 814.7h10.4v10.4h-10.4zM1273.6 816.3h10.4v10.4h-10.4zM1282 817.7h10.4v10.4h-10.4zM1290.4 819h10.4v10.4h-10.4zM1298.8 820.2h10.4v10.4h-10.4zM1307.1 821.2h10.4v10.4h-10.4zM1315.5 822.2h10.4v10.4h-10.4zM1323.9 823.1h10.4v10.4h-10.4zM1332.2 823.9h10.4v10.4h-10.4zM1340.6 824.6h10.4v10.4h-10.4zM1349 825.2h10.4v10.4h-10.4zM1357.3 825.8h10.4v10.4h-10.4zM1365.7 826.3h10.4v10.4h-10.4zM1374.1 826.8h10.4v10.4h-10.4zM1382.5 827.2h10.4v10.4h-10.4zM1390.8 827.6h10.4v10.4h-10.4zM1399.2 828h10.4v10.4h-10.4zM1407.6 828.3h10.4v10.4h-10.4zM1415.9 828.6h10.4v10.4h-10.4zM1424.3 828.8h10.4v10.4h-10.4zM1432.7 829.1h10.4v10.4h-10.4zM1441 829.3h10.4v10.4h-10.4zM1449.4 829.5h10.4v10.4h-10.4zM1457.8 829.7h10.4v10.4h-10.4zM1466.2 829.8h10.4v10.4h-10.4zM1474.5 830h10.4v10.4h-10.4zM1482.9 830.1h10.4v10.4h-10.4z" fill="#fff" stroke="#000" stroke-width="2.4"/>
<path d="M1078 692.8l5.3 10.4h-10.6zM1086.3 706.9l5.3 10.4h-10.6zM1094.7 719.5l5.3 10.4h-10.6zM1103.1 730.8l5.3 10.4h-10.6zM1111.4 741l5.3 10.4h-10.6zM1119.8 750.2l5.3 10.4h-10.6zM1128.2 758.4l5.3 10.4h-10.6zM1136.6 765.7l5.3 10.4h-10.6zM1144.9 772.3l5.3 10.4h-10.6zM1153.3 778.3l5.3 10.4h-10.6zM1161.7 783.6l5.3 10.4h-10.6zM1170 788.4l5.3 10.4h-10.6zM1178.4 792.7l5.3 10.4h-10.6zM1186.8 796.5l5.3 10.4h-10.6zM1195.1 800l5.3 10.4h-10.6zM1203.5 803.1l5.3 10.4h-10.6zM1211.9 805.8l5.3 10.4h-10.6zM1220.3 808.3l5.3 10.4h-10.6zM1228.6 810.6l5.3 10.4h-10.6zM1237 812.6l5.3 10.4h-10.6zM1245.4 814.4l5.3 10.4h-10.6zM1253.7 816l5.3 10.4h-10.6zM1262.1 817.5l5.3 10.4h-10.6zM1270.5 818.8l5.3 10.4h-10.6zM1278.8 820l5.3 10.4h-10.6zM1287.2 821l5.3 10.4h-10.6zM1295.6 822l5.3 10.4h-10.6zM1304 822.8l5.3 10.4h-10.6zM1312.3 823.6l5.3 10.4h-10.6zM1320.7 824.3l5.3 10.4h-10.6zM1329.1 824.9l5.3 10.4h-10.6zM1337.4 825.4l5.3 10.4h-10.6zM1345.8 825.9l5.3 10.4h-10.6zM1354.2 826.4l5.3 10.4h-10.6zM1362.5 826.8l5.3 10.4h-10.6zM1370.9 827.1l5.3 10.4h-10.6zM1379.3 827.5l5.3 10.4h-10.6zM1387.7 827.7l5.3 10.4h-10.6zM1396 828l5.3 10.4h-10.6zM1404.4 828.2l5.3 10.4h-10.6zM1412.8 828.4l5.3 10.4h-10.6zM1421.1 828.6l5.3 10.4h-10.6zM1429.5 828.8l5.3 10.4h-10.6zM1437.9 828.9l5.3 10.4h-10.6zM1446.2 829.1l5.3 10.4h-10.6zM1454.6 829.2l5.3 10.4h-10.6zM1463 829.3l5.3 10.4h-10.6zM1471.4 829.4l5.3 10.4h-10.6zM1479.7 829.5l5.3 10.4h-10.6zM1488.1 829.6l5.3 10.4h-10.6z" fill="#fff" stroke="#000" stroke-width="2.3" stroke-linejoin="miter"/>
<path d="M1071.7 806.3a6.3 6.3 0 1 0 12.6 0a6.3 6.3 0 1 0 -12.6 0zM1080 797.2a6.3 6.3 0 1 0 12.6 0a6.3 6.3 0 1 0 -12.6 0zM1088.4 791.2a6.3 6.3 0 1 0 12.6 0a6.3 6.3 0 1 0 -12.6 0zM1096.8 794a6.3 6.3 0 1 0 12.6 0a6.3 6.3 0 1 0 -12.6 0zM1105.1 790.4a6.3 6.3 0 1 0 12.6 0a6.3 6.3 0 1 0 -12.6 0zM1113.5 793.3a6.3 6.3 0 1 0 12.6 0a6.3 6.3 0 1 0 -12.6 0zM1121.9 794.8a6.3 6.3 0 1 0 12.6 0a6.3 6.3 0 1 0 -12.6 0zM1130.3 798.7a6.3 6.3 0 1 0 12.6 0a6.3 6.3 0 1 0 -12.6 0zM1138.6 800a6.3 6.3 0 1 0 12.6 0a6.3 6.3 0 1 0 -12.6 0zM1147 803.4a6.3 6.3 0 1 0 12.6 0a6.3 6.3 0 1 0 -12.6 0zM1155.4 806a6.3 6.3 0 1 0 12.6 0a6.3 6.3 0 1 0 -12.6 0zM1163.7 808.5a6.3 6.3 0 1 0 12.6 0a6.3 6.3 0 1 0 -12.6 0zM1172.1 810.9a6.3 6.3 0 1 0 12.6 0a6.3 6.3 0 1 0 -12.6 0zM1180.5 813.1a6.3 6.3 0 1 0 12.6 0a6.3 6.3 0 1 0 -12.6 0zM1188.8 815.1a6.3 6.3 0 1 0 12.6 0a6.3 6.3 0 1 0 -12.6 0zM1197.2 817a6.3 6.3 0 1 0 12.6 0a6.3 6.3 0 1 0 -12.6 0zM1205.6 818.7a6.3 6.3 0 1 0 12.6 0a6.3 6.3 0 1 0 -12.6 0zM1214 820.3a6.3 6.3 0 1 0 12.6 0a6.3 6.3 0 1 0 -12.6 0zM1222.3 821.7a6.3 6.3 0 1 0 12.6 0a6.3 6.3 0 1 0 -12.6 0zM1230.7 823a6.3 6.3 0 1 0 12.6 0a6.3 6.3 0 1 0 -12.6 0zM1239.1 825.3a6.3 6.3 0 1 0 12.6 0a6.3 6.3 0 1 0 -12.6 0zM1247.4 827.2a6.3 6.3 0 1 0 12.6 0a6.3 6.3 0 1 0 -12.6 0zM1255.8 828.7a6.3 6.3 0 1 0 12.6 0a6.3 6.3 0 1 0 -12.6 0zM1264.2 830a6.3 6.3 0 1 0 12.6 0a6.3 6.3 0 1 0 -12.6 0zM1272.5 831.1a6.3 6.3 0 1 0 12.6 0a6.3 6.3 0 1 0 -12.6 0zM1280.9 832a6.3 6.3 0 1 0 12.6 0a6.3 6.3 0 1 0 -12.6 0zM1289.3 832.8a6.3 6.3 0 1 0 12.6 0a6.3 6.3 0 1 0 -12.6 0zM1297.7 833.4a6.3 6.3 0 1 0 12.6 0a6.3 6.3 0 1 0 -12.6 0zM1306 833.9a6.3 6.3 0 1 0 12.6 0a6.3 6.3 0 1 0 -12.6 0zM1314.4 834.4a6.3 6.3 0 1 0 12.6 0a6.3 6.3 0 1 0 -12.6 0zM1322.8 834.7a6.3 6.3 0 1 0 12.6 0a6.3 6.3 0 1 0 -12.6 0zM1331.1 835a6.3 6.3 0 1 0 12.6 0a6.3 6.3 0 1 0 -12.6 0zM1339.5 835.3a6.3 6.3 0 1 0 12.6 0a6.3 6.3 0 1 0 -12.6 0zM1347.9 835.5a6.3 6.3 0 1 0 12.6 0a6.3 6.3 0 1 0 -12.6 0zM1356.2 835.6a6.3 6.3 0 1 0 12.6 0a6.3 6.3 0 1 0 -12.6 0zM1364.6 835.8a6.3 6.3 0 1 0 12.6 0a6.3 6.3 0 1 0 -12.6 0zM1373 835.9a6.3 6.3 0 1 0 12.6 0a6.3 6.3 0 1 0 -12.6 0zM1381.4 836a6.3 6.3 0 1 0 12.6 0a6.3 6.3 0 1 0 -12.6 0zM1389.7 836.1a6.3 6.3 0 1 0 12.6 0a6.3 6.3 0 1 0 -12.6 0zM1398.1 836.2a6.3 6.3 0 1 0 12.6 0a6.3 6.3 0 1 0 -12.6 0zM1406.5 836.2a6.3 6.3 0 1 0 12.6 0a6.3 6.3 0 1 0 -12.6 0zM1414.8 836.3a6.3 6.3 0 1 0 12.6 0a6.3 6.3 0 1 0 -12.6 0zM1423.2 836.3a6.3 6.3 0 1 0 12.6 0a6.3 6.3 0 1 0 -12.6 0z" fill="#000"/>
<text x="1022.41" y="578.60" font-size="30.50" textLength="16.62" lengthAdjust="spacingAndGlyphs">2</text>
<text x="1022.26" y="712.70" font-size="30.50" textLength="16.62" lengthAdjust="spacingAndGlyphs">1</text>
<text x="1021.96" y="846.80" font-size="30.50" textLength="16.62" lengthAdjust="spacingAndGlyphs">0</text>
<text x="1061.22" y="890.50" font-size="31.00" textLength="17.24" lengthAdjust="spacingAndGlyphs">0</text>
<text x="1219.86" y="890.50" font-size="31.00" textLength="34.48" lengthAdjust="spacingAndGlyphs">20</text>
<text x="1387.73" y="890.50" font-size="31.00" textLength="34.48" lengthAdjust="spacingAndGlyphs">40</text>
<text transform="rotate(-90)" x="-814" y="990.8" font-size="30.5" textLength="197" lengthAdjust="spacingAndGlyphs">Intensity (a.u.)</text>
<path d="M1247 622.7h11.2v11.2h-11.2z" fill="#fff" stroke="#000" stroke-width="2.3"/>
<text x="1270.21" y="637.30" font-size="29.60" textLength="141.94" lengthAdjust="spacingAndGlyphs">Glu+G6P C</text>
<text x="1411.52" y="638.90" font-size="29.60" textLength="8.25" lengthAdjust="spacingAndGlyphs">₁</text>
<text x="1421.18" y="637.30" font-size="29.60" textLength="17.44" lengthAdjust="spacingAndGlyphs">β</text>
<path d="M1252.6 671.1l5.6 11h-11.2z" fill="#fff" stroke="#000" stroke-width="2.3"/>
<text x="1270.21" y="686.50" font-size="29.60" textLength="141.94" lengthAdjust="spacingAndGlyphs">Glu+G6P C</text>
<text x="1411.52" y="688.10" font-size="29.60" textLength="8.25" lengthAdjust="spacingAndGlyphs">₁</text>
<text x="1421.27" y="686.50" font-size="29.60" textLength="19.16" lengthAdjust="spacingAndGlyphs">α</text>
<path d="M1246 726.1a6.6 6.6 0 1 0 13.2 0a6.6 6.6 0 1 0 -13.2 0z" fill="#000"/>
<text x="1270.30" y="735.60" font-size="29.60" textLength="77.49" lengthAdjust="spacingAndGlyphs">G6P C</text>
<text x="1350.00" y="736.80" font-size="29.60" textLength="12.44" lengthAdjust="spacingAndGlyphs">₆</text>
<text x="931.88" y="537.70" font-size="40.80" textLength="23.43" lengthAdjust="spacingAndGlyphs">C</text>
<path d="M1069.6 958.3V1237M1059.4 1226.5H1495M1059.4 1092.4h10.2M1059.4 958.3h10.2M1237 1226.5v10.5M1404.4 1226.5v10.5" stroke="#000" stroke-width="2.5" fill="none"/>
<path d="M1072.8 1004.1h10.4v10.4h-10.4zM1081.1 1040.3h10.4v10.4h-10.4zM1089.5 1058h10.4v10.4h-10.4zM1097.9 1070.6h10.4v10.4h-10.4zM1106.2 1082.3h10.4v10.4h-10.4zM1114.6 1093.1h10.4v10.4h-10.4zM1123 1103h10.4v10.4h-10.4zM1131.4 1112.2h10.4v10.4h-10.4zM1139.7 1120.7h10.4v10.4h-10.4zM1148.1 1128.5h10.4v10.4h-10.4zM1156.5 1135.7h10.4v10.4h-10.4zM1164.8 1142.3h10.4v10.4h-10.4zM1173.2 1148.4h10.4v10.4h-10.4zM1181.6 1154.1h10.4v10.4h-10.4zM1189.9 1159.3h10.4v10.4h-10.4zM1198.3 1164.1h10.4v10.4h-10.4zM1206.7 1168.5h10.4v10.4h-10.4zM1215.1 1172.6h10.4v10.4h-10.4zM1223.4 1176.4h10.4v10.4h-10.4zM1231.8 1179.9h10.4v10.4h-10.4zM1240.2 1183.1h10.4v10.4h-10.4zM1248.5 1186h10.4v10.4h-10.4zM1256.9 1188.8h10.4v10.4h-10.4zM1265.3 1191.3h10.4v10.4h-10.4zM1273.6 1193.6h10.4v10.4h-10.4zM1282 1195.8h10.4v10.4h-10.4zM1290.4 1197.8h10.4v10.4h-10.4zM1298.8 1199.6h10.4v10.4h-10.4zM1307.1 1201.3h10.4v10.4h-10.4zM1315.5 1202.8h10.4v10.4h-10.4zM1323.9 1204.2h10.4v10.4h-10.4zM1332.2 1205.6h10.4v10.4h-10.4zM1340.6 1206.8h10.4v10.4h-10.4zM1349 1207.9h10.4v10.4h-10.4zM1357.3 1209h10.4v10.4h-10.4zM1365.7 1209.9h10.4v10.4h-10.4zM1374.1 1210.8h10.4v10.4h-10.4zM1382.5 1211.6h10.4v10.4h-10.4zM1390.8 1212.4h10.4v10.4h-10.4zM1399.2 1213.1h10.4v10.4h-10.4zM1407.6 1213.7h10.4v10.4h-10.4zM1415.9 1214.3h10.4v10.4h-10.4zM1424.3 1214.8h10.4v10.4h-10.4zM1432.7 1215.3h10.4v10.4h-10.4zM1441 1215.8h10.4v10.4h-10.4zM1449.4 1216.2h10.4v10.4h-10.4zM1457.8 1216.6h10.4v10.4h-10.4zM1466.2 1217h10.4v10.4h-10.4zM1474.5 1217.3h10.4v10.4h-10.4zM1482.9 1217.6h10.4v10.4h-10.4z" fill="#fff" stroke="#000" stroke-width="2.4"/>
<path d="M1078 1003l5.3 10.4h-10.6zM1086.3 1039.2l5.3 10.4h-10.6zM1094.7 1056.9l5.3 10.4h-10.6zM1103.1 1068.1l5.3 10.4h-10.6zM1111.4 1079.8l5.3 10.4h-10.6zM1119.8 1090.6l5.3 10.4h-10.6zM1128.2 1100.5l5.3 10.4h-10.6zM1136.6 1109.7l5.3 10.4h-10.6zM1144.9 1118.1l5.3 10.4h-10.6zM1153.3 1126l5.3 10.4h-10.6zM1161.7 1133.1l5.3 10.4h-10.6zM1170 1139.8l5.3 10.4h-10.6zM1178.4 1145.9l5.3 10.4h-10.6zM1186.8 1151.6l5.3 10.4h-10.6zM1195.1 1156.8l5.3 10.4h-10.6zM1203.5 1161.6l5.3 10.4h-10.6zM1211.9 1166l5.3 10.4h-10.6zM1220.3 1170.1l5.3 10.4h-10.6zM1228.6 1173.9l5.3 10.4h-10.6zM1237 1177.4l5.3 10.4h-10.6zM1245.4 1180.6l5.3 10.4h-10.6zM1253.7 1183.5l5.3 10.4h-10.6zM1262.1 1186.3l5.3 10.4h-10.6zM1270.5 1188.8l5.3 10.4h-10.6zM1278.8 1191.1l5.3 10.4h-10.6zM1287.2 1193.3l5.3 10.4h-10.6zM1295.6 1195.2l5.3 10.4h-10.6zM1304 1197.1l5.3 10.4h-10.6zM1312.3 1198.8l5.3 10.4h-10.6zM1320.7 1200.3l5.3 10.4h-10.6zM1329.1 1201.7l5.3 10.4h-10.6zM1337.4 1203.1l5.3 10.4h-10.6zM1345.8 1204.3l5.3 10.4h-10.6zM1354.2 1205.4l5.3 10.4h-10.6zM1362.5 1206.4l5.3 10.4h-10.6zM1370.9 1207.4l5.3 10.4h-10.6zM1379.3 1208.3l5.3 10.4h-10.6zM1387.7 1209.1l5.3 10.4h-10.6zM1396 1209.9l5.3 10.4h-10.6zM1404.4 1210.5l5.3 10.4h-10.6zM1412.8 1211.2l5.3 10.4h-10.6zM1421.1 1211.8l5.3 10.4h-10.6zM1429.5 1212.3l5.3 10.4h-10.6zM1437.9 1212.8l5.3 10.4h-10.6zM1446.2 1213.3l5.3 10.4h-10.6zM1454.6 1213.7l5.3 10.4h-10.6zM1463 1214.1l5.3 10.4h-10.6zM1471.4 1214.5l5.3 10.4h-10.6zM1479.7 1214.8l5.3 10.4h-10.6zM1488.1 1215.1l5.3 10.4h-10.6z" fill="#fff" stroke="#000" stroke-width="2.3" stroke-linejoin="miter"/>
<path d="M1071.7 1197.3a6.3 6.3 0 1 0 12.6 0a6.3 6.3 0 1 0 -12.6 0zM1080 1191a6.3 6.3 0 1 0 12.6 0a6.3 6.3 0 1 0 -12.6 0zM1088.4 1185.6a6.3 6.3 0 1 0 12.6 0a6.3 6.3 0 1 0 -12.6 0zM1096.8 1178.8a6.3 6.3 0 1 0 12.6 0a6.3 6.3 0 1 0 -12.6 0zM1105.1 1174.2a6.3 6.3 0 1 0 12.6 0a6.3 6.3 0 1 0 -12.6 0zM1113.5 1168.8a6.3 6.3 0 1 0 12.6 0a6.3 6.3 0 1 0 -12.6 0zM1121.9 1164.1a6.3 6.3 0 1 0 12.6 0a6.3 6.3 0 1 0 -12.6 0zM1130.3 1167.2a6.3 6.3 0 1 0 12.6 0a6.3 6.3 0 1 0 -12.6 0zM1138.6 1163.5a6.3 6.3 0 1 0 12.6 0a6.3 6.3 0 1 0 -12.6 0zM1147 1165.2a6.3 6.3 0 1 0 12.6 0a6.3 6.3 0 1 0 -12.6 0zM1155.4 1168.8a6.3 6.3 0 1 0 12.6 0a6.3 6.3 0 1 0 -12.6 0zM1163.7 1168.8a6.3 6.3 0 1 0 12.6 0a6.3 6.3 0 1 0 -12.6 0zM1172.1 1172.6a6.3 6.3 0 1 0 12.6 0a6.3 6.3 0 1 0 -12.6 0zM1180.5 1174.9a6.3 6.3 0 1 0 12.6 0a6.3 6.3 0 1 0 -12.6 0zM1188.8 1177.2a6.3 6.3 0 1 0 12.6 0a6.3 6.3 0 1 0 -12.6 0zM1197.2 1181a6.3 6.3 0 1 0 12.6 0a6.3 6.3 0 1 0 -12.6 0zM1205.6 1184a6.3 6.3 0 1 0 12.6 0a6.3 6.3 0 1 0 -12.6 0zM1214 1187.1a6.3 6.3 0 1 0 12.6 0a6.3 6.3 0 1 0 -12.6 0zM1222.3 1190.2a6.3 6.3 0 1 0 12.6 0a6.3 6.3 0 1 0 -12.6 0zM1230.7 1193.2a6.3 6.3 0 1 0 12.6 0a6.3 6.3 0 1 0 -12.6 0zM1239.1 1195.7a6.3 6.3 0 1 0 12.6 0a6.3 6.3 0 1 0 -12.6 0zM1247.4 1197.7a6.3 6.3 0 1 0 12.6 0a6.3 6.3 0 1 0 -12.6 0zM1255.8 1199.7a6.3 6.3 0 1 0 12.6 0a6.3 6.3 0 1 0 -12.6 0zM1264.2 1202a6.3 6.3 0 1 0 12.6 0a6.3 6.3 0 1 0 -12.6 0zM1272.5 1204.1a6.3 6.3 0 1 0 12.6 0a6.3 6.3 0 1 0 -12.6 0zM1280.9 1205.6a6.3 6.3 0 1 0 12.6 0a6.3 6.3 0 1 0 -12.6 0zM1289.3 1206.9a6.3 6.3 0 1 0 12.6 0a6.3 6.3 0 1 0 -12.6 0zM1297.7 1208.2a6.3 6.3 0 1 0 12.6 0a6.3 6.3 0 1 0 -12.6 0zM1306 1209.4a6.3 6.3 0 1 0 12.6 0a6.3 6.3 0 1 0 -12.6 0zM1314.4 1210.5a6.3 6.3 0 1 0 12.6 0a6.3 6.3 0 1 0 -12.6 0zM1322.8 1211.5a6.3 6.3 0 1 0 12.6 0a6.3 6.3 0 1 0 -12.6 0zM1331.1 1212.5a6.3 6.3 0 1 0 12.6 0a6.3 6.3 0 1 0 -12.6 0zM1339.5 1213.4a6.3 6.3 0 1 0 12.6 0a6.3 6.3 0 1 0 -12.6 0zM1347.9 1214.2a6.3 6.3 0 1 0 12.6 0a6.3 6.3 0 1 0 -12.6 0zM1356.2 1215a6.3 6.3 0 1 0 12.6 0a6.3 6.3 0 1 0 -12.6 0zM1364.6 1215.8a6.3 6.3 0 1 0 12.6 0a6.3 6.3 0 1 0 -12.6 0zM1373 1216.5a6.3 6.3 0 1 0 12.6 0a6.3 6.3 0 1 0 -12.6 0zM1381.4 1217.1a6.3 6.3 0 1 0 12.6 0a6.3 6.3 0 1 0 -12.6 0zM1389.7 1217.7a6.3 6.3 0 1 0 12.6 0a6.3 6.3 0 1 0 -12.6 0zM1398.1 1218.3a6.3 6.3 0 1 0 12.6 0a6.3 6.3 0 1 0 -12.6 0zM1406.5 1218.8a6.3 6.3 0 1 0 12.6 0a6.3 6.3 0 1 0 -12.6 0zM1414.8 1219.3a6.3 6.3 0 1 0 12.6 0a6.3 6.3 0 1 0 -12.6 0zM1423.2 1219.8a6.3 6.3 0 1 0 12.6 0a6.3 6.3 0 1 0 -12.6 0zM1431.6 1220.2a6.3 6.3 0 1 0 12.6 0a6.3 6.3 0 1 0 -12.6 0zM1440 1220.6a6.3 6.3 0 1 0 12.6 0a6.3 6.3 0 1 0 -12.6 0zM1448.3 1221a6.3 6.3 0 1 0 12.6 0a6.3 6.3 0 1 0 -12.6 0zM1456.7 1221.4a6.3 6.3 0 1 0 12.6 0a6.3 6.3 0 1 0 -12.6 0zM1465.1 1221.7a6.3 6.3 0 1 0 12.6 0a6.3 6.3 0 1 0 -12.6 0zM1473.4 1222a6.3 6.3 0 1 0 12.6 0a6.3 6.3 0 1 0 -12.6 0zM1481.8 1222.3a6.3 6.3 0 1 0 12.6 0a6.3 6.3 0 1 0 -12.6 0z" fill="#000"/>
<text x="1022.41" y="968.60" font-size="30.50" textLength="16.62" lengthAdjust="spacingAndGlyphs">2</text>
<text x="1022.26" y="1102.70" font-size="30.50" textLength="16.62" lengthAdjust="spacingAndGlyphs">1</text>
<text x="1021.96" y="1236.80" font-size="30.50" textLength="16.62" lengthAdjust="spacingAndGlyphs">0</text>
<text x="1061.22" y="1280.50" font-size="31.00" textLength="17.24" lengthAdjust="spacingAndGlyphs">0</text>
<text x="1219.86" y="1280.50" font-size="31.00" textLength="34.48" lengthAdjust="spacingAndGlyphs">20</text>
<text x="1387.73" y="1280.50" font-size="31.00" textLength="34.48" lengthAdjust="spacingAndGlyphs">40</text>
<text transform="rotate(-90)" x="-1204" y="990.8" font-size="30.5" textLength="197" lengthAdjust="spacingAndGlyphs">Intensity (a.u.)</text>
<path d="M1247 1012.7h11.2v11.2h-11.2z" fill="#fff" stroke="#000" stroke-width="2.3"/>
<text x="1270.21" y="1027.30" font-size="29.60" textLength="141.94" lengthAdjust="spacingAndGlyphs">Glu+G6P C</text>
<text x="1411.52" y="1028.90" font-size="29.60" textLength="8.25" lengthAdjust="spacingAndGlyphs">₁</text>
<text x="1421.18" y="1027.30" font-size="29.60" textLength="17.44" lengthAdjust="spacingAndGlyphs">β</text>
<path d="M1252.6 1061.1l5.6 11h-11.2z" fill="#fff" stroke="#000" stroke-width="2.3"/>
<text x="1270.21" y="1076.50" font-size="29.60" textLength="141.94" lengthAdjust="spacingAndGlyphs">Glu+G6P C</text>
<text x="1411.52" y="1078.10" font-size="29.60" textLength="8.25" lengthAdjust="spacingAndGlyphs">₁</text>
<text x="1421.27" y="1076.50" font-size="29.60" textLength="19.16" lengthAdjust="spacingAndGlyphs">α</text>
<path d="M1246 1116.1a6.6 6.6 0 1 0 13.2 0a6.6 6.6 0 1 0 -13.2 0z" fill="#000"/>
<text x="1270.30" y="1125.60" font-size="29.60" textLength="77.49" lengthAdjust="spacingAndGlyphs">G6P C</text>
<text x="1350.00" y="1126.80" font-size="29.60" textLength="12.44" lengthAdjust="spacingAndGlyphs">₆</text>
<text x="933.00" y="940.50" font-size="40.80" textLength="19.22" lengthAdjust="spacingAndGlyphs">E</text>
<path d="M1069.6 1345.6V1624.3M1059.4 1613.8H1495M1059.4 1479.7h10.2M1059.4 1345.6h10.2M1237 1613.8v10.5M1404.4 1613.8v10.5" stroke="#000" stroke-width="2.5" fill="none"/>
<path d="M1072.8 1355.4h10.4v10.4h-10.4zM1081.1 1378.9h10.4v10.4h-10.4zM1089.5 1400.3h10.4v10.4h-10.4zM1097.9 1419.6h10.4v10.4h-10.4zM1106.2 1437.2h10.4v10.4h-10.4zM1114.6 1453.2h10.4v10.4h-10.4zM1123 1467.6h10.4v10.4h-10.4zM1131.4 1480.7h10.4v10.4h-10.4zM1139.7 1492.6h10.4v10.4h-10.4zM1148.1 1503.4h10.4v10.4h-10.4zM1156.5 1513.2h10.4v10.4h-10.4zM1164.8 1522.1h10.4v10.4h-10.4zM1173.2 1530.1h10.4v10.4h-10.4zM1181.6 1537.4h10.4v10.4h-10.4zM1189.9 1544h10.4v10.4h-10.4zM1198.3 1550h10.4v10.4h-10.4zM1206.7 1555.5h10.4v10.4h-10.4zM1215.1 1560.4h10.4v10.4h-10.4zM1223.4 1564.9h10.4v10.4h-10.4zM1231.8 1569h10.4v10.4h-10.4zM1240.2 1572.6h10.4v10.4h-10.4zM1248.5 1576h10.4v10.4h-10.4zM1256.9 1579h10.4v10.4h-10.4zM1265.3 1581.8h10.4v10.4h-10.4zM1273.6 1584.3h10.4v10.4h-10.4zM1282 1586.5h10.4v10.4h-10.4zM1290.4 1588.6h10.4v10.4h-10.4zM1298.8 1590.4h10.4v10.4h-10.4zM1307.1 1592.1h10.4v10.4h-10.4zM1315.5 1593.7h10.4v10.4h-10.4zM1323.9 1595.1h10.4v10.4h-10.4zM1332.2 1596.3h10.4v10.4h-10.4zM1340.6 1597.5h10.4v10.4h-10.4zM1349 1598.5h10.4v10.4h-10.4zM1357.3 1599.4h10.4v10.4h-10.4zM1365.7 1600.3h10.4v10.4h-10.4zM1374.1 1601.1h10.4v10.4h-10.4zM1382.5 1601.8h10.4v10.4h-10.4zM1390.8 1602.4h10.4v10.4h-10.4zM1399.2 1603h10.4v10.4h-10.4zM1407.6 1603.5h10.4v10.4h-10.4zM1415.9 1604h10.4v10.4h-10.4zM1424.3 1604.4h10.4v10.4h-10.4zM1432.7 1604.8h10.4v10.4h-10.4zM1441 1605.1h10.4v10.4h-10.4zM1449.4 1605.5h10.4v10.4h-10.4zM1457.8 1605.8h10.4v10.4h-10.4zM1466.2 1606h10.4v10.4h-10.4zM1474.5 1606.3h10.4v10.4h-10.4zM1482.9 1606.5h10.4v10.4h-10.4z" fill="#fff" stroke="#000" stroke-width="2.4"/>
<path d="M1078 1411.4l5.3 10.4h-10.6zM1086.3 1429.2l5.3 10.4h-10.6zM1094.7 1445.5l5.3 10.4h-10.6zM1103.1 1460.3l5.3 10.4h-10.6zM1111.4 1473.7l5.3 10.4h-10.6zM1119.8 1485.9l5.3 10.4h-10.6zM1128.2 1497l5.3 10.4h-10.6zM1136.6 1507.1l5.3 10.4h-10.6zM1144.9 1516.2l5.3 10.4h-10.6zM1153.3 1524.6l5.3 10.4h-10.6zM1161.7 1532.1l5.3 10.4h-10.6zM1170 1539l5.3 10.4h-10.6zM1178.4 1545.3l5.3 10.4h-10.6zM1186.8 1550.9l5.3 10.4h-10.6zM1195.1 1556.1l5.3 10.4h-10.6zM1203.5 1560.8l5.3 10.4h-10.6zM1211.9 1565.1l5.3 10.4h-10.6zM1220.3 1568.9l5.3 10.4h-10.6zM1228.6 1572.5l5.3 10.4h-10.6zM1237 1575.7l5.3 10.4h-10.6zM1245.4 1578.6l5.3 10.4h-10.6zM1253.7 1581.2l5.3 10.4h-10.6zM1262.1 1583.6l5.3 10.4h-10.6zM1270.5 1585.8l5.3 10.4h-10.6zM1278.8 1587.8l5.3 10.4h-10.6zM1287.2 1589.6l5.3 10.4h-10.6zM1295.6 1591.2l5.3 10.4h-10.6zM1304 1592.7l5.3 10.4h-10.6zM1312.3 1594.1l5.3 10.4h-10.6zM1320.7 1595.3l5.3 10.4h-10.6zM1329.1 1596.4l5.3 10.4h-10.6zM1337.4 1597.4l5.3 10.4h-10.6zM1345.8 1598.4l5.3 10.4h-10.6zM1354.2 1599.2l5.3 10.4h-10.6zM1362.5 1600l5.3 10.4h-10.6zM1370.9 1600.7l5.3 10.4h-10.6zM1379.3 1601.3l5.3 10.4h-10.6zM1387.7 1601.9l5.3 10.4h-10.6zM1396 1602.4l5.3 10.4h-10.6zM1404.4 1602.9l5.3 10.4h-10.6zM1412.8 1603.3l5.3 10.4h-10.6zM1421.1 1603.7l5.3 10.4h-10.6zM1429.5 1604l5.3 10.4h-10.6zM1437.9 1604.4l5.3 10.4h-10.6zM1446.2 1604.6l5.3 10.4h-10.6zM1454.6 1604.9l5.3 10.4h-10.6zM1463 1605.2l5.3 10.4h-10.6zM1471.4 1605.4l5.3 10.4h-10.6zM1479.7 1605.6l5.3 10.4h-10.6zM1488.1 1605.8l5.3 10.4h-10.6z" fill="#fff" stroke="#000" stroke-width="2.3" stroke-linejoin="miter"/>
<path d="M1071.7 1613.8a6.3 6.3 0 1 0 12.6 0a6.3 6.3 0 1 0 -12.6 0zM1080 1613.8a6.3 6.3 0 1 0 12.6 0a6.3 6.3 0 1 0 -12.6 0zM1088.4 1613.8a6.3 6.3 0 1 0 12.6 0a6.3 6.3 0 1 0 -12.6 0zM1121.9 1613.8a6.3 6.3 0 1 0 12.6 0a6.3 6.3 0 1 0 -12.6 0zM1147 1613.8a6.3 6.3 0 1 0 12.6 0a6.3 6.3 0 1 0 -12.6 0zM1163.7 1613.8a6.3 6.3 0 1 0 12.6 0a6.3 6.3 0 1 0 -12.6 0zM1188.8 1613.8a6.3 6.3 0 1 0 12.6 0a6.3 6.3 0 1 0 -12.6 0zM1197.2 1613.8a6.3 6.3 0 1 0 12.6 0a6.3 6.3 0 1 0 -12.6 0zM1205.6 1613.8a6.3 6.3 0 1 0 12.6 0a6.3 6.3 0 1 0 -12.6 0zM1214 1613.8a6.3 6.3 0 1 0 12.6 0a6.3 6.3 0 1 0 -12.6 0zM1230.7 1613.8a6.3 6.3 0 1 0 12.6 0a6.3 6.3 0 1 0 -12.6 0zM1239.1 1613.8a6.3 6.3 0 1 0 12.6 0a6.3 6.3 0 1 0 -12.6 0zM1247.4 1613.8a6.3 6.3 0 1 0 12.6 0a6.3 6.3 0 1 0 -12.6 0zM1255.8 1613.8a6.3 6.3 0 1 0 12.6 0a6.3 6.3 0 1 0 -12.6 0zM1264.2 1613.8a6.3 6.3 0 1 0 12.6 0a6.3 6.3 0 1 0 -12.6 0zM1280.9 1613.8a6.3 6.3 0 1 0 12.6 0a6.3 6.3 0 1 0 -12.6 0zM1306 1613.8a6.3 6.3 0 1 0 12.6 0a6.3 6.3 0 1 0 -12.6 0zM1322.8 1613.8a6.3 6.3 0 1 0 12.6 0a6.3 6.3 0 1 0 -12.6 0zM1331.1 1613.8a6.3 6.3 0 1 0 12.6 0a6.3 6.3 0 1 0 -12.6 0zM1339.5 1613.8a6.3 6.3 0 1 0 12.6 0a6.3 6.3 0 1 0 -12.6 0zM1356.2 1613.8a6.3 6.3 0 1 0 12.6 0a6.3 6.3 0 1 0 -12.6 0zM1364.6 1613.8a6.3 6.3 0 1 0 12.6 0a6.3 6.3 0 1 0 -12.6 0zM1373 1613.8a6.3 6.3 0 1 0 12.6 0a6.3 6.3 0 1 0 -12.6 0zM1381.4 1613.8a6.3 6.3 0 1 0 12.6 0a6.3 6.3 0 1 0 -12.6 0zM1389.7 1613.8a6.3 6.3 0 1 0 12.6 0a6.3 6.3 0 1 0 -12.6 0zM1414.8 1613.8a6.3 6.3 0 1 0 12.6 0a6.3 6.3 0 1 0 -12.6 0zM1431.6 1613.8a6.3 6.3 0 1 0 12.6 0a6.3 6.3 0 1 0 -12.6 0zM1440 1613.8a6.3 6.3 0 1 0 12.6 0a6.3 6.3 0 1 0 -12.6 0zM1448.3 1613.8a6.3 6.3 0 1 0 12.6 0a6.3 6.3 0 1 0 -12.6 0zM1465.1 1613.8a6.3 6.3 0 1 0 12.6 0a6.3 6.3 0 1 0 -12.6 0z" fill="#000"/>
<text x="1022.41" y="1355.90" font-size="30.50" textLength="16.62" lengthAdjust="spacingAndGlyphs">2</text>
<text x="1022.26" y="1490.00" font-size="30.50" textLength="16.62" lengthAdjust="spacingAndGlyphs">1</text>
<text x="1021.96" y="1624.10" font-size="30.50" textLength="16.62" lengthAdjust="spacingAndGlyphs">0</text>
<text x="1061.22" y="1667.80" font-size="31.00" textLength="17.24" lengthAdjust="spacingAndGlyphs">0</text>
<text x="1219.86" y="1667.80" font-size="31.00" textLength="34.48" lengthAdjust="spacingAndGlyphs">20</text>
<text x="1387.73" y="1667.80" font-size="31.00" textLength="34.48" lengthAdjust="spacingAndGlyphs">40</text>
<text transform="rotate(-90)" x="-1591.3" y="990.8" font-size="30.5" textLength="197" lengthAdjust="spacingAndGlyphs">Intensity (a.u.)</text>
<path d="M1238.5 1399.4h11.2v11.2h-11.2z" fill="#fff" stroke="#000" stroke-width="2.3"/>
<text x="1260.90" y="1413.80" font-size="29.60" textLength="71.61" lengthAdjust="spacingAndGlyphs">Glu C</text>
<text x="1332.08" y="1417.00" font-size="29.60" textLength="7.75" lengthAdjust="spacingAndGlyphs">₁</text>
<text x="1340.83" y="1413.80" font-size="29.60" textLength="17.81" lengthAdjust="spacingAndGlyphs">β</text>
<path d="M1244.1 1447.4l5.6 11h-11.2z" fill="#fff" stroke="#000" stroke-width="2.3"/>
<text x="1260.90" y="1463.10" font-size="29.60" textLength="71.61" lengthAdjust="spacingAndGlyphs">Glu C</text>
<text x="1332.08" y="1466.30" font-size="29.60" textLength="7.75" lengthAdjust="spacingAndGlyphs">₁</text>
<text x="1341.03" y="1463.10" font-size="29.60" textLength="18.36" lengthAdjust="spacingAndGlyphs">α</text>
<path d="M1237.5 1502.7a6.6 6.6 0 1 0 13.2 0a6.6 6.6 0 1 0 -13.2 0z" fill="#000"/>
<text x="1260.75" y="1511.50" font-size="29.60" textLength="187.53" lengthAdjust="spacingAndGlyphs">Glu heptamer</text>
<text x="931.61" y="1320.00" font-size="40.80" textLength="27.79" lengthAdjust="spacingAndGlyphs">G</text>
<text x="1221.34" y="1709.00" font-size="30.50" textLength="120.59" lengthAdjust="spacingAndGlyphs">Time (s)</text>
</svg>
</body></html>
